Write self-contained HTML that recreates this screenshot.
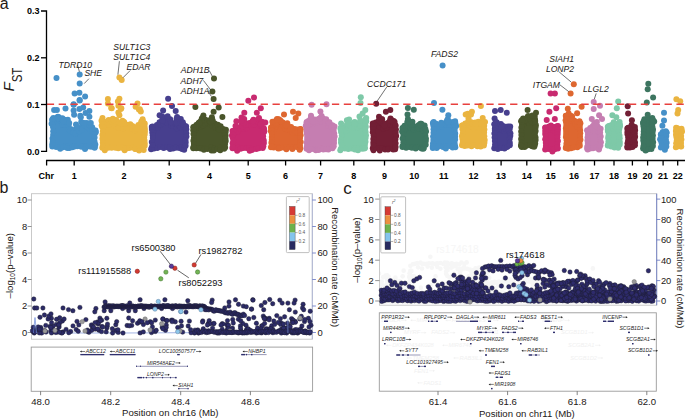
<!DOCTYPE html><html><head><meta charset="utf-8"><style>html,body{margin:0;padding:0;background:#fff;width:685px;height:419px;overflow:hidden}svg{display:block}</style></head><body><svg width="685" height="419" viewBox="0 0 685 419" font-family='"Liberation Sans", sans-serif'><rect width="685" height="419" fill="#fff"/><text x="-0.3" y="8.7" font-size="16" text-anchor="start" font-weight="normal" font-style="normal" fill="#231815" >a</text><g fill="#4690c8"><polygon points="52.3,123.2 54.1,122.5 55.9,121.7 57.7,120.9 59.5,121.6 61.3,122.5 63.1,123.5 64.9,124.4 66.7,126.6 68.5,128.8 70.3,131.1 72.1,133.2 73.9,132.9 75.7,132.6 77.5,132.4 79.3,131.0 81.1,129.3 82.9,127.5 84.7,125.8 86.5,126.2 88.3,127.2 90.1,128.1 91.9,130.0 93.7,131.8 95.5,133.7 95.5,146.5 52.3,146.5"/><circle cx="52.3" cy="120.0" r="3.0"/><circle cx="51.6" cy="123.7" r="3.0"/><circle cx="54.2" cy="119.4" r="3.0"/><circle cx="53.9" cy="121.1" r="3.0"/><circle cx="56.8" cy="117.8" r="3.0"/><circle cx="56.7" cy="120.0" r="3.0"/><circle cx="58.8" cy="118.1" r="3.0"/><circle cx="59.4" cy="120.1" r="3.0"/><circle cx="60.9" cy="119.5" r="3.0"/><circle cx="61.8" cy="122.6" r="3.0"/><circle cx="63.4" cy="121.1" r="3.0"/><circle cx="62.5" cy="124.7" r="3.0"/><circle cx="65.6" cy="121.9" r="3.0"/><circle cx="64.9" cy="124.7" r="3.0"/><circle cx="68.7" cy="125.8" r="3.0"/><circle cx="68.9" cy="129.6" r="3.0"/><circle cx="71.1" cy="129.2" r="3.0"/><circle cx="70.3" cy="130.8" r="3.0"/><circle cx="73.3" cy="130.2" r="3.0"/><circle cx="73.1" cy="132.5" r="3.0"/><circle cx="76.0" cy="129.6" r="3.0"/><circle cx="75.6" cy="133.5" r="3.0"/><circle cx="78.9" cy="128.2" r="3.0"/><circle cx="79.1" cy="131.5" r="3.0"/><circle cx="82.1" cy="125.5" r="3.0"/><circle cx="81.7" cy="129.7" r="3.0"/><circle cx="84.1" cy="123.3" r="3.0"/><circle cx="84.6" cy="125.3" r="3.0"/><circle cx="86.7" cy="122.9" r="3.0"/><circle cx="87.0" cy="127.1" r="3.0"/><circle cx="89.4" cy="125.1" r="3.0"/><circle cx="89.0" cy="128.3" r="3.0"/><circle cx="92.2" cy="127.3" r="3.0"/><circle cx="92.1" cy="131.2" r="3.0"/><circle cx="95.5" cy="130.6" r="3.0"/><circle cx="95.8" cy="132.3" r="3.0"/><circle cx="80.3" cy="115.7" r="3.0"/><circle cx="81.2" cy="122.1" r="3.0"/><circle cx="64.6" cy="119.7" r="3.0"/><circle cx="65.1" cy="121.2" r="3.0"/><circle cx="53.3" cy="117.9" r="3.0"/><circle cx="52.3" cy="119.6" r="3.0"/><circle cx="57.4" cy="117.4" r="3.0"/><circle cx="58.2" cy="118.5" r="3.0"/><circle cx="57.9" cy="116.7" r="3.0"/><circle cx="57.6" cy="118.0" r="3.0"/><circle cx="89.9" cy="124.3" r="3.0"/><circle cx="89.8" cy="125.4" r="3.0"/><circle cx="76.0" cy="124.4" r="3.0"/><circle cx="77.0" cy="127.7" r="3.0"/><circle cx="89.6" cy="123.6" r="3.0"/><circle cx="89.4" cy="125.0" r="3.0"/><circle cx="67.8" cy="119.7" r="3.0"/><circle cx="69.2" cy="123.1" r="3.0"/><circle cx="58.8" cy="117.3" r="3.0"/><circle cx="58.0" cy="118.5" r="3.0"/><circle cx="62.4" cy="118.2" r="3.0"/><circle cx="62.6" cy="119.9" r="3.0"/><circle cx="63.7" cy="120.3" r="3.0"/><circle cx="63.4" cy="121.3" r="3.0"/><circle cx="52.3" cy="146.6" r="3.0"/><circle cx="56.2" cy="147.0" r="3.0"/><circle cx="59.4" cy="147.0" r="3.0"/><circle cx="60.2" cy="148.7" r="3.0"/><circle cx="63.2" cy="147.2" r="3.0"/><circle cx="66.0" cy="146.2" r="3.0"/><circle cx="68.1" cy="146.1" r="3.0"/><circle cx="67.4" cy="148.0" r="3.0"/><circle cx="70.2" cy="146.0" r="3.0"/><circle cx="69.4" cy="148.1" r="3.0"/><circle cx="72.3" cy="147.3" r="3.0"/><circle cx="74.6" cy="146.4" r="3.0"/><circle cx="77.3" cy="146.2" r="3.0"/><circle cx="81.3" cy="146.7" r="3.0"/><circle cx="83.5" cy="146.2" r="3.0"/><circle cx="86.0" cy="147.2" r="3.0"/><circle cx="85.0" cy="149.0" r="3.0"/><circle cx="89.0" cy="146.2" r="3.0"/><circle cx="91.1" cy="146.8" r="3.0"/><circle cx="94.8" cy="147.0" r="3.0"/><circle cx="94.6" cy="147.8" r="3.0"/><circle cx="52.8" cy="120.7" r="3.0"/><circle cx="52.6" cy="124.4" r="3.0"/><circle cx="53.1" cy="127.2" r="3.0"/><circle cx="53.2" cy="131.2" r="3.0"/><circle cx="53.1" cy="134.9" r="3.0"/><circle cx="52.5" cy="138.5" r="3.0"/><circle cx="52.7" cy="141.8" r="3.0"/><circle cx="52.3" cy="144.3" r="3.0"/><circle cx="95.2" cy="130.7" r="3.0"/><circle cx="94.5" cy="134.2" r="3.0"/><circle cx="94.6" cy="137.4" r="3.0"/><circle cx="94.5" cy="141.4" r="3.0"/><circle cx="95.3" cy="144.4" r="3.0"/><circle cx="56.5" cy="78.1" r="3.0"/><circle cx="79.7" cy="74.6" r="3.0"/><circle cx="79.7" cy="83.6" r="3.0"/><circle cx="74.6" cy="93.4" r="3.0"/><circle cx="79.4" cy="92.7" r="3.0"/><circle cx="85.1" cy="96.5" r="3.0"/><circle cx="79.6" cy="99.9" r="3.0"/><circle cx="73.7" cy="104.2" r="3.0"/><circle cx="79.7" cy="100.5" r="3.0"/><circle cx="54.1" cy="110" r="3.0"/><circle cx="56.9" cy="110" r="3.0"/><circle cx="65.5" cy="108.6" r="3.0"/><circle cx="73.6" cy="104.8" r="3.0"/><circle cx="73.6" cy="110.5" r="3.0"/><circle cx="74.1" cy="114.8" r="3.0"/><circle cx="79.4" cy="109" r="3.0"/><circle cx="83.2" cy="107.6" r="3.0"/><circle cx="89.4" cy="111" r="3.0"/><circle cx="80.8" cy="117.2" r="3.0"/><circle cx="89.4" cy="116.7" r="3.0"/><circle cx="83.7" cy="122.9" r="3.0"/><circle cx="90.8" cy="122.9" r="3.0"/><circle cx="85.6" cy="112.9" r="3.0"/></g><g fill="#eab440"><polygon points="102.3,125.1 104.1,125.1 105.9,124.4 107.6,123.8 109.4,123.2 111.2,122.6 113.0,123.0 114.8,124.2 116.5,125.5 118.3,126.5 120.1,126.8 121.9,127.1 123.7,127.3 125.4,127.5 127.2,127.3 129.0,127.1 130.8,127.7 132.5,129.4 134.3,131.2 136.1,130.6 137.9,128.7 139.7,126.9 141.4,126.6 143.2,126.8 145.0,127.0 145.0,148.0 102.3,148.0"/><circle cx="102.3" cy="121.8" r="3.0"/><circle cx="101.7" cy="125.5" r="3.0"/><circle cx="105.5" cy="121.9" r="3.0"/><circle cx="105.5" cy="125.0" r="3.0"/><circle cx="108.6" cy="120.1" r="3.0"/><circle cx="108.9" cy="124.7" r="3.0"/><circle cx="111.7" cy="119.7" r="3.0"/><circle cx="111.6" cy="121.5" r="3.0"/><circle cx="114.7" cy="121.0" r="3.0"/><circle cx="115.3" cy="125.6" r="3.0"/><circle cx="117.2" cy="122.8" r="3.0"/><circle cx="118.1" cy="126.6" r="3.0"/><circle cx="119.2" cy="123.3" r="3.0"/><circle cx="118.5" cy="127.9" r="3.0"/><circle cx="122.3" cy="123.8" r="3.0"/><circle cx="123.0" cy="128.6" r="3.0"/><circle cx="125.2" cy="124.3" r="3.0"/><circle cx="125.3" cy="126.4" r="3.0"/><circle cx="127.0" cy="124.8" r="3.0"/><circle cx="127.3" cy="127.4" r="3.0"/><circle cx="130.3" cy="124.2" r="3.0"/><circle cx="131.0" cy="128.3" r="3.0"/><circle cx="132.4" cy="126.1" r="3.0"/><circle cx="132.0" cy="128.6" r="3.0"/><circle cx="135.2" cy="128.4" r="3.0"/><circle cx="135.0" cy="130.5" r="3.0"/><circle cx="138.4" cy="125.0" r="3.0"/><circle cx="138.3" cy="128.4" r="3.0"/><circle cx="141.7" cy="123.6" r="3.0"/><circle cx="142.5" cy="126.7" r="3.0"/><circle cx="144.3" cy="124.0" r="3.0"/><circle cx="143.4" cy="126.8" r="3.0"/><circle cx="102.5" cy="118.1" r="3.0"/><circle cx="101.5" cy="120.8" r="3.0"/><circle cx="122.5" cy="120.8" r="3.0"/><circle cx="122.7" cy="123.2" r="3.0"/><circle cx="116.2" cy="120.1" r="3.0"/><circle cx="116.4" cy="122.0" r="3.0"/><circle cx="135.8" cy="127.2" r="3.0"/><circle cx="136.0" cy="128.3" r="3.0"/><circle cx="112.9" cy="118.7" r="3.0"/><circle cx="113.7" cy="120.1" r="3.0"/><circle cx="124.0" cy="122.0" r="3.0"/><circle cx="124.8" cy="123.9" r="3.0"/><circle cx="141.3" cy="121.8" r="3.0"/><circle cx="141.6" cy="123.5" r="3.0"/><circle cx="123.9" cy="122.3" r="3.0"/><circle cx="124.5" cy="124.1" r="3.0"/><circle cx="121.6" cy="121.8" r="3.0"/><circle cx="121.5" cy="123.7" r="3.0"/><circle cx="142.5" cy="120.6" r="3.0"/><circle cx="143.6" cy="122.9" r="3.0"/><circle cx="142.5" cy="122.6" r="3.0"/><circle cx="142.7" cy="123.9" r="3.0"/><circle cx="142.6" cy="119.2" r="3.0"/><circle cx="141.5" cy="122.2" r="3.0"/><circle cx="102.3" cy="147.7" r="3.0"/><circle cx="104.4" cy="147.9" r="3.0"/><circle cx="104.8" cy="150.3" r="3.0"/><circle cx="108.2" cy="147.7" r="3.0"/><circle cx="111.6" cy="147.7" r="3.0"/><circle cx="115.5" cy="147.8" r="3.0"/><circle cx="118.3" cy="148.2" r="3.0"/><circle cx="122.0" cy="147.7" r="3.0"/><circle cx="125.0" cy="148.0" r="3.0"/><circle cx="124.6" cy="150.2" r="3.0"/><circle cx="127.0" cy="148.3" r="3.0"/><circle cx="129.1" cy="148.0" r="3.0"/><circle cx="132.1" cy="147.6" r="3.0"/><circle cx="135.7" cy="149.0" r="3.0"/><circle cx="135.2" cy="149.1" r="3.0"/><circle cx="139.2" cy="147.9" r="3.0"/><circle cx="139.1" cy="150.5" r="3.0"/><circle cx="142.9" cy="147.9" r="3.0"/><circle cx="143.7" cy="149.9" r="3.0"/><circle cx="102.4" cy="121.6" r="3.0"/><circle cx="103.0" cy="124.2" r="3.0"/><circle cx="102.4" cy="127.3" r="3.0"/><circle cx="102.9" cy="131.2" r="3.0"/><circle cx="102.4" cy="134.9" r="3.0"/><circle cx="102.4" cy="138.7" r="3.0"/><circle cx="102.8" cy="142.5" r="3.0"/><circle cx="102.9" cy="145.5" r="3.0"/><circle cx="144.7" cy="123.5" r="3.0"/><circle cx="144.5" cy="126.2" r="3.0"/><circle cx="144.9" cy="129.1" r="3.0"/><circle cx="144.9" cy="131.8" r="3.0"/><circle cx="144.7" cy="134.6" r="3.0"/><circle cx="144.2" cy="137.6" r="3.0"/><circle cx="144.5" cy="140.5" r="3.0"/><circle cx="144.7" cy="143.3" r="3.0"/><circle cx="144.7" cy="145.8" r="3.0"/><circle cx="119.4" cy="77.6" r="3.0"/><circle cx="121.7" cy="80" r="3.0"/><circle cx="107.9" cy="99.1" r="3.0"/><circle cx="107.9" cy="103.4" r="3.0"/><circle cx="111.7" cy="108.2" r="3.0"/><circle cx="119.4" cy="98.7" r="3.0"/><circle cx="117.9" cy="101.5" r="3.0"/><circle cx="118.4" cy="105.8" r="3.0"/><circle cx="121.3" cy="108.2" r="3.0"/><circle cx="137.5" cy="103.4" r="3.0"/><circle cx="135.6" cy="106.8" r="3.0"/><circle cx="139.9" cy="109.2" r="3.0"/><circle cx="111.2" cy="108.1" r="3.0"/><circle cx="120.8" cy="109.1" r="3.0"/><circle cx="118.4" cy="112.4" r="3.0"/><circle cx="119.4" cy="115.3" r="3.0"/><circle cx="140.8" cy="111.5" r="3.0"/><circle cx="138.9" cy="109.6" r="3.0"/></g><g fill="#473f8e"><polygon points="151.8,129.9 153.5,129.9 155.3,129.6 157.0,127.7 158.7,125.9 160.5,124.3 162.2,123.6 163.9,122.9 165.7,122.9 167.4,124.0 169.2,125.1 170.9,126.2 172.6,126.9 174.4,126.9 176.1,126.9 177.8,126.9 179.6,126.9 181.3,127.5 183.0,128.4 184.8,129.3 186.5,129.9 186.5,147.6 151.8,147.6"/><circle cx="151.8" cy="127.1" r="3.0"/><circle cx="151.9" cy="129.0" r="3.0"/><circle cx="154.4" cy="127.3" r="3.0"/><circle cx="153.6" cy="130.9" r="3.0"/><circle cx="156.9" cy="124.9" r="3.0"/><circle cx="157.5" cy="127.6" r="3.0"/><circle cx="159.5" cy="122.3" r="3.0"/><circle cx="160.4" cy="124.6" r="3.0"/><circle cx="162.6" cy="120.7" r="3.0"/><circle cx="162.9" cy="123.2" r="3.0"/><circle cx="164.9" cy="119.1" r="3.0"/><circle cx="164.2" cy="121.2" r="3.0"/><circle cx="167.9" cy="121.1" r="3.0"/><circle cx="167.3" cy="123.1" r="3.0"/><circle cx="171.1" cy="123.7" r="3.0"/><circle cx="171.4" cy="125.7" r="3.0"/><circle cx="173.3" cy="123.7" r="3.0"/><circle cx="173.2" cy="125.9" r="3.0"/><circle cx="175.8" cy="123.7" r="3.0"/><circle cx="176.7" cy="128.3" r="3.0"/><circle cx="178.5" cy="123.6" r="3.0"/><circle cx="179.4" cy="126.3" r="3.0"/><circle cx="180.8" cy="123.8" r="3.0"/><circle cx="180.6" cy="127.2" r="3.0"/><circle cx="183.4" cy="125.3" r="3.0"/><circle cx="183.4" cy="127.1" r="3.0"/><circle cx="185.7" cy="126.3" r="3.0"/><circle cx="185.5" cy="128.4" r="3.0"/><circle cx="162.4" cy="119.5" r="3.0"/><circle cx="162.6" cy="120.8" r="3.0"/><circle cx="170.2" cy="119.2" r="3.0"/><circle cx="170.6" cy="121.7" r="3.0"/><circle cx="176.6" cy="118.8" r="3.0"/><circle cx="176.3" cy="122.1" r="3.0"/><circle cx="163.1" cy="110.6" r="3.0"/><circle cx="162.1" cy="116.2" r="3.0"/><circle cx="176.9" cy="121.1" r="3.0"/><circle cx="175.6" cy="123.3" r="3.0"/><circle cx="180.8" cy="118.9" r="3.0"/><circle cx="181.2" cy="122.3" r="3.0"/><circle cx="177.3" cy="119.7" r="3.0"/><circle cx="176.2" cy="122.6" r="3.0"/><circle cx="170.0" cy="120.6" r="3.0"/><circle cx="171.0" cy="122.4" r="3.0"/><circle cx="179.7" cy="119.5" r="3.0"/><circle cx="180.0" cy="122.5" r="3.0"/><circle cx="182.8" cy="122.3" r="3.0"/><circle cx="183.4" cy="124.5" r="3.0"/><circle cx="151.8" cy="147.4" r="3.0"/><circle cx="151.1" cy="149.2" r="3.0"/><circle cx="154.0" cy="148.4" r="3.0"/><circle cx="157.3" cy="148.0" r="3.0"/><circle cx="160.2" cy="147.1" r="3.0"/><circle cx="163.7" cy="147.9" r="3.0"/><circle cx="167.1" cy="147.2" r="3.0"/><circle cx="169.6" cy="147.2" r="3.0"/><circle cx="170.0" cy="148.9" r="3.0"/><circle cx="173.0" cy="148.6" r="3.0"/><circle cx="175.8" cy="147.8" r="3.0"/><circle cx="179.3" cy="148.0" r="3.0"/><circle cx="181.5" cy="147.3" r="3.0"/><circle cx="182.0" cy="149.1" r="3.0"/><circle cx="184.6" cy="147.1" r="3.0"/><circle cx="184.2" cy="149.7" r="3.0"/><circle cx="152.5" cy="126.4" r="3.0"/><circle cx="152.3" cy="129.3" r="3.0"/><circle cx="152.3" cy="132.5" r="3.0"/><circle cx="152.7" cy="135.2" r="3.0"/><circle cx="152.8" cy="138.0" r="3.0"/><circle cx="151.8" cy="141.9" r="3.0"/><circle cx="152.6" cy="145.1" r="3.0"/><circle cx="186.1" cy="126.4" r="3.0"/><circle cx="186.3" cy="129.3" r="3.0"/><circle cx="186.3" cy="133.2" r="3.0"/><circle cx="186.4" cy="136.6" r="3.0"/><circle cx="185.5" cy="139.9" r="3.0"/><circle cx="185.7" cy="142.6" r="3.0"/><circle cx="185.6" cy="145.8" r="3.0"/><circle cx="168.1" cy="98.7" r="3.0"/><circle cx="172" cy="106" r="3.0"/><circle cx="175.7" cy="111.1" r="3.0"/><circle cx="159.6" cy="115.2" r="3.0"/><circle cx="167.6" cy="116.2" r="3.0"/><circle cx="177.1" cy="117" r="3.0"/></g><g fill="#4a552b"><polygon points="193.3,130.5 195.0,130.5 196.7,128.8 198.5,127.0 200.2,125.4 201.9,124.4 203.6,123.3 205.3,122.6 207.1,123.4 208.8,124.1 210.5,124.9 212.2,125.6 214.0,126.2 215.7,126.8 217.4,127.5 219.1,128.1 220.8,129.3 222.6,131.1 224.3,132.9 226.0,134.7 226.0,148.1 193.3,148.1"/><circle cx="193.3" cy="127.2" r="3.0"/><circle cx="194.1" cy="130.5" r="3.0"/><circle cx="195.1" cy="126.9" r="3.0"/><circle cx="195.1" cy="130.2" r="3.0"/><circle cx="197.4" cy="124.7" r="3.0"/><circle cx="197.1" cy="127.5" r="3.0"/><circle cx="200.6" cy="121.7" r="3.0"/><circle cx="201.1" cy="126.2" r="3.0"/><circle cx="202.6" cy="121.4" r="3.0"/><circle cx="203.0" cy="125.2" r="3.0"/><circle cx="204.8" cy="119.5" r="3.0"/><circle cx="204.6" cy="124.1" r="3.0"/><circle cx="207.6" cy="120.5" r="3.0"/><circle cx="207.4" cy="122.9" r="3.0"/><circle cx="209.4" cy="121.0" r="3.0"/><circle cx="210.1" cy="123.8" r="3.0"/><circle cx="212.7" cy="122.5" r="3.0"/><circle cx="212.3" cy="125.8" r="3.0"/><circle cx="214.8" cy="123.4" r="3.0"/><circle cx="215.8" cy="127.7" r="3.0"/><circle cx="217.9" cy="124.8" r="3.0"/><circle cx="218.8" cy="129.0" r="3.0"/><circle cx="220.6" cy="126.3" r="3.0"/><circle cx="219.7" cy="129.7" r="3.0"/><circle cx="223.1" cy="128.9" r="3.0"/><circle cx="223.4" cy="131.0" r="3.0"/><circle cx="225.0" cy="131.1" r="3.0"/><circle cx="224.3" cy="133.6" r="3.0"/><circle cx="203.0" cy="117.2" r="3.0"/><circle cx="204.5" cy="119.7" r="3.0"/><circle cx="201.8" cy="118.6" r="3.0"/><circle cx="201.2" cy="120.7" r="3.0"/><circle cx="211.5" cy="120.7" r="3.0"/><circle cx="210.5" cy="122.2" r="3.0"/><circle cx="198.6" cy="122.9" r="3.0"/><circle cx="199.8" cy="124.2" r="3.0"/><circle cx="209.6" cy="120.4" r="3.0"/><circle cx="210.8" cy="121.7" r="3.0"/><circle cx="225.9" cy="129.7" r="3.0"/><circle cx="224.8" cy="131.4" r="3.0"/><circle cx="199.6" cy="122.2" r="3.0"/><circle cx="199.1" cy="123.3" r="3.0"/><circle cx="196.3" cy="125.1" r="3.0"/><circle cx="195.6" cy="126.4" r="3.0"/><circle cx="211.9" cy="117.2" r="3.0"/><circle cx="212.7" cy="120.6" r="3.0"/><circle cx="193.3" cy="148.2" r="3.0"/><circle cx="196.3" cy="148.2" r="3.0"/><circle cx="198.5" cy="148.0" r="3.0"/><circle cx="200.7" cy="148.4" r="3.0"/><circle cx="204.4" cy="147.9" r="3.0"/><circle cx="203.9" cy="149.7" r="3.0"/><circle cx="207.3" cy="149.0" r="3.0"/><circle cx="211.1" cy="147.6" r="3.0"/><circle cx="211.5" cy="150.5" r="3.0"/><circle cx="214.0" cy="148.5" r="3.0"/><circle cx="213.8" cy="150.6" r="3.0"/><circle cx="217.7" cy="148.9" r="3.0"/><circle cx="220.2" cy="147.8" r="3.0"/><circle cx="220.2" cy="150.2" r="3.0"/><circle cx="224.1" cy="148.7" r="3.0"/><circle cx="193.8" cy="127.0" r="3.0"/><circle cx="193.3" cy="130.3" r="3.0"/><circle cx="193.5" cy="134.0" r="3.0"/><circle cx="193.9" cy="137.9" r="3.0"/><circle cx="193.4" cy="140.8" r="3.0"/><circle cx="193.9" cy="143.7" r="3.0"/><circle cx="193.4" cy="147.3" r="3.0"/><circle cx="225.5" cy="132.2" r="3.0"/><circle cx="225.6" cy="135.6" r="3.0"/><circle cx="225.4" cy="138.4" r="3.0"/><circle cx="225.7" cy="140.9" r="3.0"/><circle cx="225.0" cy="144.1" r="3.0"/><circle cx="225.1" cy="147.6" r="3.0"/><circle cx="214" cy="78.5" r="3.0"/><circle cx="212.4" cy="91.4" r="3.0"/><circle cx="213.6" cy="99.1" r="3.0"/><circle cx="195.4" cy="107" r="3.0"/><circle cx="218.7" cy="107.4" r="3.0"/><circle cx="213.6" cy="111.8" r="3.0"/><circle cx="203.4" cy="115.5" r="3.0"/><circle cx="222.4" cy="117" r="3.0"/></g><g fill="#c82a70"><polygon points="232.5,134.2 234.2,133.2 236.0,132.2 237.8,131.3 239.5,130.3 241.2,129.4 243.0,128.7 244.8,127.9 246.5,127.1 248.2,126.3 250.0,125.5 251.8,124.9 253.5,124.3 255.2,123.7 257.0,123.1 258.8,123.8 260.5,126.3 262.2,128.7 264.0,131.1 264.0,148.2 232.5,148.2"/><circle cx="232.5" cy="131.0" r="3.0"/><circle cx="232.0" cy="135.6" r="3.0"/><circle cx="235.4" cy="129.4" r="3.0"/><circle cx="234.5" cy="132.6" r="3.0"/><circle cx="238.3" cy="127.9" r="3.0"/><circle cx="237.8" cy="131.5" r="3.0"/><circle cx="241.6" cy="126.0" r="3.0"/><circle cx="240.7" cy="128.8" r="3.0"/><circle cx="244.1" cy="125.4" r="3.0"/><circle cx="243.5" cy="129.1" r="3.0"/><circle cx="247.0" cy="123.8" r="3.0"/><circle cx="246.5" cy="128.2" r="3.0"/><circle cx="249.3" cy="123.1" r="3.0"/><circle cx="248.8" cy="125.0" r="3.0"/><circle cx="252.4" cy="121.5" r="3.0"/><circle cx="253.3" cy="124.7" r="3.0"/><circle cx="254.5" cy="120.7" r="3.0"/><circle cx="254.3" cy="124.5" r="3.0"/><circle cx="257.8" cy="119.5" r="3.0"/><circle cx="257.6" cy="122.0" r="3.0"/><circle cx="261.1" cy="123.8" r="3.0"/><circle cx="260.2" cy="125.8" r="3.0"/><circle cx="263.6" cy="127.9" r="3.0"/><circle cx="264.3" cy="131.2" r="3.0"/><circle cx="261.8" cy="123.7" r="3.0"/><circle cx="260.9" cy="125.2" r="3.0"/><circle cx="262.0" cy="121.8" r="3.0"/><circle cx="260.6" cy="124.3" r="3.0"/><circle cx="253.4" cy="119.8" r="3.0"/><circle cx="253.1" cy="121.3" r="3.0"/><circle cx="242.9" cy="124.8" r="3.0"/><circle cx="241.5" cy="126.0" r="3.0"/><circle cx="241.3" cy="125.0" r="3.0"/><circle cx="242.7" cy="126.4" r="3.0"/><circle cx="236.4" cy="121.2" r="3.0"/><circle cx="235.5" cy="125.9" r="3.0"/><circle cx="243.7" cy="121.0" r="3.0"/><circle cx="244.7" cy="123.9" r="3.0"/><circle cx="246.1" cy="123.6" r="3.0"/><circle cx="246.0" cy="124.7" r="3.0"/><circle cx="244.2" cy="119.0" r="3.0"/><circle cx="243.3" cy="122.8" r="3.0"/><circle cx="232.5" cy="148.2" r="3.0"/><circle cx="234.6" cy="148.3" r="3.0"/><circle cx="238.1" cy="147.8" r="3.0"/><circle cx="237.2" cy="150.7" r="3.0"/><circle cx="240.6" cy="148.8" r="3.0"/><circle cx="243.3" cy="148.1" r="3.0"/><circle cx="246.5" cy="148.1" r="3.0"/><circle cx="249.2" cy="148.1" r="3.0"/><circle cx="249.7" cy="150.7" r="3.0"/><circle cx="252.4" cy="149.1" r="3.0"/><circle cx="251.9" cy="150.0" r="3.0"/><circle cx="256.3" cy="149.1" r="3.0"/><circle cx="258.8" cy="148.3" r="3.0"/><circle cx="262.7" cy="148.0" r="3.0"/><circle cx="233.3" cy="131.0" r="3.0"/><circle cx="233.1" cy="134.7" r="3.0"/><circle cx="232.8" cy="137.7" r="3.0"/><circle cx="233.3" cy="140.7" r="3.0"/><circle cx="232.7" cy="143.3" r="3.0"/><circle cx="232.7" cy="146.9" r="3.0"/><circle cx="264.0" cy="129.0" r="3.0"/><circle cx="263.7" cy="132.3" r="3.0"/><circle cx="263.1" cy="136.3" r="3.0"/><circle cx="263.7" cy="140.3" r="3.0"/><circle cx="263.9" cy="142.9" r="3.0"/><circle cx="263.3" cy="146.2" r="3.0"/><circle cx="248.3" cy="100.7" r="3.0"/><circle cx="254" cy="97.5" r="3.0"/><circle cx="260.8" cy="108.3" r="3.0"/><circle cx="244.3" cy="112.7" r="3.0"/><circle cx="256.8" cy="112.7" r="3.0"/><circle cx="241.5" cy="117.6" r="3.0"/><circle cx="241.5" cy="120.8" r="3.0"/><circle cx="259" cy="118" r="3.0"/><circle cx="265.3" cy="122.6" r="3.0"/></g><g fill="#de6730"><polygon points="271.0,130.7 272.7,129.4 274.5,128.0 276.2,126.6 278.0,125.3 279.7,123.9 281.5,124.8 283.2,126.0 285.0,127.3 286.7,128.5 288.5,129.8 290.2,130.9 292.0,131.2 293.7,131.5 295.5,131.8 297.2,132.1 299.0,132.3 300.7,132.5 300.7,147.3 271.0,147.3"/><circle cx="271.0" cy="127.5" r="3.0"/><circle cx="270.8" cy="131.1" r="3.0"/><circle cx="273.9" cy="125.7" r="3.0"/><circle cx="274.6" cy="129.0" r="3.0"/><circle cx="275.9" cy="124.3" r="3.0"/><circle cx="275.5" cy="127.1" r="3.0"/><circle cx="278.3" cy="122.3" r="3.0"/><circle cx="277.7" cy="124.3" r="3.0"/><circle cx="280.5" cy="120.7" r="3.0"/><circle cx="281.2" cy="124.3" r="3.0"/><circle cx="282.8" cy="122.6" r="3.0"/><circle cx="283.8" cy="125.7" r="3.0"/><circle cx="285.0" cy="124.6" r="3.0"/><circle cx="285.3" cy="128.7" r="3.0"/><circle cx="286.9" cy="125.7" r="3.0"/><circle cx="287.6" cy="129.7" r="3.0"/><circle cx="290.2" cy="127.5" r="3.0"/><circle cx="289.8" cy="129.8" r="3.0"/><circle cx="292.3" cy="128.7" r="3.0"/><circle cx="292.5" cy="132.6" r="3.0"/><circle cx="294.7" cy="129.0" r="3.0"/><circle cx="294.6" cy="130.9" r="3.0"/><circle cx="297.7" cy="129.6" r="3.0"/><circle cx="296.9" cy="132.4" r="3.0"/><circle cx="300.5" cy="129.2" r="3.0"/><circle cx="300.3" cy="131.4" r="3.0"/><circle cx="278.6" cy="119.3" r="3.0"/><circle cx="279.0" cy="121.3" r="3.0"/><circle cx="277.0" cy="122.5" r="3.0"/><circle cx="276.5" cy="123.5" r="3.0"/><circle cx="291.1" cy="127.1" r="3.0"/><circle cx="290.6" cy="128.4" r="3.0"/><circle cx="277.0" cy="119.0" r="3.0"/><circle cx="277.2" cy="121.8" r="3.0"/><circle cx="272.9" cy="125.5" r="3.0"/><circle cx="272.6" cy="126.6" r="3.0"/><circle cx="287.3" cy="123.2" r="3.0"/><circle cx="286.1" cy="125.4" r="3.0"/><circle cx="275.9" cy="120.8" r="3.0"/><circle cx="275.6" cy="123.1" r="3.0"/><circle cx="279.4" cy="119.8" r="3.0"/><circle cx="280.8" cy="121.3" r="3.0"/><circle cx="271.0" cy="147.3" r="3.0"/><circle cx="273.7" cy="147.4" r="3.0"/><circle cx="277.7" cy="147.3" r="3.0"/><circle cx="278.2" cy="148.6" r="3.0"/><circle cx="279.7" cy="148.2" r="3.0"/><circle cx="283.4" cy="147.4" r="3.0"/><circle cx="286.3" cy="147.0" r="3.0"/><circle cx="286.4" cy="149.3" r="3.0"/><circle cx="290.1" cy="146.9" r="3.0"/><circle cx="292.8" cy="147.6" r="3.0"/><circle cx="292.4" cy="149.1" r="3.0"/><circle cx="296.7" cy="147.0" r="3.0"/><circle cx="300.3" cy="148.3" r="3.0"/><circle cx="299.6" cy="149.8" r="3.0"/><circle cx="271.5" cy="128.0" r="3.0"/><circle cx="271.9" cy="130.6" r="3.0"/><circle cx="271.9" cy="133.7" r="3.0"/><circle cx="271.8" cy="137.1" r="3.0"/><circle cx="271.8" cy="139.8" r="3.0"/><circle cx="271.4" cy="142.7" r="3.0"/><circle cx="271.8" cy="146.4" r="3.0"/><circle cx="300.5" cy="129.0" r="3.0"/><circle cx="300.2" cy="132.1" r="3.0"/><circle cx="300.6" cy="135.2" r="3.0"/><circle cx="300.0" cy="138.0" r="3.0"/><circle cx="300.7" cy="141.9" r="3.0"/><circle cx="299.9" cy="145.2" r="3.0"/><circle cx="284" cy="114.5" r="3.0"/><circle cx="293" cy="111.8" r="3.0"/><circle cx="298.3" cy="113.6" r="3.0"/><circle cx="295.7" cy="118.1" r="3.0"/><circle cx="272.4" cy="121.7" r="3.0"/><circle cx="276.9" cy="119.9" r="3.0"/></g><g fill="#c57eb1"><polygon points="306.6,125.5 308.2,125.4 309.9,124.8 311.5,124.1 313.2,123.5 314.8,122.9 316.5,122.5 318.1,122.2 319.8,121.9 321.4,121.6 323.1,121.3 324.7,121.1 326.4,122.5 328.0,124.4 329.7,126.2 331.3,128.1 333.0,129.9 334.6,130.0 334.6,148.2 306.6,148.2"/><circle cx="306.6" cy="122.8" r="3.0"/><circle cx="305.8" cy="125.8" r="3.0"/><circle cx="309.3" cy="122.1" r="3.0"/><circle cx="308.9" cy="124.8" r="3.0"/><circle cx="312.0" cy="120.9" r="3.0"/><circle cx="312.3" cy="123.8" r="3.0"/><circle cx="314.5" cy="119.5" r="3.0"/><circle cx="314.8" cy="123.0" r="3.0"/><circle cx="316.7" cy="119.8" r="3.0"/><circle cx="317.2" cy="122.4" r="3.0"/><circle cx="318.8" cy="119.1" r="3.0"/><circle cx="318.0" cy="121.0" r="3.0"/><circle cx="321.3" cy="118.3" r="3.0"/><circle cx="321.2" cy="121.7" r="3.0"/><circle cx="323.1" cy="118.5" r="3.0"/><circle cx="322.3" cy="122.0" r="3.0"/><circle cx="326.2" cy="119.3" r="3.0"/><circle cx="325.3" cy="122.3" r="3.0"/><circle cx="328.6" cy="122.5" r="3.0"/><circle cx="327.9" cy="126.1" r="3.0"/><circle cx="332.0" cy="126.1" r="3.0"/><circle cx="332.6" cy="127.9" r="3.0"/><circle cx="320.4" cy="111.4" r="3.0"/><circle cx="321.6" cy="115.9" r="3.0"/><circle cx="311.2" cy="117.3" r="3.0"/><circle cx="312.5" cy="120.0" r="3.0"/><circle cx="308.4" cy="120.9" r="3.0"/><circle cx="309.2" cy="122.4" r="3.0"/><circle cx="311.0" cy="115.8" r="3.0"/><circle cx="310.4" cy="119.3" r="3.0"/><circle cx="329.4" cy="122.2" r="3.0"/><circle cx="329.4" cy="123.3" r="3.0"/><circle cx="332.4" cy="125.3" r="3.0"/><circle cx="331.6" cy="126.5" r="3.0"/><circle cx="320.8" cy="117.4" r="3.0"/><circle cx="319.4" cy="118.8" r="3.0"/><circle cx="311.7" cy="120.2" r="3.0"/><circle cx="313.0" cy="121.4" r="3.0"/><circle cx="306.6" cy="148.7" r="3.0"/><circle cx="308.9" cy="148.9" r="3.0"/><circle cx="309.0" cy="150.2" r="3.0"/><circle cx="311.7" cy="149.0" r="3.0"/><circle cx="314.8" cy="149.0" r="3.0"/><circle cx="315.8" cy="150.2" r="3.0"/><circle cx="317.6" cy="148.9" r="3.0"/><circle cx="318.6" cy="150.1" r="3.0"/><circle cx="320.3" cy="148.8" r="3.0"/><circle cx="322.7" cy="148.8" r="3.0"/><circle cx="323.3" cy="149.6" r="3.0"/><circle cx="326.0" cy="149.2" r="3.0"/><circle cx="329.3" cy="148.2" r="3.0"/><circle cx="328.4" cy="149.4" r="3.0"/><circle cx="332.5" cy="148.3" r="3.0"/><circle cx="306.7" cy="122.0" r="3.0"/><circle cx="307.3" cy="124.8" r="3.0"/><circle cx="306.6" cy="127.4" r="3.0"/><circle cx="306.7" cy="130.4" r="3.0"/><circle cx="306.8" cy="133.4" r="3.0"/><circle cx="307.2" cy="136.8" r="3.0"/><circle cx="307.2" cy="139.6" r="3.0"/><circle cx="306.7" cy="142.8" r="3.0"/><circle cx="306.8" cy="146.7" r="3.0"/><circle cx="334.5" cy="126.5" r="3.0"/><circle cx="333.7" cy="130.0" r="3.0"/><circle cx="334.2" cy="133.6" r="3.0"/><circle cx="334.6" cy="136.5" r="3.0"/><circle cx="334.0" cy="140.0" r="3.0"/><circle cx="334.0" cy="143.0" r="3.0"/><circle cx="333.7" cy="146.2" r="3.0"/><circle cx="311.6" cy="104.7" r="3.0"/><circle cx="326.5" cy="104.3" r="3.0"/></g><g fill="#7ec9a8"><polygon points="340.9,131.5 342.6,131.2 344.2,130.3 345.9,129.5 347.6,128.6 349.2,127.7 350.9,127.2 352.6,127.1 354.2,126.9 355.9,126.8 357.6,126.6 359.2,126.5 360.9,126.0 362.6,125.2 364.2,124.4 365.9,123.5 365.9,148.2 340.9,148.2"/><circle cx="340.9" cy="128.2" r="3.0"/><circle cx="341.7" cy="130.1" r="3.0"/><circle cx="343.6" cy="127.6" r="3.0"/><circle cx="343.0" cy="129.4" r="3.0"/><circle cx="346.6" cy="125.6" r="3.0"/><circle cx="346.7" cy="130.4" r="3.0"/><circle cx="348.6" cy="124.7" r="3.0"/><circle cx="348.8" cy="128.0" r="3.0"/><circle cx="351.5" cy="124.5" r="3.0"/><circle cx="350.8" cy="126.6" r="3.0"/><circle cx="353.7" cy="123.5" r="3.0"/><circle cx="354.5" cy="127.8" r="3.0"/><circle cx="356.7" cy="123.2" r="3.0"/><circle cx="357.4" cy="127.4" r="3.0"/><circle cx="359.2" cy="123.7" r="3.0"/><circle cx="359.1" cy="125.6" r="3.0"/><circle cx="361.2" cy="122.6" r="3.0"/><circle cx="360.3" cy="125.3" r="3.0"/><circle cx="364.2" cy="121.6" r="3.0"/><circle cx="364.9" cy="125.0" r="3.0"/><circle cx="354.7" cy="122.1" r="3.0"/><circle cx="355.6" cy="123.7" r="3.0"/><circle cx="354.0" cy="122.8" r="3.0"/><circle cx="354.4" cy="124.1" r="3.0"/><circle cx="365.0" cy="119.9" r="3.0"/><circle cx="366.2" cy="121.2" r="3.0"/><circle cx="341.3" cy="127.3" r="3.0"/><circle cx="340.5" cy="128.7" r="3.0"/><circle cx="359.5" cy="116.6" r="3.0"/><circle cx="360.2" cy="120.8" r="3.0"/><circle cx="349.1" cy="119.6" r="3.0"/><circle cx="348.6" cy="123.0" r="3.0"/><circle cx="346.9" cy="120.2" r="3.0"/><circle cx="347.3" cy="123.8" r="3.0"/><circle cx="340.9" cy="148.7" r="3.0"/><circle cx="344.9" cy="148.4" r="3.0"/><circle cx="348.3" cy="149.0" r="3.0"/><circle cx="351.7" cy="148.6" r="3.0"/><circle cx="354.1" cy="148.6" r="3.0"/><circle cx="354.9" cy="149.4" r="3.0"/><circle cx="356.2" cy="147.9" r="3.0"/><circle cx="358.9" cy="147.9" r="3.0"/><circle cx="358.0" cy="150.3" r="3.0"/><circle cx="362.1" cy="148.7" r="3.0"/><circle cx="364.3" cy="148.6" r="3.0"/><circle cx="341.7" cy="128.0" r="3.0"/><circle cx="341.0" cy="131.8" r="3.0"/><circle cx="341.8" cy="135.6" r="3.0"/><circle cx="341.0" cy="139.6" r="3.0"/><circle cx="341.0" cy="142.4" r="3.0"/><circle cx="341.7" cy="144.9" r="3.0"/><circle cx="365.3" cy="120.0" r="3.0"/><circle cx="365.3" cy="123.7" r="3.0"/><circle cx="365.8" cy="126.7" r="3.0"/><circle cx="365.1" cy="129.3" r="3.0"/><circle cx="365.6" cy="132.1" r="3.0"/><circle cx="365.9" cy="135.3" r="3.0"/><circle cx="365.6" cy="138.1" r="3.0"/><circle cx="365.5" cy="141.7" r="3.0"/><circle cx="364.9" cy="144.7" r="3.0"/><circle cx="365.0" cy="148.0" r="3.0"/><circle cx="360.8" cy="97.2" r="3.0"/><circle cx="360.5" cy="102.9" r="3.0"/><circle cx="365.3" cy="110" r="3.0"/><circle cx="362.6" cy="113.6" r="3.0"/><circle cx="366.2" cy="118.1" r="3.0"/><circle cx="341.1" cy="123.5" r="3.0"/><circle cx="340.3" cy="150.3" r="3.0"/></g><g fill="#721f35"><polygon points="372.8,126.9 374.5,126.1 376.2,125.4 377.8,124.6 379.5,125.7 381.2,127.0 382.9,128.3 384.6,129.6 386.2,128.7 387.9,127.0 389.6,125.3 391.3,123.6 392.9,123.8 394.6,125.6 396.3,127.3 396.3,148.2 372.8,148.2"/><circle cx="372.8" cy="123.5" r="3.0"/><circle cx="372.6" cy="126.7" r="3.0"/><circle cx="375.8" cy="122.4" r="3.0"/><circle cx="376.2" cy="125.6" r="3.0"/><circle cx="378.0" cy="121.9" r="3.0"/><circle cx="377.2" cy="125.5" r="3.0"/><circle cx="380.1" cy="122.6" r="3.0"/><circle cx="379.5" cy="126.9" r="3.0"/><circle cx="383.4" cy="125.3" r="3.0"/><circle cx="383.4" cy="128.7" r="3.0"/><circle cx="386.5" cy="125.1" r="3.0"/><circle cx="386.5" cy="128.0" r="3.0"/><circle cx="389.6" cy="122.0" r="3.0"/><circle cx="390.5" cy="124.6" r="3.0"/><circle cx="391.8" cy="120.2" r="3.0"/><circle cx="391.8" cy="121.9" r="3.0"/><circle cx="394.6" cy="122.1" r="3.0"/><circle cx="395.2" cy="126.1" r="3.0"/><circle cx="387.6" cy="122.9" r="3.0"/><circle cx="387.3" cy="124.4" r="3.0"/><circle cx="382.1" cy="119.3" r="3.0"/><circle cx="380.8" cy="122.8" r="3.0"/><circle cx="393.7" cy="121.0" r="3.0"/><circle cx="392.8" cy="122.0" r="3.0"/><circle cx="379.0" cy="116.7" r="3.0"/><circle cx="379.0" cy="120.2" r="3.0"/><circle cx="381.7" cy="119.2" r="3.0"/><circle cx="380.9" cy="122.5" r="3.0"/><circle cx="383.6" cy="123.8" r="3.0"/><circle cx="384.4" cy="125.6" r="3.0"/><circle cx="390.5" cy="118.6" r="3.0"/><circle cx="390.0" cy="120.7" r="3.0"/><circle cx="372.8" cy="148.2" r="3.0"/><circle cx="373.5" cy="150.3" r="3.0"/><circle cx="376.3" cy="148.0" r="3.0"/><circle cx="379.8" cy="148.6" r="3.0"/><circle cx="379.8" cy="150.6" r="3.0"/><circle cx="382.3" cy="148.0" r="3.0"/><circle cx="385.7" cy="149.0" r="3.0"/><circle cx="385.0" cy="149.6" r="3.0"/><circle cx="388.4" cy="148.5" r="3.0"/><circle cx="388.0" cy="149.5" r="3.0"/><circle cx="392.3" cy="148.8" r="3.0"/><circle cx="393.2" cy="149.4" r="3.0"/><circle cx="395.1" cy="149.2" r="3.0"/><circle cx="373.2" cy="123.8" r="3.0"/><circle cx="373.4" cy="126.6" r="3.0"/><circle cx="373.0" cy="129.3" r="3.0"/><circle cx="372.8" cy="132.3" r="3.0"/><circle cx="373.6" cy="135.4" r="3.0"/><circle cx="373.3" cy="139.0" r="3.0"/><circle cx="373.3" cy="142.4" r="3.0"/><circle cx="373.4" cy="145.1" r="3.0"/><circle cx="395.6" cy="125.6" r="3.0"/><circle cx="395.9" cy="129.5" r="3.0"/><circle cx="395.6" cy="132.8" r="3.0"/><circle cx="396.1" cy="136.0" r="3.0"/><circle cx="395.4" cy="139.5" r="3.0"/><circle cx="395.6" cy="143.2" r="3.0"/><circle cx="395.6" cy="147.0" r="3.0"/><circle cx="376.2" cy="103.8" r="3.0"/><circle cx="385.9" cy="111.8" r="3.0"/><circle cx="390.3" cy="110" r="3.0"/></g><g fill="#3d7560"><polygon points="402.5,131.2 404.2,129.1 405.9,127.1 407.5,125.1 409.2,125.5 410.9,126.8 412.6,128.1 414.2,129.4 415.9,129.5 417.6,128.6 419.3,127.7 421.0,128.0 422.6,129.3 424.3,130.6 426.0,131.8 426.0,147.3 402.5,147.3"/><circle cx="402.5" cy="128.1" r="3.0"/><circle cx="402.1" cy="131.6" r="3.0"/><circle cx="404.5" cy="125.7" r="3.0"/><circle cx="405.0" cy="129.5" r="3.0"/><circle cx="407.3" cy="122.1" r="3.0"/><circle cx="407.1" cy="125.3" r="3.0"/><circle cx="410.1" cy="123.0" r="3.0"/><circle cx="410.4" cy="127.4" r="3.0"/><circle cx="412.2" cy="124.9" r="3.0"/><circle cx="412.7" cy="127.4" r="3.0"/><circle cx="414.7" cy="127.3" r="3.0"/><circle cx="413.8" cy="129.9" r="3.0"/><circle cx="416.8" cy="126.3" r="3.0"/><circle cx="417.7" cy="129.1" r="3.0"/><circle cx="418.8" cy="125.0" r="3.0"/><circle cx="418.8" cy="128.6" r="3.0"/><circle cx="421.4" cy="125.5" r="3.0"/><circle cx="422.0" cy="128.4" r="3.0"/><circle cx="423.8" cy="127.6" r="3.0"/><circle cx="423.3" cy="130.8" r="3.0"/><circle cx="420.4" cy="123.8" r="3.0"/><circle cx="421.9" cy="125.0" r="3.0"/><circle cx="410.9" cy="123.1" r="3.0"/><circle cx="410.2" cy="124.2" r="3.0"/><circle cx="411.9" cy="124.0" r="3.0"/><circle cx="411.6" cy="125.0" r="3.0"/><circle cx="412.4" cy="121.8" r="3.0"/><circle cx="411.9" cy="124.1" r="3.0"/><circle cx="408.7" cy="121.0" r="3.0"/><circle cx="409.5" cy="122.3" r="3.0"/><circle cx="424.6" cy="125.6" r="3.0"/><circle cx="423.7" cy="127.5" r="3.0"/><circle cx="421.3" cy="123.7" r="3.0"/><circle cx="420.5" cy="125.3" r="3.0"/><circle cx="402.5" cy="147.0" r="3.0"/><circle cx="406.1" cy="147.8" r="3.0"/><circle cx="409.2" cy="147.1" r="3.0"/><circle cx="411.9" cy="147.8" r="3.0"/><circle cx="415.6" cy="147.5" r="3.0"/><circle cx="415.7" cy="148.5" r="3.0"/><circle cx="419.2" cy="147.3" r="3.0"/><circle cx="421.8" cy="147.4" r="3.0"/><circle cx="421.6" cy="148.6" r="3.0"/><circle cx="423.8" cy="147.9" r="3.0"/><circle cx="423.3" cy="148.8" r="3.0"/><circle cx="402.9" cy="128.3" r="3.0"/><circle cx="403.2" cy="131.8" r="3.0"/><circle cx="403.4" cy="134.8" r="3.0"/><circle cx="402.6" cy="138.6" r="3.0"/><circle cx="403.4" cy="142.3" r="3.0"/><circle cx="402.6" cy="146.0" r="3.0"/><circle cx="425.4" cy="129.1" r="3.0"/><circle cx="426.0" cy="131.6" r="3.0"/><circle cx="425.3" cy="135.6" r="3.0"/><circle cx="425.9" cy="138.4" r="3.0"/><circle cx="425.8" cy="141.1" r="3.0"/><circle cx="425.7" cy="144.8" r="3.0"/><circle cx="407.9" cy="107.9" r="3.0"/><circle cx="413.8" cy="109.7" r="3.0"/><circle cx="407.5" cy="114.5" r="3.0"/><circle cx="407.9" cy="119" r="3.0"/></g><g fill="#4690c8"><polygon points="432.9,125.5 434.5,126.1 436.1,126.7 437.7,127.3 439.4,128.0 441.0,127.8 442.6,127.0 444.2,126.3 445.8,125.5 447.4,124.8 449.0,124.8 450.7,125.2 452.3,125.7 453.9,126.1 455.5,126.4 455.5,146.4 432.9,146.4"/><circle cx="432.9" cy="122.9" r="3.0"/><circle cx="433.5" cy="124.5" r="3.0"/><circle cx="436.1" cy="123.8" r="3.0"/><circle cx="436.7" cy="127.2" r="3.0"/><circle cx="439.4" cy="125.2" r="3.0"/><circle cx="440.0" cy="127.0" r="3.0"/><circle cx="442.3" cy="124.2" r="3.0"/><circle cx="442.7" cy="127.0" r="3.0"/><circle cx="445.5" cy="122.7" r="3.0"/><circle cx="445.0" cy="124.9" r="3.0"/><circle cx="447.5" cy="121.7" r="3.0"/><circle cx="446.6" cy="124.6" r="3.0"/><circle cx="449.5" cy="121.9" r="3.0"/><circle cx="449.5" cy="125.0" r="3.0"/><circle cx="452.7" cy="122.3" r="3.0"/><circle cx="453.4" cy="125.7" r="3.0"/><circle cx="455.4" cy="123.6" r="3.0"/><circle cx="456.1" cy="126.0" r="3.0"/><circle cx="454.6" cy="122.6" r="3.0"/><circle cx="455.0" cy="123.7" r="3.0"/><circle cx="447.3" cy="121.3" r="3.0"/><circle cx="447.6" cy="122.3" r="3.0"/><circle cx="448.3" cy="115.2" r="3.0"/><circle cx="447.8" cy="119.1" r="3.0"/><circle cx="455.1" cy="121.3" r="3.0"/><circle cx="455.0" cy="123.1" r="3.0"/><circle cx="453.2" cy="122.3" r="3.0"/><circle cx="453.8" cy="123.4" r="3.0"/><circle cx="447.0" cy="120.5" r="3.0"/><circle cx="448.1" cy="122.0" r="3.0"/><circle cx="441.2" cy="122.7" r="3.0"/><circle cx="441.3" cy="124.4" r="3.0"/><circle cx="432.9" cy="147.1" r="3.0"/><circle cx="432.8" cy="148.1" r="3.0"/><circle cx="436.0" cy="147.1" r="3.0"/><circle cx="436.7" cy="148.0" r="3.0"/><circle cx="439.0" cy="146.3" r="3.0"/><circle cx="443.0" cy="146.9" r="3.0"/><circle cx="445.6" cy="146.4" r="3.0"/><circle cx="445.8" cy="148.4" r="3.0"/><circle cx="449.2" cy="146.0" r="3.0"/><circle cx="453.0" cy="146.7" r="3.0"/><circle cx="452.6" cy="147.4" r="3.0"/><circle cx="455.3" cy="147.3" r="3.0"/><circle cx="433.7" cy="122.0" r="3.0"/><circle cx="433.5" cy="125.9" r="3.0"/><circle cx="433.5" cy="129.3" r="3.0"/><circle cx="433.5" cy="132.8" r="3.0"/><circle cx="433.1" cy="136.4" r="3.0"/><circle cx="433.4" cy="139.9" r="3.0"/><circle cx="433.0" cy="143.5" r="3.0"/><circle cx="432.9" cy="146.3" r="3.0"/><circle cx="454.6" cy="122.9" r="3.0"/><circle cx="455.1" cy="126.4" r="3.0"/><circle cx="454.7" cy="130.1" r="3.0"/><circle cx="455.2" cy="133.5" r="3.0"/><circle cx="455.1" cy="136.4" r="3.0"/><circle cx="455.1" cy="139.4" r="3.0"/><circle cx="454.6" cy="142.9" r="3.0"/><circle cx="454.9" cy="145.4" r="3.0"/><circle cx="442.6" cy="65.4" r="3.0"/><circle cx="434" cy="102.9" r="3.0"/><circle cx="442.4" cy="109.7" r="3.0"/></g><g fill="#eab440"><polygon points="462.0,129.1 463.6,127.8 465.3,126.6 466.9,125.3 468.6,124.7 470.2,125.4 471.9,126.0 473.5,126.7 475.1,127.3 476.8,126.9 478.4,126.6 480.1,126.3 481.7,126.0 483.4,125.6 485.0,125.5 485.0,145.5 462.0,145.5"/><circle cx="462.0" cy="125.7" r="3.0"/><circle cx="462.6" cy="129.3" r="3.0"/><circle cx="465.3" cy="123.5" r="3.0"/><circle cx="464.3" cy="126.3" r="3.0"/><circle cx="468.0" cy="121.9" r="3.0"/><circle cx="469.0" cy="124.4" r="3.0"/><circle cx="470.5" cy="122.1" r="3.0"/><circle cx="470.8" cy="124.6" r="3.0"/><circle cx="472.5" cy="122.8" r="3.0"/><circle cx="471.5" cy="126.9" r="3.0"/><circle cx="474.5" cy="124.6" r="3.0"/><circle cx="473.7" cy="128.2" r="3.0"/><circle cx="476.5" cy="123.5" r="3.0"/><circle cx="477.0" cy="126.2" r="3.0"/><circle cx="479.5" cy="123.1" r="3.0"/><circle cx="478.6" cy="127.2" r="3.0"/><circle cx="482.4" cy="123.2" r="3.0"/><circle cx="482.9" cy="124.6" r="3.0"/><circle cx="478.3" cy="121.8" r="3.0"/><circle cx="479.6" cy="123.5" r="3.0"/><circle cx="467.8" cy="113.8" r="3.0"/><circle cx="468.5" cy="118.5" r="3.0"/><circle cx="462.3" cy="125.4" r="3.0"/><circle cx="462.7" cy="126.4" r="3.0"/><circle cx="480.8" cy="122.5" r="3.0"/><circle cx="480.2" cy="123.5" r="3.0"/><circle cx="478.8" cy="122.6" r="3.0"/><circle cx="479.9" cy="123.8" r="3.0"/><circle cx="473.2" cy="122.9" r="3.0"/><circle cx="472.8" cy="124.0" r="3.0"/><circle cx="475.2" cy="122.5" r="3.0"/><circle cx="475.8" cy="124.1" r="3.0"/><circle cx="462.0" cy="145.2" r="3.0"/><circle cx="464.7" cy="146.0" r="3.0"/><circle cx="467.6" cy="145.6" r="3.0"/><circle cx="471.5" cy="146.2" r="3.0"/><circle cx="474.0" cy="145.1" r="3.0"/><circle cx="477.4" cy="146.2" r="3.0"/><circle cx="480.7" cy="146.5" r="3.0"/><circle cx="483.9" cy="145.5" r="3.0"/><circle cx="462.4" cy="125.6" r="3.0"/><circle cx="462.6" cy="129.1" r="3.0"/><circle cx="462.8" cy="133.0" r="3.0"/><circle cx="462.0" cy="135.9" r="3.0"/><circle cx="462.4" cy="138.8" r="3.0"/><circle cx="462.8" cy="142.2" r="3.0"/><circle cx="485.0" cy="122.0" r="3.0"/><circle cx="484.2" cy="125.7" r="3.0"/><circle cx="484.4" cy="129.6" r="3.0"/><circle cx="484.1" cy="132.5" r="3.0"/><circle cx="484.3" cy="136.2" r="3.0"/><circle cx="484.7" cy="140.0" r="3.0"/><circle cx="484.4" cy="142.7" r="3.0"/><circle cx="480.9" cy="106.1" r="3.0"/><circle cx="471.9" cy="111.8" r="3.0"/><circle cx="465.7" cy="114.5" r="3.0"/><circle cx="471" cy="114.5" r="3.0"/><circle cx="482.7" cy="118.1" r="3.0"/></g><g fill="#473f8e"><polygon points="494.3,127.5 495.8,127.7 497.3,128.1 498.7,128.4 500.2,128.8 501.7,129.2 503.2,129.5 504.7,129.6 506.2,129.7 507.6,129.8 509.1,129.9 510.6,130.0 510.6,147.3 494.3,147.3"/><circle cx="494.3" cy="124.2" r="3.0"/><circle cx="494.8" cy="128.8" r="3.0"/><circle cx="496.5" cy="125.0" r="3.0"/><circle cx="496.8" cy="127.8" r="3.0"/><circle cx="498.6" cy="125.2" r="3.0"/><circle cx="499.1" cy="129.3" r="3.0"/><circle cx="501.1" cy="125.6" r="3.0"/><circle cx="501.8" cy="129.9" r="3.0"/><circle cx="503.3" cy="126.6" r="3.0"/><circle cx="504.1" cy="130.7" r="3.0"/><circle cx="505.9" cy="126.7" r="3.0"/><circle cx="506.1" cy="128.8" r="3.0"/><circle cx="508.1" cy="126.5" r="3.0"/><circle cx="508.5" cy="129.4" r="3.0"/><circle cx="500.9" cy="123.9" r="3.0"/><circle cx="499.8" cy="125.7" r="3.0"/><circle cx="495.0" cy="111.1" r="3.0"/><circle cx="494.6" cy="118.6" r="3.0"/><circle cx="496.0" cy="122.1" r="3.0"/><circle cx="496.9" cy="124.2" r="3.0"/><circle cx="496.8" cy="122.5" r="3.0"/><circle cx="496.4" cy="124.5" r="3.0"/><circle cx="502.8" cy="125.9" r="3.0"/><circle cx="501.4" cy="126.9" r="3.0"/><circle cx="494.3" cy="148.3" r="3.0"/><circle cx="497.3" cy="147.7" r="3.0"/><circle cx="497.8" cy="149.0" r="3.0"/><circle cx="501.2" cy="148.0" r="3.0"/><circle cx="505.1" cy="147.2" r="3.0"/><circle cx="504.5" cy="148.6" r="3.0"/><circle cx="507.3" cy="146.9" r="3.0"/><circle cx="494.8" cy="124.0" r="3.0"/><circle cx="495.2" cy="127.9" r="3.0"/><circle cx="494.9" cy="130.5" r="3.0"/><circle cx="494.4" cy="133.6" r="3.0"/><circle cx="494.6" cy="137.6" r="3.0"/><circle cx="494.9" cy="140.9" r="3.0"/><circle cx="495.0" cy="144.8" r="3.0"/><circle cx="510.2" cy="126.5" r="3.0"/><circle cx="509.6" cy="129.2" r="3.0"/><circle cx="510.4" cy="133.2" r="3.0"/><circle cx="510.3" cy="135.8" r="3.0"/><circle cx="509.7" cy="138.8" r="3.0"/><circle cx="509.8" cy="142.7" r="3.0"/><circle cx="509.8" cy="145.2" r="3.0"/><circle cx="500.7" cy="110" r="3.0"/><circle cx="506.8" cy="112.7" r="3.0"/></g><g fill="#4a552b"><polygon points="521.1,124.1 522.6,123.5 524.0,123.0 525.5,122.4 526.9,121.9 528.4,121.7 529.9,122.2 531.3,122.7 532.8,123.3 534.2,123.8 535.7,124.4 535.7,145.5 521.1,145.5"/><circle cx="521.1" cy="121.2" r="3.0"/><circle cx="522.1" cy="122.8" r="3.0"/><circle cx="523.1" cy="120.6" r="3.0"/><circle cx="524.0" cy="123.9" r="3.0"/><circle cx="525.4" cy="119.6" r="3.0"/><circle cx="525.9" cy="121.3" r="3.0"/><circle cx="527.7" cy="118.4" r="3.0"/><circle cx="527.0" cy="121.5" r="3.0"/><circle cx="529.8" cy="118.9" r="3.0"/><circle cx="529.1" cy="122.7" r="3.0"/><circle cx="531.6" cy="120.1" r="3.0"/><circle cx="531.0" cy="121.5" r="3.0"/><circle cx="534.9" cy="120.8" r="3.0"/><circle cx="535.8" cy="125.2" r="3.0"/><circle cx="523.1" cy="118.5" r="3.0"/><circle cx="521.9" cy="120.2" r="3.0"/><circle cx="534.7" cy="116.4" r="3.0"/><circle cx="535.0" cy="119.5" r="3.0"/><circle cx="527.7" cy="117.2" r="3.0"/><circle cx="528.7" cy="118.7" r="3.0"/><circle cx="528.1" cy="115.9" r="3.0"/><circle cx="527.0" cy="117.9" r="3.0"/><circle cx="524.3" cy="119.2" r="3.0"/><circle cx="525.0" cy="120.3" r="3.0"/><circle cx="521.1" cy="145.8" r="3.0"/><circle cx="521.8" cy="146.9" r="3.0"/><circle cx="523.9" cy="145.2" r="3.0"/><circle cx="524.6" cy="147.0" r="3.0"/><circle cx="526.3" cy="145.7" r="3.0"/><circle cx="530.1" cy="145.2" r="3.0"/><circle cx="532.2" cy="146.3" r="3.0"/><circle cx="534.6" cy="145.7" r="3.0"/><circle cx="534.1" cy="146.8" r="3.0"/><circle cx="522.1" cy="121.0" r="3.0"/><circle cx="522.0" cy="125.0" r="3.0"/><circle cx="521.4" cy="127.6" r="3.0"/><circle cx="521.2" cy="131.5" r="3.0"/><circle cx="521.4" cy="135.1" r="3.0"/><circle cx="521.1" cy="139.0" r="3.0"/><circle cx="521.4" cy="142.8" r="3.0"/><circle cx="521.1" cy="145.5" r="3.0"/><circle cx="535.2" cy="121.0" r="3.0"/><circle cx="535.3" cy="123.8" r="3.0"/><circle cx="535.5" cy="127.6" r="3.0"/><circle cx="535.6" cy="131.0" r="3.0"/><circle cx="534.9" cy="133.8" r="3.0"/><circle cx="535.5" cy="137.3" r="3.0"/><circle cx="535.6" cy="140.0" r="3.0"/><circle cx="535.2" cy="143.4" r="3.0"/><circle cx="527.6" cy="110" r="3.0"/><circle cx="536" cy="112.7" r="3.0"/><circle cx="532.4" cy="115.4" r="3.0"/></g><g fill="#c82a70"><polygon points="545.2,131.0 546.6,130.9 548.0,130.8 549.5,130.7 550.9,130.6 552.3,130.4 553.7,130.2 555.2,130.0 556.6,129.7 558.0,129.5 558.0,149.0 545.2,149.0"/><circle cx="545.2" cy="127.7" r="3.0"/><circle cx="545.4" cy="131.6" r="3.0"/><circle cx="548.3" cy="127.8" r="3.0"/><circle cx="547.7" cy="129.5" r="3.0"/><circle cx="551.3" cy="127.5" r="3.0"/><circle cx="551.7" cy="129.2" r="3.0"/><circle cx="554.4" cy="126.9" r="3.0"/><circle cx="555.1" cy="131.2" r="3.0"/><circle cx="557.0" cy="126.2" r="3.0"/><circle cx="557.8" cy="129.6" r="3.0"/><circle cx="548.6" cy="126.8" r="3.0"/><circle cx="549.6" cy="128.0" r="3.0"/><circle cx="549.9" cy="126.8" r="3.0"/><circle cx="549.5" cy="128.0" r="3.0"/><circle cx="552.8" cy="126.9" r="3.0"/><circle cx="552.9" cy="127.9" r="3.0"/><circle cx="550.9" cy="125.5" r="3.0"/><circle cx="549.8" cy="127.3" r="3.0"/><circle cx="545.2" cy="149.6" r="3.0"/><circle cx="548.9" cy="149.0" r="3.0"/><circle cx="551.7" cy="149.6" r="3.0"/><circle cx="552.4" cy="151.5" r="3.0"/><circle cx="554.7" cy="149.3" r="3.0"/><circle cx="557.8" cy="148.5" r="3.0"/><circle cx="545.4" cy="127.5" r="3.0"/><circle cx="545.5" cy="130.2" r="3.0"/><circle cx="545.2" cy="133.9" r="3.0"/><circle cx="545.9" cy="136.5" r="3.0"/><circle cx="545.2" cy="139.3" r="3.0"/><circle cx="545.8" cy="142.7" r="3.0"/><circle cx="545.9" cy="146.0" r="3.0"/><circle cx="546.1" cy="148.7" r="3.0"/><circle cx="558.0" cy="126.0" r="3.0"/><circle cx="557.5" cy="128.7" r="3.0"/><circle cx="557.7" cy="131.9" r="3.0"/><circle cx="557.6" cy="134.6" r="3.0"/><circle cx="557.4" cy="137.3" r="3.0"/><circle cx="557.9" cy="141.1" r="3.0"/><circle cx="557.3" cy="144.5" r="3.0"/><circle cx="557.2" cy="147.2" r="3.0"/><circle cx="550.6" cy="93.5" r="3.0"/><circle cx="554.9" cy="93.5" r="3.0"/><circle cx="549.4" cy="111.8" r="3.0"/><circle cx="556.2" cy="108.3" r="3.0"/><circle cx="546.7" cy="119.9" r="3.0"/><circle cx="554.8" cy="119" r="3.0"/></g><g fill="#de6730"><polygon points="565.8,119.2 567.3,119.7 568.7,120.2 570.2,120.8 571.6,121.4 573.1,122.3 574.6,123.4 576.0,124.4 577.5,125.5 578.9,126.5 580.4,127.3 580.4,147.3 565.8,147.3"/><circle cx="565.8" cy="116.1" r="3.0"/><circle cx="565.6" cy="120.2" r="3.0"/><circle cx="568.4" cy="117.0" r="3.0"/><circle cx="569.3" cy="121.0" r="3.0"/><circle cx="570.8" cy="117.8" r="3.0"/><circle cx="570.5" cy="120.8" r="3.0"/><circle cx="574.2" cy="120.4" r="3.0"/><circle cx="575.0" cy="124.0" r="3.0"/><circle cx="577.3" cy="121.9" r="3.0"/><circle cx="577.3" cy="126.7" r="3.0"/><circle cx="569.4" cy="115.8" r="3.0"/><circle cx="569.8" cy="117.4" r="3.0"/><circle cx="571.1" cy="116.0" r="3.0"/><circle cx="569.8" cy="117.8" r="3.0"/><circle cx="572.1" cy="116.5" r="3.0"/><circle cx="570.7" cy="118.3" r="3.0"/><circle cx="567.8" cy="108.7" r="3.0"/><circle cx="568.7" cy="113.6" r="3.0"/><circle cx="579.5" cy="121.2" r="3.0"/><circle cx="580.4" cy="123.3" r="3.0"/><circle cx="565.8" cy="148.1" r="3.0"/><circle cx="567.9" cy="147.8" r="3.0"/><circle cx="568.2" cy="148.7" r="3.0"/><circle cx="571.0" cy="148.2" r="3.0"/><circle cx="573.5" cy="147.6" r="3.0"/><circle cx="577.4" cy="147.2" r="3.0"/><circle cx="565.9" cy="115.7" r="3.0"/><circle cx="566.8" cy="119.1" r="3.0"/><circle cx="566.1" cy="122.4" r="3.0"/><circle cx="566.3" cy="125.6" r="3.0"/><circle cx="565.9" cy="128.3" r="3.0"/><circle cx="566.1" cy="131.0" r="3.0"/><circle cx="566.1" cy="134.1" r="3.0"/><circle cx="565.9" cy="137.0" r="3.0"/><circle cx="566.6" cy="140.3" r="3.0"/><circle cx="566.4" cy="143.7" r="3.0"/><circle cx="566.0" cy="147.2" r="3.0"/><circle cx="579.9" cy="123.8" r="3.0"/><circle cx="579.8" cy="127.1" r="3.0"/><circle cx="580.1" cy="130.3" r="3.0"/><circle cx="580.2" cy="133.2" r="3.0"/><circle cx="580.0" cy="136.5" r="3.0"/><circle cx="580.4" cy="139.8" r="3.0"/><circle cx="579.5" cy="142.9" r="3.0"/><circle cx="579.8" cy="145.7" r="3.0"/><circle cx="573.8" cy="84.3" r="3.0"/><circle cx="570.6" cy="93.5" r="3.0"/><circle cx="581.6" cy="106.8" r="3.0"/><circle cx="577.1" cy="113.3" r="3.0"/></g><g fill="#c57eb1"><polygon points="587.2,133.4 588.7,132.4 590.2,131.4 591.8,130.3 593.3,129.6 594.8,130.2 596.3,130.8 597.9,131.4 599.4,132.1 600.9,132.3 600.9,147.6 587.2,147.6"/><circle cx="587.2" cy="130.2" r="3.0"/><circle cx="588.2" cy="132.8" r="3.0"/><circle cx="590.2" cy="128.0" r="3.0"/><circle cx="589.4" cy="132.5" r="3.0"/><circle cx="592.7" cy="126.2" r="3.0"/><circle cx="592.5" cy="129.5" r="3.0"/><circle cx="595.7" cy="127.2" r="3.0"/><circle cx="595.2" cy="132.0" r="3.0"/><circle cx="598.7" cy="128.4" r="3.0"/><circle cx="598.4" cy="131.3" r="3.0"/><circle cx="595.6" cy="122.9" r="3.0"/><circle cx="596.6" cy="126.0" r="3.0"/><circle cx="594.3" cy="123.6" r="3.0"/><circle cx="595.0" cy="126.0" r="3.0"/><circle cx="597.6" cy="126.4" r="3.0"/><circle cx="598.5" cy="128.1" r="3.0"/><circle cx="596.9" cy="122.1" r="3.0"/><circle cx="595.8" cy="125.9" r="3.0"/><circle cx="587.2" cy="148.4" r="3.0"/><circle cx="587.7" cy="149.5" r="3.0"/><circle cx="590.2" cy="148.5" r="3.0"/><circle cx="593.0" cy="148.3" r="3.0"/><circle cx="596.2" cy="147.7" r="3.0"/><circle cx="599.2" cy="148.2" r="3.0"/><circle cx="598.9" cy="149.5" r="3.0"/><circle cx="587.5" cy="130.7" r="3.0"/><circle cx="588.0" cy="134.4" r="3.0"/><circle cx="587.6" cy="137.6" r="3.0"/><circle cx="587.5" cy="140.4" r="3.0"/><circle cx="587.8" cy="143.1" r="3.0"/><circle cx="587.3" cy="146.5" r="3.0"/><circle cx="600.6" cy="128.8" r="3.0"/><circle cx="600.1" cy="132.6" r="3.0"/><circle cx="600.7" cy="136.5" r="3.0"/><circle cx="600.0" cy="139.6" r="3.0"/><circle cx="600.9" cy="142.2" r="3.0"/><circle cx="600.4" cy="145.5" r="3.0"/><circle cx="593.7" cy="102" r="3.0"/><circle cx="600" cy="105.8" r="3.0"/><circle cx="593.7" cy="109" r="3.0"/><circle cx="599.1" cy="115.3" r="3.0"/><circle cx="602" cy="119.1" r="3.0"/><circle cx="591.8" cy="119.1" r="3.0"/></g><g fill="#7ec9a8"><polygon points="607.8,129.5 609.1,129.0 610.5,128.4 611.8,127.9 613.2,127.3 614.5,126.7 615.9,127.0 617.2,127.8 618.6,128.6 619.9,129.4 619.9,145.7 607.8,145.7"/><circle cx="607.8" cy="126.8" r="3.0"/><circle cx="607.9" cy="131.0" r="3.0"/><circle cx="610.4" cy="125.5" r="3.0"/><circle cx="610.8" cy="128.1" r="3.0"/><circle cx="612.8" cy="124.5" r="3.0"/><circle cx="612.5" cy="128.8" r="3.0"/><circle cx="615.7" cy="123.9" r="3.0"/><circle cx="614.9" cy="126.5" r="3.0"/><circle cx="618.1" cy="125.4" r="3.0"/><circle cx="618.3" cy="129.5" r="3.0"/><circle cx="613.7" cy="122.3" r="3.0"/><circle cx="614.1" cy="123.9" r="3.0"/><circle cx="619.9" cy="125.0" r="3.0"/><circle cx="619.9" cy="126.4" r="3.0"/><circle cx="617.7" cy="124.2" r="3.0"/><circle cx="617.1" cy="125.4" r="3.0"/><circle cx="619.6" cy="121.9" r="3.0"/><circle cx="619.7" cy="124.9" r="3.0"/><circle cx="607.8" cy="145.4" r="3.0"/><circle cx="611.2" cy="146.4" r="3.0"/><circle cx="615.0" cy="145.8" r="3.0"/><circle cx="614.5" cy="147.5" r="3.0"/><circle cx="618.0" cy="145.5" r="3.0"/><circle cx="618.2" cy="147.7" r="3.0"/><circle cx="608.8" cy="126.0" r="3.0"/><circle cx="607.8" cy="129.5" r="3.0"/><circle cx="608.6" cy="132.6" r="3.0"/><circle cx="608.5" cy="135.5" r="3.0"/><circle cx="608.1" cy="138.0" r="3.0"/><circle cx="608.4" cy="141.8" r="3.0"/><circle cx="608.0" cy="145.3" r="3.0"/><circle cx="619.3" cy="126.0" r="3.0"/><circle cx="619.3" cy="128.9" r="3.0"/><circle cx="618.9" cy="132.2" r="3.0"/><circle cx="619.5" cy="135.6" r="3.0"/><circle cx="619.7" cy="138.2" r="3.0"/><circle cx="619.8" cy="141.9" r="3.0"/><circle cx="619.7" cy="144.5" r="3.0"/><circle cx="618.2" cy="101.4" r="3.0"/><circle cx="616.8" cy="108.2" r="3.0"/><circle cx="612.4" cy="115.3" r="3.0"/><circle cx="616.3" cy="117.2" r="3.0"/></g><g fill="#721f35"><polygon points="627.3,131.3 628.6,131.2 629.9,131.1 631.2,130.9 632.6,130.8 633.9,130.6 635.2,130.5 635.2,146.7 627.3,146.7"/><circle cx="627.3" cy="128.6" r="3.0"/><circle cx="627.5" cy="132.2" r="3.0"/><circle cx="629.2" cy="127.7" r="3.0"/><circle cx="629.7" cy="130.6" r="3.0"/><circle cx="632.1" cy="127.7" r="3.0"/><circle cx="631.5" cy="130.1" r="3.0"/><circle cx="634.1" cy="128.0" r="3.0"/><circle cx="634.3" cy="130.1" r="3.0"/><circle cx="630.3" cy="127.4" r="3.0"/><circle cx="631.5" cy="128.5" r="3.0"/><circle cx="631.9" cy="120.3" r="3.0"/><circle cx="631.7" cy="124.8" r="3.0"/><circle cx="632.2" cy="126.7" r="3.0"/><circle cx="630.8" cy="128.0" r="3.0"/><circle cx="627.3" cy="147.6" r="3.0"/><circle cx="629.9" cy="147.5" r="3.0"/><circle cx="632.5" cy="147.1" r="3.0"/><circle cx="628.2" cy="127.8" r="3.0"/><circle cx="627.7" cy="130.7" r="3.0"/><circle cx="627.5" cy="134.2" r="3.0"/><circle cx="628.2" cy="137.2" r="3.0"/><circle cx="628.1" cy="140.4" r="3.0"/><circle cx="627.5" cy="143.3" r="3.0"/><circle cx="627.5" cy="146.3" r="3.0"/><circle cx="634.9" cy="127.0" r="3.0"/><circle cx="635.1" cy="130.3" r="3.0"/><circle cx="634.8" cy="133.6" r="3.0"/><circle cx="635.1" cy="136.7" r="3.0"/><circle cx="634.4" cy="139.4" r="3.0"/><circle cx="635.0" cy="142.5" r="3.0"/><circle cx="634.9" cy="145.2" r="3.0"/><circle cx="627.7" cy="106.3" r="3.0"/><circle cx="628.1" cy="113.4" r="3.0"/></g><g fill="#3d7560"><polygon points="643.1,126.4 644.4,125.4 645.6,124.4 646.9,123.4 648.2,122.3 649.5,121.3 650.8,121.7 652.0,123.2 653.3,124.6 653.3,148.6 643.1,148.6"/><circle cx="643.1" cy="123.0" r="3.0"/><circle cx="643.4" cy="125.9" r="3.0"/><circle cx="645.1" cy="122.0" r="3.0"/><circle cx="644.3" cy="124.1" r="3.0"/><circle cx="648.3" cy="118.9" r="3.0"/><circle cx="648.2" cy="123.3" r="3.0"/><circle cx="651.4" cy="119.1" r="3.0"/><circle cx="651.1" cy="123.1" r="3.0"/><circle cx="652.9" cy="120.1" r="3.0"/><circle cx="654.2" cy="121.4" r="3.0"/><circle cx="648.2" cy="118.2" r="3.0"/><circle cx="648.1" cy="119.5" r="3.0"/><circle cx="644.4" cy="119.2" r="3.0"/><circle cx="643.7" cy="121.5" r="3.0"/><circle cx="652.3" cy="118.0" r="3.0"/><circle cx="651.9" cy="120.0" r="3.0"/><circle cx="643.1" cy="148.5" r="3.0"/><circle cx="645.5" cy="149.4" r="3.0"/><circle cx="645.6" cy="150.5" r="3.0"/><circle cx="648.1" cy="149.3" r="3.0"/><circle cx="651.4" cy="149.0" r="3.0"/><circle cx="643.2" cy="123.0" r="3.0"/><circle cx="644.0" cy="125.8" r="3.0"/><circle cx="643.8" cy="128.7" r="3.0"/><circle cx="643.7" cy="131.4" r="3.0"/><circle cx="643.6" cy="134.5" r="3.0"/><circle cx="643.2" cy="137.4" r="3.0"/><circle cx="643.3" cy="140.4" r="3.0"/><circle cx="643.8" cy="143.1" r="3.0"/><circle cx="643.5" cy="146.0" r="3.0"/><circle cx="652.5" cy="123.0" r="3.0"/><circle cx="652.4" cy="126.8" r="3.0"/><circle cx="653.0" cy="129.5" r="3.0"/><circle cx="652.6" cy="132.1" r="3.0"/><circle cx="652.9" cy="135.6" r="3.0"/><circle cx="652.6" cy="138.7" r="3.0"/><circle cx="653.1" cy="142.2" r="3.0"/><circle cx="652.9" cy="146.0" r="3.0"/><circle cx="648.3" cy="83.8" r="3.0"/><circle cx="647.7" cy="89.2" r="3.0"/><circle cx="653.1" cy="97.6" r="3.0"/><circle cx="646.8" cy="102.5" r="3.0"/><circle cx="647.7" cy="114.7" r="3.0"/><circle cx="652.5" cy="120" r="3.0"/></g><g fill="#4690c8"><polygon points="660.9,138.0 662.1,138.0 663.2,137.5 664.4,137.1 665.5,136.7 666.7,136.2 666.7,147.6 660.9,147.6"/><circle cx="660.9" cy="134.7" r="3.0"/><circle cx="660.1" cy="139.2" r="3.0"/><circle cx="663.9" cy="134.5" r="3.0"/><circle cx="663.0" cy="135.9" r="3.0"/><circle cx="665.9" cy="133.2" r="3.0"/><circle cx="665.5" cy="136.1" r="3.0"/><circle cx="662.7" cy="132.0" r="3.0"/><circle cx="661.7" cy="134.1" r="3.0"/><circle cx="665.8" cy="131.2" r="3.0"/><circle cx="666.4" cy="133.1" r="3.0"/><circle cx="660.9" cy="147.5" r="3.0"/><circle cx="664.3" cy="147.6" r="3.0"/><circle cx="664.9" cy="149.8" r="3.0"/><circle cx="660.9" cy="134.5" r="3.0"/><circle cx="661.5" cy="138.3" r="3.0"/><circle cx="661.1" cy="140.9" r="3.0"/><circle cx="661.7" cy="143.5" r="3.0"/><circle cx="661.8" cy="146.3" r="3.0"/><circle cx="666.6" cy="132.6" r="3.0"/><circle cx="666.3" cy="136.1" r="3.0"/><circle cx="665.9" cy="139.8" r="3.0"/><circle cx="666.6" cy="142.7" r="3.0"/><circle cx="666.3" cy="146.6" r="3.0"/><circle cx="664" cy="112.8" r="3.0"/><circle cx="664" cy="120.5" r="3.0"/><circle cx="662.4" cy="125.8" r="3.0"/></g><g fill="#eab440"><polygon points="675.9,134.0 677.0,133.6 678.2,133.3 679.3,133.0 680.5,132.7 681.6,132.4 681.6,146.7 675.9,146.7"/><circle cx="675.9" cy="131.1" r="3.0"/><circle cx="676.4" cy="134.9" r="3.0"/><circle cx="678.7" cy="130.1" r="3.0"/><circle cx="677.8" cy="133.8" r="3.0"/><circle cx="681.2" cy="129.5" r="3.0"/><circle cx="682.0" cy="131.4" r="3.0"/><circle cx="676.1" cy="127.7" r="3.0"/><circle cx="677.1" cy="130.1" r="3.0"/><circle cx="677.4" cy="128.3" r="3.0"/><circle cx="678.8" cy="130.2" r="3.0"/><circle cx="675.9" cy="147.2" r="3.0"/><circle cx="678.4" cy="146.3" r="3.0"/><circle cx="681.2" cy="146.5" r="3.0"/><circle cx="676.6" cy="130.7" r="3.0"/><circle cx="676.1" cy="134.2" r="3.0"/><circle cx="676.4" cy="137.1" r="3.0"/><circle cx="676.8" cy="140.2" r="3.0"/><circle cx="676.2" cy="143.3" r="3.0"/><circle cx="681.5" cy="128.8" r="3.0"/><circle cx="681.3" cy="132.1" r="3.0"/><circle cx="681.1" cy="135.9" r="3.0"/><circle cx="681.4" cy="139.5" r="3.0"/><circle cx="681.0" cy="143.0" r="3.0"/><circle cx="680.8" cy="146.2" r="3.0"/><circle cx="676.4" cy="99.3" r="3.0"/><circle cx="680.2" cy="101.2" r="3.0"/><circle cx="678.2" cy="109.9" r="3.0"/><circle cx="677.5" cy="113.6" r="3.0"/></g><line x1="46.8" y1="104.2" x2="685" y2="104.2" stroke="#e8403e" stroke-width="1.4" stroke-dasharray="7.3 4.58"/><g stroke="#000" stroke-width="1.3" fill="none"><polyline points="41,11 46.5,11 46.5,151.3 41,151.3"/><line x1="41" y1="57.8" x2="46.5" y2="57.8"/><line x1="41" y1="104.5" x2="46.5" y2="104.5"/><polyline points="46.6,165.5 46.6,160.5 685,160.5"/><line x1="74.2" y1="160.5" x2="74.2" y2="165.5"/><line x1="123.9" y1="160.5" x2="123.9" y2="165.5"/><line x1="169.2" y1="160.5" x2="169.2" y2="165.5"/><line x1="209.5" y1="160.5" x2="209.5" y2="165.5"/><line x1="248.2" y1="160.5" x2="248.2" y2="165.5"/><line x1="285.6" y1="160.5" x2="285.6" y2="165.5"/><line x1="320.6" y1="160.5" x2="320.6" y2="165.5"/><line x1="353.8" y1="160.5" x2="353.8" y2="165.5"/><line x1="384.5" y1="160.5" x2="384.5" y2="165.5"/><line x1="414.2" y1="160.5" x2="414.2" y2="165.5"/><line x1="443.7" y1="160.5" x2="443.7" y2="165.5"/><line x1="473.5" y1="160.5" x2="473.5" y2="165.5"/><line x1="501.1" y1="160.5" x2="501.1" y2="165.5"/><line x1="526.8" y1="160.5" x2="526.8" y2="165.5"/><line x1="550.7" y1="160.5" x2="550.7" y2="165.5"/><line x1="574" y1="160.5" x2="574" y2="165.5"/><line x1="594.5" y1="160.5" x2="594.5" y2="165.5"/><line x1="614" y1="160.5" x2="614" y2="165.5"/><line x1="632.4" y1="160.5" x2="632.4" y2="165.5"/><line x1="647.6" y1="160.5" x2="647.6" y2="165.5"/><line x1="663.1" y1="160.5" x2="663.1" y2="165.5"/><line x1="677.7" y1="160.5" x2="677.7" y2="165.5"/></g><text x="39.4" y="14.3" font-size="9" text-anchor="end" font-weight="bold" font-style="normal" fill="#000" >0.3</text><text x="39.4" y="61.099999999999994" font-size="9" text-anchor="end" font-weight="bold" font-style="normal" fill="#000" >0.2</text><text x="39.4" y="107.8" font-size="9" text-anchor="end" font-weight="bold" font-style="normal" fill="#000" >0.1</text><text x="39.4" y="154.60000000000002" font-size="9" text-anchor="end" font-weight="bold" font-style="normal" fill="#000" >0.0</text><text x="46.2" y="179.2" font-size="9" text-anchor="middle" font-weight="bold" font-style="normal" fill="#000" >Chr</text><text x="74.2" y="179.2" font-size="9" text-anchor="middle" font-weight="bold" font-style="normal" fill="#000" >1</text><text x="123.9" y="179.2" font-size="9" text-anchor="middle" font-weight="bold" font-style="normal" fill="#000" >2</text><text x="169.2" y="179.2" font-size="9" text-anchor="middle" font-weight="bold" font-style="normal" fill="#000" >3</text><text x="209.5" y="179.2" font-size="9" text-anchor="middle" font-weight="bold" font-style="normal" fill="#000" >4</text><text x="248.2" y="179.2" font-size="9" text-anchor="middle" font-weight="bold" font-style="normal" fill="#000" >5</text><text x="285.6" y="179.2" font-size="9" text-anchor="middle" font-weight="bold" font-style="normal" fill="#000" >6</text><text x="320.6" y="179.2" font-size="9" text-anchor="middle" font-weight="bold" font-style="normal" fill="#000" >7</text><text x="353.8" y="179.2" font-size="9" text-anchor="middle" font-weight="bold" font-style="normal" fill="#000" >8</text><text x="384.5" y="179.2" font-size="9" text-anchor="middle" font-weight="bold" font-style="normal" fill="#000" >9</text><text x="414.2" y="179.2" font-size="9" text-anchor="middle" font-weight="bold" font-style="normal" fill="#000" >10</text><text x="443.7" y="179.2" font-size="9" text-anchor="middle" font-weight="bold" font-style="normal" fill="#000" >11</text><text x="473.5" y="179.2" font-size="9" text-anchor="middle" font-weight="bold" font-style="normal" fill="#000" >12</text><text x="501.1" y="179.2" font-size="9" text-anchor="middle" font-weight="bold" font-style="normal" fill="#000" >13</text><text x="526.8" y="179.2" font-size="9" text-anchor="middle" font-weight="bold" font-style="normal" fill="#000" >14</text><text x="550.7" y="179.2" font-size="9" text-anchor="middle" font-weight="bold" font-style="normal" fill="#000" >15</text><text x="574" y="179.2" font-size="9" text-anchor="middle" font-weight="bold" font-style="normal" fill="#000" >16</text><text x="594.5" y="179.2" font-size="9" text-anchor="middle" font-weight="bold" font-style="normal" fill="#000" >17</text><text x="614" y="179.2" font-size="9" text-anchor="middle" font-weight="bold" font-style="normal" fill="#000" >18</text><text x="632.4" y="179.2" font-size="9" text-anchor="middle" font-weight="bold" font-style="normal" fill="#000" >19</text><text x="647.6" y="179.2" font-size="9" text-anchor="middle" font-weight="bold" font-style="normal" fill="#000" >20</text><text x="663.1" y="179.2" font-size="9" text-anchor="middle" font-weight="bold" font-style="normal" fill="#000" >21</text><text x="677.7" y="179.2" font-size="9" text-anchor="middle" font-weight="bold" font-style="normal" fill="#000" >22</text><text transform="translate(14.0,91.4) rotate(-90)" font-size="15.2" font-style="italic" fill="#231815">F</text><text transform="translate(21.7,82.3) rotate(-90) scale(1,1.2)" font-size="11.5" fill="#231815">ST</text><text x="58.6" y="67.5" font-size="8.6" text-anchor="start" font-weight="normal" font-style="italic" fill="#231815" >TDRD10</text><text x="84.4" y="76" font-size="8.6" text-anchor="start" font-weight="normal" font-style="italic" fill="#231815" >SHE</text><text x="150.4" y="49.7" font-size="8.6" text-anchor="end" font-weight="normal" font-style="italic" fill="#231815" >SULT1C3</text><text x="150.4" y="59.6" font-size="8.6" text-anchor="end" font-weight="normal" font-style="italic" fill="#231815" >SULT1C4</text><text x="150.4" y="70" font-size="8.6" text-anchor="end" font-weight="normal" font-style="italic" fill="#231815" >EDAR</text><text x="209.5" y="73.4" font-size="8.6" text-anchor="end" font-weight="normal" font-style="italic" fill="#231815" >ADH1B</text><text x="203.4" y="83.6" font-size="8.6" text-anchor="end" font-weight="normal" font-style="italic" fill="#231815" >ADH7</text><text x="209.5" y="93.9" font-size="8.6" text-anchor="end" font-weight="normal" font-style="italic" fill="#231815" >ADH1A</text><text x="406.2" y="86.7" font-size="8.6" text-anchor="end" font-weight="normal" font-style="italic" fill="#231815" >CCDC171</text><text x="458" y="56.7" font-size="8.6" text-anchor="end" font-weight="normal" font-style="italic" fill="#231815" >FADS2</text><text x="574.1" y="61.6" font-size="8.6" text-anchor="end" font-weight="normal" font-style="italic" fill="#231815" >SIAH1</text><text x="574.1" y="71.5" font-size="8.6" text-anchor="end" font-weight="normal" font-style="italic" fill="#231815" >LONP2</text><text x="560" y="88.1" font-size="8.6" text-anchor="end" font-weight="normal" font-style="italic" fill="#231815" >ITGAM</text><text x="583" y="92.1" font-size="8.6" text-anchor="start" font-weight="normal" font-style="italic" fill="#231815" >LLGL2</text><g stroke="#333" stroke-width="0.7" fill="none"><line x1="77.5" y1="65" x2="79.4" y2="71.7"/><line x1="84.2" y1="83.6" x2="88.9" y2="78.7"/><line x1="119.4" y1="61.2" x2="117.9" y2="74.7"/><line x1="130.2" y1="70.5" x2="123" y2="77.7"/><line x1="209.2" y1="70.5" x2="212.2" y2="76"/><line x1="203.4" y1="80.4" x2="210.7" y2="89.9"/><line x1="207.8" y1="90.7" x2="211.4" y2="96.5"/><line x1="386.7" y1="87.1" x2="376.7" y2="101.8"/><line x1="559.1" y1="71.9" x2="571.1" y2="82"/><line x1="560" y1="84.9" x2="568.7" y2="91.6"/><line x1="596.2" y1="93.4" x2="594.3" y2="99.1"/></g><text x="-0.6" y="193.3" font-size="16" text-anchor="start" font-weight="normal" font-style="normal" fill="#231815" >b</text><text x="343.2" y="193.6" font-size="17" text-anchor="start" font-weight="normal" font-style="normal" fill="#231815" >c</text><rect x="31.5" y="193.7" width="280.8" height="145.5" fill="none" stroke="#c4c4c4" stroke-width="0.9"/><g stroke="#777" stroke-width="0.8"><line x1="27.6" y1="332.5" x2="31.5" y2="332.5"/><line x1="27.6" y1="306.0" x2="31.5" y2="306.0"/><line x1="27.6" y1="279.5" x2="31.5" y2="279.5"/><line x1="27.6" y1="253.0" x2="31.5" y2="253.0"/><line x1="27.6" y1="226.5" x2="31.5" y2="226.5"/><line x1="27.6" y1="200.0" x2="31.5" y2="200.0"/></g><text x="27.2" y="335.9" font-size="9.4" text-anchor="end" font-weight="normal" font-style="normal" fill="#231815" >0</text><text x="27.2" y="309.4" font-size="9.4" text-anchor="end" font-weight="normal" font-style="normal" fill="#231815" >2</text><text x="27.2" y="282.9" font-size="9.4" text-anchor="end" font-weight="normal" font-style="normal" fill="#231815" >4</text><text x="27.2" y="256.4" font-size="9.4" text-anchor="end" font-weight="normal" font-style="normal" fill="#231815" >6</text><text x="27.2" y="229.9" font-size="9.4" text-anchor="end" font-weight="normal" font-style="normal" fill="#231815" >8</text><text x="27.2" y="203.4" font-size="9.4" text-anchor="end" font-weight="normal" font-style="normal" fill="#231815" >10</text><g stroke="#6070c0" stroke-width="0.8"><line x1="312.3" y1="193.7" x2="312.3" y2="339.2" stroke="#a6aed6"/><line x1="312.3" y1="332.5" x2="315.9" y2="332.5"/><line x1="312.3" y1="306.0" x2="315.9" y2="306.0"/><line x1="312.3" y1="279.5" x2="315.9" y2="279.5"/><line x1="312.3" y1="253.0" x2="315.9" y2="253.0"/><line x1="312.3" y1="226.5" x2="315.9" y2="226.5"/><line x1="312.3" y1="200.0" x2="315.9" y2="200.0"/></g><text x="317.4" y="335.9" font-size="9.4" text-anchor="start" font-weight="normal" font-style="normal" fill="#231815" >0</text><text x="317.4" y="309.4" font-size="9.4" text-anchor="start" font-weight="normal" font-style="normal" fill="#231815" >20</text><text x="317.4" y="282.9" font-size="9.4" text-anchor="start" font-weight="normal" font-style="normal" fill="#231815" >40</text><text x="317.4" y="256.4" font-size="9.4" text-anchor="start" font-weight="normal" font-style="normal" fill="#231815" >60</text><text x="317.4" y="229.9" font-size="9.4" text-anchor="start" font-weight="normal" font-style="normal" fill="#231815" >80</text><text x="317.4" y="203.4" font-size="9.4" text-anchor="start" font-weight="normal" font-style="normal" fill="#231815" >100</text><text transform="translate(12.6,298.4) rotate(-90)" font-size="9.6" fill="#231815">–log<tspan font-size="6.5" dy="2">10</tspan><tspan dy="-2">(p–value)</tspan></text><text transform="translate(331.6,207.2) rotate(90)" font-size="9.5" fill="#231815">Recombination rate (cM/Mb)</text><polyline fill="none" stroke="#7a94d8" stroke-width="0.7" points="32,333 120,333 205,332.6 312,332.8"/><g fill="#2c2b68" stroke="#1c1c30" stroke-width="0.45"><circle cx="38.3" cy="329.8" r="2.2"/><circle cx="44.9" cy="330.6" r="2.2"/><circle cx="39.1" cy="329.6" r="2.2"/><circle cx="34.6" cy="330.3" r="2.2"/><circle cx="40.8" cy="327.5" r="2.2"/><circle cx="33.3" cy="331.8" r="2.2"/><circle cx="33.3" cy="327.3" r="2.2"/><circle cx="41.7" cy="333.0" r="2.2"/><circle cx="45.8" cy="325.4" r="2.2"/><circle cx="41.2" cy="329.3" r="2.2"/><circle cx="34.2" cy="333.0" r="2.2"/><circle cx="39.4" cy="332.9" r="2.2"/><circle cx="34.7" cy="332.2" r="2.2"/><circle cx="32.4" cy="330.7" r="2.2"/><circle cx="38.2" cy="326.9" r="2.2"/><circle cx="39.3" cy="329.1" r="2.2"/><circle cx="73.0" cy="325.9" r="2.2"/><circle cx="70.7" cy="331.5" r="2.2"/><circle cx="99.9" cy="318.1" r="2.2"/><circle cx="91.4" cy="324.9" r="2.2"/><circle cx="63.0" cy="331.9" r="2.2"/><circle cx="61.6" cy="332.9" r="2.2"/><circle cx="87.4" cy="330.1" r="2.2"/><circle cx="91.7" cy="330.3" r="2.2"/><circle cx="97.7" cy="321.9" r="2.2"/><circle cx="46.0" cy="332.1" r="2.2"/><circle cx="95.2" cy="329.1" r="2.2"/><circle cx="98.9" cy="330.2" r="2.2"/><circle cx="49.9" cy="326.5" r="2.2"/><circle cx="88.0" cy="331.6" r="2.2"/><circle cx="50.7" cy="330.9" r="2.2"/><circle cx="98.1" cy="323.9" r="2.2"/><circle cx="52.4" cy="331.8" r="2.2"/><circle cx="51.5" cy="332.9" r="2.2"/><circle cx="89.0" cy="332.3" r="2.2"/><circle cx="76.2" cy="329.5" r="2.2"/><circle cx="56.3" cy="324.4" r="2.2"/><circle cx="53.1" cy="326.2" r="2.2"/><circle cx="52.3" cy="329.8" r="2.2"/><circle cx="57.5" cy="331.6" r="2.2"/><circle cx="98.4" cy="322.9" r="2.2"/><circle cx="62.4" cy="321.0" r="2.2"/><circle cx="57.4" cy="330.2" r="2.2"/><circle cx="92.1" cy="326.2" r="2.2"/><circle cx="51.4" cy="318.3" r="2.2"/><circle cx="57.5" cy="331.7" r="2.2"/><circle cx="87.7" cy="331.0" r="2.2"/><circle cx="62.0" cy="332.9" r="2.2"/><circle cx="50.9" cy="327.3" r="2.2"/><circle cx="59.1" cy="327.0" r="2.2"/><circle cx="66.1" cy="329.4" r="2.2"/><circle cx="97.8" cy="328.9" r="2.2"/><circle cx="77.0" cy="321.4" r="2.2"/><circle cx="55.9" cy="332.5" r="2.2"/><circle cx="95.1" cy="322.6" r="2.2"/><circle cx="59.5" cy="332.2" r="2.2"/><circle cx="85.9" cy="319.6" r="2.2"/><circle cx="56.6" cy="319.3" r="2.2"/><circle cx="93.6" cy="327.0" r="2.2"/><circle cx="68.8" cy="332.7" r="2.2"/><circle cx="48.1" cy="319.0" r="2.2"/><circle cx="58.9" cy="325.0" r="2.2"/><circle cx="59.9" cy="322.4" r="2.2"/><circle cx="78.2" cy="331.3" r="2.2"/><circle cx="115.8" cy="324.7" r="2.2"/><circle cx="106.2" cy="331.9" r="2.2"/><circle cx="150.3" cy="321.7" r="2.2"/><circle cx="155.3" cy="331.5" r="2.2"/><circle cx="182.6" cy="332.1" r="2.2"/><circle cx="101.5" cy="331.6" r="2.2"/><circle cx="140.1" cy="332.9" r="2.2"/><circle cx="115.9" cy="330.5" r="2.2"/><circle cx="151.5" cy="332.6" r="2.2"/><circle cx="132.6" cy="320.8" r="2.2"/><circle cx="188.2" cy="326.0" r="2.2"/><circle cx="162.2" cy="327.3" r="2.2"/><circle cx="112.6" cy="333.0" r="2.2"/><circle cx="101.6" cy="320.3" r="2.2"/><circle cx="163.1" cy="319.0" r="2.2"/><circle cx="101.9" cy="326.4" r="2.2"/><circle cx="143.4" cy="324.5" r="2.2"/><circle cx="128.7" cy="318.0" r="2.2"/><circle cx="106.8" cy="328.0" r="2.2"/><circle cx="166.3" cy="320.6" r="2.2"/><circle cx="166.3" cy="325.0" r="2.2"/><circle cx="171.4" cy="320.2" r="2.2"/><circle cx="131.7" cy="325.4" r="2.2"/><circle cx="181.1" cy="321.3" r="2.2"/><circle cx="137.5" cy="323.2" r="2.2"/><circle cx="177.7" cy="327.5" r="2.2"/><circle cx="156.2" cy="330.3" r="2.2"/><circle cx="152.4" cy="326.9" r="2.2"/><circle cx="107.2" cy="326.3" r="2.2"/><circle cx="189.4" cy="321.1" r="2.2"/><circle cx="165.5" cy="330.3" r="2.2"/><circle cx="166.2" cy="327.4" r="2.2"/><circle cx="139.6" cy="322.1" r="2.2"/><circle cx="107.5" cy="324.1" r="2.2"/><circle cx="102.7" cy="327.0" r="2.2"/><circle cx="143.3" cy="331.9" r="2.2"/><circle cx="162.9" cy="328.7" r="2.2"/><circle cx="155.3" cy="320.1" r="2.2"/><circle cx="123.0" cy="333.0" r="2.2"/><circle cx="127.1" cy="325.5" r="2.2"/><circle cx="118.2" cy="332.4" r="2.2"/><circle cx="181.5" cy="325.9" r="2.2"/><circle cx="139.8" cy="320.8" r="2.2"/><circle cx="129.4" cy="325.8" r="2.2"/><circle cx="117.9" cy="329.7" r="2.2"/><circle cx="172.5" cy="320.2" r="2.2"/><circle cx="179.2" cy="330.3" r="2.2"/><circle cx="152.5" cy="331.1" r="2.2"/><circle cx="112.3" cy="328.7" r="2.2"/><circle cx="175.3" cy="321.8" r="2.2"/><circle cx="232.7" cy="319.5" r="2.2"/><circle cx="206.6" cy="332.6" r="2.2"/><circle cx="217.0" cy="331.9" r="2.2"/><circle cx="202.8" cy="330.4" r="2.2"/><circle cx="227.5" cy="329.3" r="2.2"/><circle cx="208.9" cy="322.4" r="2.2"/><circle cx="248.9" cy="329.9" r="2.2"/><circle cx="194.5" cy="333.0" r="2.2"/><circle cx="242.4" cy="333.0" r="2.2"/><circle cx="232.5" cy="328.1" r="2.2"/><circle cx="208.5" cy="323.6" r="2.2"/><circle cx="191.1" cy="332.7" r="2.2"/><circle cx="217.3" cy="333.0" r="2.2"/><circle cx="239.8" cy="332.2" r="2.2"/><circle cx="198.5" cy="333.0" r="2.2"/><circle cx="227.8" cy="330.0" r="2.2"/><circle cx="227.8" cy="326.6" r="2.2"/><circle cx="238.4" cy="319.2" r="2.2"/><circle cx="231.1" cy="332.4" r="2.2"/><circle cx="218.5" cy="332.5" r="2.2"/><circle cx="190.6" cy="329.7" r="2.2"/><circle cx="232.9" cy="332.5" r="2.2"/><circle cx="206.3" cy="331.2" r="2.2"/><circle cx="231.8" cy="328.9" r="2.2"/><circle cx="226.9" cy="324.4" r="2.2"/><circle cx="213.6" cy="323.6" r="2.2"/><circle cx="244.4" cy="332.9" r="2.2"/><circle cx="246.0" cy="325.2" r="2.2"/><circle cx="197.8" cy="329.9" r="2.2"/><circle cx="227.5" cy="320.6" r="2.2"/><circle cx="212.6" cy="328.1" r="2.2"/><circle cx="242.8" cy="323.5" r="2.2"/><circle cx="246.7" cy="329.8" r="2.2"/><circle cx="229.1" cy="332.4" r="2.2"/><circle cx="233.3" cy="323.0" r="2.2"/><circle cx="228.5" cy="325.3" r="2.2"/><circle cx="202.8" cy="320.9" r="2.2"/><circle cx="248.8" cy="318.7" r="2.2"/><circle cx="222.2" cy="323.6" r="2.2"/><circle cx="209.2" cy="320.6" r="2.2"/><circle cx="241.3" cy="331.2" r="2.2"/><circle cx="195.0" cy="330.1" r="2.2"/><circle cx="223.0" cy="324.1" r="2.2"/><circle cx="219.2" cy="333.0" r="2.2"/><circle cx="238.5" cy="332.9" r="2.2"/><circle cx="238.0" cy="332.6" r="2.2"/><circle cx="210.1" cy="323.7" r="2.2"/><circle cx="198.4" cy="332.7" r="2.2"/><circle cx="221.0" cy="325.1" r="2.2"/><circle cx="240.4" cy="325.9" r="2.2"/><circle cx="246.7" cy="329.4" r="2.2"/><circle cx="246.9" cy="332.9" r="2.2"/><circle cx="203.3" cy="328.8" r="2.2"/><circle cx="207.4" cy="325.0" r="2.2"/><circle cx="228.3" cy="328.9" r="2.2"/><circle cx="240.6" cy="328.3" r="2.2"/><circle cx="208.7" cy="330.8" r="2.2"/><circle cx="240.7" cy="320.8" r="2.2"/><circle cx="202.5" cy="322.1" r="2.2"/><circle cx="248.1" cy="328.9" r="2.2"/><circle cx="224.4" cy="332.4" r="2.2"/><circle cx="222.2" cy="329.2" r="2.2"/><circle cx="226.3" cy="333.0" r="2.2"/><circle cx="248.2" cy="329.0" r="2.2"/><circle cx="214.0" cy="323.4" r="2.2"/><circle cx="284.3" cy="328.3" r="2.2"/><circle cx="292.2" cy="332.9" r="2.2"/><circle cx="282.9" cy="329.5" r="2.2"/><circle cx="308.4" cy="318.3" r="2.2"/><circle cx="266.4" cy="328.6" r="2.2"/><circle cx="257.7" cy="329.2" r="2.2"/><circle cx="299.8" cy="318.9" r="2.2"/><circle cx="279.1" cy="330.8" r="2.2"/><circle cx="261.7" cy="325.9" r="2.2"/><circle cx="306.4" cy="332.6" r="2.2"/><circle cx="297.5" cy="333.0" r="2.2"/><circle cx="261.8" cy="331.8" r="2.2"/><circle cx="291.9" cy="330.8" r="2.2"/><circle cx="271.7" cy="325.8" r="2.2"/><circle cx="256.4" cy="323.3" r="2.2"/><circle cx="257.5" cy="327.9" r="2.2"/><circle cx="265.3" cy="332.1" r="2.2"/><circle cx="282.4" cy="329.2" r="2.2"/><circle cx="272.9" cy="329.5" r="2.2"/><circle cx="282.3" cy="332.4" r="2.2"/><circle cx="262.5" cy="325.6" r="2.2"/><circle cx="288.9" cy="327.6" r="2.2"/><circle cx="301.9" cy="326.0" r="2.2"/><circle cx="302.3" cy="331.8" r="2.2"/><circle cx="295.2" cy="321.4" r="2.2"/><circle cx="305.1" cy="330.9" r="2.2"/><circle cx="269.2" cy="318.3" r="2.2"/><circle cx="263.3" cy="316.1" r="2.2"/><circle cx="304.1" cy="332.5" r="2.2"/><circle cx="264.6" cy="323.4" r="2.2"/><circle cx="265.8" cy="332.7" r="2.2"/><circle cx="300.8" cy="329.4" r="2.2"/><circle cx="298.2" cy="332.6" r="2.2"/><circle cx="274.6" cy="324.4" r="2.2"/><circle cx="251.1" cy="332.1" r="2.2"/><circle cx="291.6" cy="318.6" r="2.2"/><circle cx="309.1" cy="332.7" r="2.2"/><circle cx="280.8" cy="322.7" r="2.2"/><circle cx="280.7" cy="324.4" r="2.2"/><circle cx="261.5" cy="332.9" r="2.2"/><circle cx="256.5" cy="333.0" r="2.2"/><circle cx="283.7" cy="327.9" r="2.2"/><circle cx="284.7" cy="332.5" r="2.2"/><circle cx="261.3" cy="332.0" r="2.2"/><circle cx="301.3" cy="316.3" r="2.2"/><circle cx="306.5" cy="332.8" r="2.2"/><circle cx="253.8" cy="317.5" r="2.2"/><circle cx="278.2" cy="322.5" r="2.2"/><circle cx="269.9" cy="328.7" r="2.2"/><circle cx="281.4" cy="329.3" r="2.2"/><circle cx="286.7" cy="333.0" r="2.2"/><circle cx="292.8" cy="320.5" r="2.2"/><circle cx="261.1" cy="328.9" r="2.2"/><circle cx="295.1" cy="329.7" r="2.2"/><circle cx="261.9" cy="332.3" r="2.2"/><circle cx="281.3" cy="333.0" r="2.2"/><circle cx="304.5" cy="321.6" r="2.2"/><circle cx="293.0" cy="320.0" r="2.2"/><circle cx="288.4" cy="329.7" r="2.2"/><circle cx="286.6" cy="328.0" r="2.2"/><circle cx="309.9" cy="321.5" r="2.2"/><circle cx="265.8" cy="318.6" r="2.2"/><circle cx="295.4" cy="322.2" r="2.2"/><circle cx="299.7" cy="329.6" r="2.2"/><circle cx="304.7" cy="319.5" r="2.2"/><circle cx="292.4" cy="322.4" r="2.2"/><circle cx="296.7" cy="329.6" r="2.2"/><circle cx="294.1" cy="332.9" r="2.2"/><circle cx="270.8" cy="328.7" r="2.2"/><circle cx="250.6" cy="330.4" r="2.2"/><circle cx="289.0" cy="325.7" r="2.2"/><circle cx="264.2" cy="317.7" r="2.2"/><circle cx="290.6" cy="330.6" r="2.2"/><circle cx="290.2" cy="326.8" r="2.2"/><circle cx="282.5" cy="329.9" r="2.2"/><circle cx="311.0" cy="325.3" r="2.2"/><circle cx="292.8" cy="322.6" r="2.2"/><circle cx="309.8" cy="333.0" r="2.2"/><circle cx="287.5" cy="323.1" r="2.2"/><circle cx="265.7" cy="329.7" r="2.2"/><circle cx="253.1" cy="332.1" r="2.2"/><circle cx="272.9" cy="332.7" r="2.2"/><circle cx="265.3" cy="318.8" r="2.2"/><circle cx="283.6" cy="328.0" r="2.2"/><circle cx="309.0" cy="326.9" r="2.2"/></g><g fill="#9a9a9a" stroke="#666" stroke-width="0.45"><circle cx="82.3" cy="321.6" r="2.2"/><circle cx="145.1" cy="319.0" r="2.2"/><circle cx="161.6" cy="323.8" r="2.2"/><circle cx="45.0" cy="331.0" r="2.2"/><circle cx="55.0" cy="330.5" r="2.2"/><circle cx="85.0" cy="331.0" r="2.2"/><circle cx="150.0" cy="330.0" r="2.2"/><circle cx="180.0" cy="331.0" r="2.2"/><circle cx="230.0" cy="331.0" r="2.2"/><circle cx="300.0" cy="318.0" r="2.2"/></g><g fill="#2c2b68" stroke="#1c1c30" stroke-width="0.45"><circle cx="33.8" cy="299.0" r="2.2"/><circle cx="34.6" cy="308.0" r="2.2"/><circle cx="36.8" cy="308.0" r="2.2"/><circle cx="42.9" cy="308.0" r="2.2"/><circle cx="63.0" cy="308.0" r="2.2"/><circle cx="68.5" cy="309.6" r="2.2"/><circle cx="72.9" cy="310.7" r="2.2"/><circle cx="79.9" cy="307.4" r="2.2"/><circle cx="95.9" cy="308.5" r="2.2"/><circle cx="94.8" cy="311.8" r="2.2"/><circle cx="105.1" cy="301.9" r="2.2"/><circle cx="105.7" cy="305.8" r="2.2"/><circle cx="104.2" cy="310.7" r="2.2"/><circle cx="110.8" cy="310.7" r="2.2"/><circle cx="122.6" cy="308.5" r="2.2"/><circle cx="129.8" cy="303.0" r="2.2"/><circle cx="140.1" cy="299.7" r="2.2"/><circle cx="164.9" cy="299.7" r="2.2"/><circle cx="128.7" cy="310.7" r="2.2"/><circle cx="135.3" cy="310.7" r="2.2"/><circle cx="144.0" cy="308.5" r="2.2"/><circle cx="161.6" cy="308.5" r="2.2"/><circle cx="172.5" cy="308.5" r="2.2"/><circle cx="40.0" cy="317.2" r="2.2"/><circle cx="44.4" cy="315.0" r="2.2"/><circle cx="48.8" cy="316.1" r="2.2"/><circle cx="51.0" cy="313.9" r="2.2"/><circle cx="59.7" cy="317.7" r="2.2"/><circle cx="64.1" cy="319.0" r="2.2"/><circle cx="51.6" cy="322.7" r="2.2"/><circle cx="58.7" cy="324.9" r="2.2"/><circle cx="78.8" cy="324.9" r="2.2"/><circle cx="100.3" cy="320.5" r="2.2"/><circle cx="106.8" cy="318.3" r="2.2"/><circle cx="116.7" cy="321.6" r="2.2"/><circle cx="141.9" cy="321.6" r="2.2"/><circle cx="147.3" cy="322.7" r="2.2"/><circle cx="151.7" cy="322.7" r="2.2"/><circle cx="162.7" cy="319.0" r="2.2"/><circle cx="167.0" cy="320.5" r="2.2"/><circle cx="172.1" cy="321.6" r="2.2"/><circle cx="187.8" cy="300.7" r="2.2"/><circle cx="212.2" cy="300.1" r="2.2"/><circle cx="211.6" cy="302.5" r="2.2"/><circle cx="229.0" cy="301.9" r="2.2"/><circle cx="235.5" cy="299.8" r="2.2"/><circle cx="252.8" cy="299.8" r="2.2"/><circle cx="238.5" cy="304.3" r="2.2"/><circle cx="229.0" cy="306.1" r="2.2"/><circle cx="224.8" cy="307.9" r="2.2"/><circle cx="243.3" cy="306.1" r="2.2"/><circle cx="246.3" cy="306.7" r="2.2"/><circle cx="251.6" cy="309.1" r="2.2"/><circle cx="186.0" cy="312.1" r="2.2"/><circle cx="253.0" cy="300.1" r="2.2"/><circle cx="251.4" cy="309.1" r="2.2"/><circle cx="261.3" cy="305.5" r="2.2"/><circle cx="264.9" cy="302.5" r="2.2"/><circle cx="269.7" cy="299.5" r="2.2"/><circle cx="272.7" cy="303.7" r="2.2"/><circle cx="279.8" cy="300.1" r="2.2"/><circle cx="282.2" cy="303.1" r="2.2"/><circle cx="287.9" cy="303.1" r="2.2"/><circle cx="295.1" cy="300.1" r="2.2"/><circle cx="294.1" cy="303.1" r="2.2"/><circle cx="303.1" cy="304.3" r="2.2"/><circle cx="302.5" cy="307.9" r="2.2"/><circle cx="303.7" cy="309.7" r="2.2"/><circle cx="263.7" cy="309.7" r="2.2"/><circle cx="289.4" cy="309.7" r="2.2"/><circle cx="295.3" cy="312.1" r="2.2"/><circle cx="310.2" cy="311.2" r="2.2"/><circle cx="264.3" cy="318.6" r="2.2"/><circle cx="269.1" cy="319.8" r="2.2"/><circle cx="276.8" cy="315.6" r="2.2"/><circle cx="280.4" cy="318.6" r="2.2"/><circle cx="284.6" cy="316.8" r="2.2"/><circle cx="273.8" cy="321.0" r="2.2"/><circle cx="283.4" cy="324.0" r="2.2"/><circle cx="104.0" cy="307.1" r="2.2"/><circle cx="104.7" cy="306.6" r="2.2"/><circle cx="105.4" cy="306.8" r="2.2"/><circle cx="106.1" cy="305.8" r="2.2"/><circle cx="106.8" cy="306.5" r="2.2"/><circle cx="107.5" cy="306.8" r="2.2"/><circle cx="108.2" cy="305.8" r="2.2"/><circle cx="108.9" cy="307.0" r="2.2"/><circle cx="109.6" cy="305.9" r="2.2"/><circle cx="110.3" cy="306.4" r="2.2"/><circle cx="111.0" cy="305.9" r="2.2"/><circle cx="111.7" cy="306.4" r="2.2"/><circle cx="112.4" cy="306.6" r="2.2"/><circle cx="113.1" cy="305.8" r="2.2"/><circle cx="113.8" cy="307.0" r="2.2"/><circle cx="114.5" cy="306.3" r="2.2"/><circle cx="115.2" cy="306.4" r="2.2"/><circle cx="115.9" cy="306.5" r="2.2"/><circle cx="116.6" cy="306.2" r="2.2"/><circle cx="117.3" cy="306.1" r="2.2"/><circle cx="118.0" cy="306.6" r="2.2"/><circle cx="118.7" cy="306.5" r="2.2"/><circle cx="119.4" cy="306.1" r="2.2"/><circle cx="120.1" cy="306.7" r="2.2"/><circle cx="120.8" cy="306.1" r="2.2"/><circle cx="121.5" cy="305.7" r="2.2"/><circle cx="122.2" cy="306.0" r="2.2"/><circle cx="122.9" cy="305.8" r="2.2"/><circle cx="123.6" cy="305.9" r="2.2"/><circle cx="124.3" cy="306.8" r="2.2"/><circle cx="125.0" cy="306.2" r="2.2"/><circle cx="125.7" cy="307.0" r="2.2"/><circle cx="126.4" cy="306.7" r="2.2"/><circle cx="127.1" cy="305.8" r="2.2"/><circle cx="127.8" cy="307.1" r="2.2"/><circle cx="128.5" cy="307.0" r="2.2"/><circle cx="129.2" cy="305.8" r="2.2"/><circle cx="129.9" cy="307.0" r="2.2"/><circle cx="130.6" cy="306.3" r="2.2"/><circle cx="131.3" cy="306.4" r="2.2"/><circle cx="132.0" cy="307.1" r="2.2"/><circle cx="132.7" cy="306.0" r="2.2"/><circle cx="133.4" cy="306.4" r="2.2"/><circle cx="134.1" cy="307.0" r="2.2"/><circle cx="134.8" cy="306.7" r="2.2"/><circle cx="135.5" cy="306.4" r="2.2"/><circle cx="136.2" cy="307.1" r="2.2"/><circle cx="136.9" cy="306.8" r="2.2"/><circle cx="137.6" cy="306.5" r="2.2"/><circle cx="138.3" cy="305.9" r="2.2"/><circle cx="139.0" cy="306.6" r="2.2"/><circle cx="139.7" cy="306.3" r="2.2"/><circle cx="140.4" cy="306.0" r="2.2"/><circle cx="141.1" cy="305.8" r="2.2"/><circle cx="141.8" cy="306.4" r="2.2"/><circle cx="142.5" cy="305.9" r="2.2"/><circle cx="143.2" cy="306.3" r="2.2"/><circle cx="143.9" cy="306.6" r="2.2"/><circle cx="144.6" cy="306.3" r="2.2"/><circle cx="145.3" cy="306.1" r="2.2"/><circle cx="146.0" cy="306.5" r="2.2"/><circle cx="146.7" cy="306.3" r="2.2"/><circle cx="147.4" cy="306.8" r="2.2"/><circle cx="148.1" cy="306.4" r="2.2"/><circle cx="148.8" cy="307.1" r="2.2"/><circle cx="149.5" cy="307.0" r="2.2"/><circle cx="150.2" cy="306.7" r="2.2"/><circle cx="150.9" cy="306.0" r="2.2"/><circle cx="151.6" cy="305.9" r="2.2"/><circle cx="152.3" cy="306.9" r="2.2"/><circle cx="153.0" cy="306.8" r="2.2"/><circle cx="153.7" cy="306.6" r="2.2"/><circle cx="154.4" cy="306.2" r="2.2"/><circle cx="155.1" cy="306.1" r="2.2"/><circle cx="155.8" cy="306.7" r="2.2"/><circle cx="156.5" cy="306.5" r="2.2"/><circle cx="157.2" cy="306.5" r="2.2"/><circle cx="157.9" cy="306.6" r="2.2"/><circle cx="158.6" cy="306.8" r="2.2"/><circle cx="159.3" cy="306.0" r="2.2"/><circle cx="160.0" cy="306.0" r="2.2"/><circle cx="160.7" cy="307.1" r="2.2"/><circle cx="161.4" cy="307.0" r="2.2"/><circle cx="162.1" cy="306.9" r="2.2"/><circle cx="162.8" cy="305.8" r="2.2"/><circle cx="163.5" cy="305.8" r="2.2"/><circle cx="164.2" cy="306.1" r="2.2"/><circle cx="164.9" cy="306.3" r="2.2"/><circle cx="165.6" cy="306.6" r="2.2"/><circle cx="166.3" cy="305.8" r="2.2"/><circle cx="167.0" cy="306.5" r="2.2"/><circle cx="167.7" cy="305.8" r="2.2"/><circle cx="168.4" cy="305.8" r="2.2"/><circle cx="169.1" cy="306.6" r="2.2"/><circle cx="169.8" cy="306.5" r="2.2"/><circle cx="170.5" cy="306.6" r="2.2"/><circle cx="171.2" cy="306.2" r="2.2"/><circle cx="171.9" cy="306.4" r="2.2"/><circle cx="172.6" cy="306.0" r="2.2"/><circle cx="173.3" cy="306.2" r="2.2"/><circle cx="174.0" cy="306.7" r="2.2"/><circle cx="174.7" cy="306.9" r="2.2"/><circle cx="175.4" cy="305.8" r="2.2"/><circle cx="176.1" cy="305.9" r="2.2"/><circle cx="176.8" cy="306.8" r="2.2"/><circle cx="177.5" cy="306.6" r="2.2"/><circle cx="178.2" cy="306.8" r="2.2"/><circle cx="178.9" cy="306.0" r="2.2"/><circle cx="179.6" cy="306.3" r="2.2"/><circle cx="180.3" cy="306.1" r="2.2"/><circle cx="181.0" cy="306.8" r="2.2"/><circle cx="181.7" cy="306.2" r="2.2"/><circle cx="182.4" cy="306.6" r="2.2"/><circle cx="183.1" cy="307.1" r="2.2"/><circle cx="183.8" cy="306.2" r="2.2"/><circle cx="184.5" cy="306.5" r="2.2"/><circle cx="185.2" cy="306.7" r="2.2"/><circle cx="185.9" cy="307.0" r="2.2"/><circle cx="186.6" cy="306.3" r="2.2"/><circle cx="187.3" cy="306.2" r="2.2"/><circle cx="188.0" cy="305.8" r="2.2"/><circle cx="188.7" cy="306.9" r="2.2"/><circle cx="189.4" cy="305.8" r="2.2"/><circle cx="190.1" cy="305.8" r="2.2"/><circle cx="190.8" cy="306.5" r="2.2"/><circle cx="191.5" cy="306.4" r="2.2"/><circle cx="192.2" cy="306.7" r="2.2"/><circle cx="192.9" cy="306.1" r="2.2"/><circle cx="193.6" cy="306.8" r="2.2"/><circle cx="194.3" cy="305.8" r="2.2"/><circle cx="195.0" cy="306.0" r="2.2"/><circle cx="195.7" cy="306.6" r="2.2"/><circle cx="196.4" cy="305.8" r="2.2"/><circle cx="197.1" cy="306.1" r="2.2"/><circle cx="197.8" cy="306.7" r="2.2"/><circle cx="198.5" cy="306.7" r="2.2"/><circle cx="199.2" cy="306.1" r="2.2"/><circle cx="199.9" cy="305.9" r="2.2"/><circle cx="200.6" cy="306.2" r="2.2"/><circle cx="201.3" cy="306.7" r="2.2"/><circle cx="202.0" cy="306.2" r="2.2"/><circle cx="202.7" cy="305.9" r="2.2"/><circle cx="203.4" cy="306.7" r="2.2"/><circle cx="204.1" cy="306.5" r="2.2"/><circle cx="204.8" cy="307.0" r="2.2"/><circle cx="205.0" cy="309.6" r="2.2"/><circle cx="206.2" cy="309.7" r="2.2"/><circle cx="207.4" cy="308.8" r="2.2"/><circle cx="208.6" cy="309.9" r="2.2"/><circle cx="209.8" cy="308.9" r="2.2"/><circle cx="211.0" cy="309.1" r="2.2"/><circle cx="212.2" cy="309.5" r="2.2"/><circle cx="213.4" cy="311.0" r="2.2"/><circle cx="214.6" cy="311.1" r="2.2"/><circle cx="215.8" cy="309.8" r="2.2"/><circle cx="217.0" cy="310.3" r="2.2"/><circle cx="218.2" cy="310.5" r="2.2"/><circle cx="219.4" cy="310.7" r="2.2"/><circle cx="220.6" cy="311.0" r="2.2"/><circle cx="221.8" cy="311.2" r="2.2"/><circle cx="223.0" cy="310.9" r="2.2"/><circle cx="224.2" cy="312.0" r="2.2"/><circle cx="225.4" cy="312.8" r="2.2"/><circle cx="226.6" cy="312.4" r="2.2"/><circle cx="227.8" cy="313.3" r="2.2"/><circle cx="229.0" cy="312.9" r="2.2"/><circle cx="230.2" cy="312.1" r="2.2"/><circle cx="231.4" cy="313.7" r="2.2"/><circle cx="232.6" cy="314.2" r="2.2"/><circle cx="233.8" cy="313.0" r="2.2"/><circle cx="235.0" cy="312.6" r="2.2"/><circle cx="236.2" cy="314.0" r="2.2"/><circle cx="237.4" cy="314.3" r="2.2"/><circle cx="238.6" cy="314.5" r="2.2"/><circle cx="239.8" cy="315.7" r="2.2"/><circle cx="241.0" cy="315.2" r="2.2"/><circle cx="242.2" cy="315.7" r="2.2"/><circle cx="243.4" cy="314.2" r="2.2"/><circle cx="244.6" cy="315.5" r="2.2"/><circle cx="195.0" cy="332.3" r="2.2"/><circle cx="196.6" cy="331.1" r="2.2"/><circle cx="198.2" cy="331.1" r="2.2"/><circle cx="199.8" cy="332.2" r="2.2"/><circle cx="201.4" cy="332.4" r="2.2"/><circle cx="203.0" cy="331.1" r="2.2"/><circle cx="204.6" cy="332.0" r="2.2"/><circle cx="206.2" cy="331.2" r="2.2"/><circle cx="207.8" cy="332.2" r="2.2"/><circle cx="209.4" cy="332.0" r="2.2"/><circle cx="211.0" cy="331.4" r="2.2"/><circle cx="212.6" cy="331.4" r="2.2"/><circle cx="214.2" cy="332.2" r="2.2"/><circle cx="215.8" cy="331.8" r="2.2"/><circle cx="217.4" cy="332.2" r="2.2"/><circle cx="219.0" cy="331.6" r="2.2"/><circle cx="220.6" cy="331.5" r="2.2"/><circle cx="222.2" cy="332.5" r="2.2"/><circle cx="223.8" cy="332.1" r="2.2"/><circle cx="225.4" cy="331.8" r="2.2"/><circle cx="227.0" cy="331.9" r="2.2"/><circle cx="228.6" cy="332.2" r="2.2"/><circle cx="230.2" cy="332.1" r="2.2"/><circle cx="231.8" cy="332.5" r="2.2"/><circle cx="233.4" cy="331.7" r="2.2"/><circle cx="235.0" cy="332.3" r="2.2"/><circle cx="236.6" cy="332.1" r="2.2"/><circle cx="238.2" cy="332.4" r="2.2"/><circle cx="239.8" cy="332.3" r="2.2"/><circle cx="241.4" cy="332.3" r="2.2"/><circle cx="243.0" cy="332.4" r="2.2"/><circle cx="244.6" cy="332.5" r="2.2"/><circle cx="246.2" cy="332.0" r="2.2"/><circle cx="247.8" cy="331.8" r="2.2"/><circle cx="249.4" cy="332.1" r="2.2"/><circle cx="251.0" cy="332.3" r="2.2"/><circle cx="252.6" cy="331.7" r="2.2"/><circle cx="254.2" cy="331.7" r="2.2"/><circle cx="255.8" cy="331.2" r="2.2"/><circle cx="257.4" cy="332.2" r="2.2"/><circle cx="259.0" cy="332.6" r="2.2"/><circle cx="260.6" cy="331.6" r="2.2"/><circle cx="262.2" cy="331.3" r="2.2"/><circle cx="263.8" cy="331.3" r="2.2"/><circle cx="265.4" cy="331.7" r="2.2"/><circle cx="267.0" cy="331.5" r="2.2"/><circle cx="268.6" cy="332.6" r="2.2"/><circle cx="270.2" cy="331.1" r="2.2"/><circle cx="271.8" cy="331.5" r="2.2"/><circle cx="273.4" cy="331.2" r="2.2"/><circle cx="275.0" cy="332.0" r="2.2"/><circle cx="276.6" cy="332.2" r="2.2"/><circle cx="278.2" cy="331.3" r="2.2"/><circle cx="279.8" cy="331.1" r="2.2"/><circle cx="281.4" cy="331.7" r="2.2"/><circle cx="283.0" cy="331.9" r="2.2"/><circle cx="284.6" cy="332.5" r="2.2"/><circle cx="286.2" cy="331.1" r="2.2"/><circle cx="287.8" cy="331.2" r="2.2"/><circle cx="289.4" cy="331.3" r="2.2"/><circle cx="291.0" cy="331.3" r="2.2"/><circle cx="292.6" cy="331.4" r="2.2"/><circle cx="294.2" cy="332.1" r="2.2"/><circle cx="295.8" cy="332.0" r="2.2"/><circle cx="297.4" cy="331.4" r="2.2"/><circle cx="299.0" cy="331.3" r="2.2"/><circle cx="300.6" cy="331.4" r="2.2"/><circle cx="302.2" cy="331.3" r="2.2"/><circle cx="303.8" cy="332.2" r="2.2"/><circle cx="305.4" cy="331.5" r="2.2"/><circle cx="307.0" cy="331.9" r="2.2"/><circle cx="308.6" cy="332.3" r="2.2"/><circle cx="310.2" cy="331.8" r="2.2"/></g><polyline fill="none" stroke="#1f1d40" stroke-width="2.6" points="106,306.2 204,306.6 212,309"/><g fill="#8cc6ea" stroke="#5a7a9a" stroke-width="0.45"><circle cx="158.3" cy="301.5" r="2.2"/><circle cx="155.0" cy="309.1" r="2.2"/><circle cx="180.6" cy="311.6" r="2.2"/><circle cx="201.0" cy="309.7" r="2.2"/><circle cx="177.7" cy="331.6" r="2.2"/><circle cx="181.0" cy="311.5" r="2.2"/></g><polyline fill="none" stroke="#6a88d8" stroke-width="0.7" points="33.5,333 35,317.5 36.5,333"/><line x1="287.9" y1="318.6" x2="287.9" y2="333" stroke="#7a94d8" stroke-width="0.7"/><g fill="#d23a32" stroke="#7a1a14" stroke-width="0.45"><circle cx="137.3" cy="271.3" r="2.2"/><circle cx="174.9" cy="268.2" r="2.2"/><circle cx="194.2" cy="264.9" r="2.2"/></g><g fill="#5a3a9a" stroke="#2a1a4a" stroke-width="0.45"><circle cx="171.4" cy="266.2" r="2.2"/></g><g fill="#72b454" stroke="#3a6a2a" stroke-width="0.45"><circle cx="165.9" cy="272.1" r="2.2"/><circle cx="160.8" cy="278.8" r="2.2"/><circle cx="197.6" cy="272.0" r="2.2"/></g><text x="131.2" y="273.7" font-size="9.3" text-anchor="end" font-weight="normal" font-style="normal" fill="#111" >rs111915588</text><text x="131.6" y="250.6" font-size="9.3" text-anchor="start" font-weight="normal" font-style="normal" fill="#111" >rs6500380</text><text x="198.4" y="253.6" font-size="9.3" text-anchor="start" font-weight="normal" font-style="normal" fill="#111" >rs1982782</text><text x="178.6" y="285.9" font-size="9.3" text-anchor="start" font-weight="normal" font-style="normal" fill="#111" >rs8052293</text><g stroke="#222" stroke-width="0.7"><line x1="160.1" y1="251.2" x2="170.4" y2="264.5"/><line x1="177.5" y1="270.2" x2="188.8" y2="277.8"/><line x1="201" y1="254.4" x2="195.7" y2="263"/></g><rect x="286.4" y="196.6" width="22.80000000000001" height="56.0" fill="#fff" stroke="#b0b0b0" stroke-width="0.8" rx="1"/><rect x="289.4" y="206.4" width="5.7000000000000455" height="8.900000000000006" fill="#d63a34"/><rect x="289.4" y="215.3" width="5.7000000000000455" height="8.5" fill="#ec9040"/><rect x="289.4" y="223.8" width="5.7000000000000455" height="8.799999999999983" fill="#6db24c"/><rect x="289.4" y="232.6" width="5.7000000000000455" height="8.599999999999994" fill="#84c4ec"/><rect x="289.4" y="241.2" width="5.7000000000000455" height="8.400000000000006" fill="#272a60"/><rect x="289.4" y="206.4" width="5.7000000000000455" height="43.19999999999999" fill="none" stroke="#444" stroke-width="0.4"/><line x1="295.1" y1="215.3" x2="297.6" y2="215.3" stroke="#666" stroke-width="0.5"/><text x="298.40000000000003" y="217.0" font-size="4.8" text-anchor="start" font-weight="normal" font-style="normal" fill="#555" >0.8</text><line x1="295.1" y1="223.8" x2="297.6" y2="223.8" stroke="#666" stroke-width="0.5"/><text x="298.40000000000003" y="225.5" font-size="4.8" text-anchor="start" font-weight="normal" font-style="normal" fill="#555" >0.6</text><line x1="295.1" y1="232.6" x2="297.6" y2="232.6" stroke="#666" stroke-width="0.5"/><text x="298.40000000000003" y="234.3" font-size="4.8" text-anchor="start" font-weight="normal" font-style="normal" fill="#555" >0.4</text><line x1="295.1" y1="241.2" x2="297.6" y2="241.2" stroke="#666" stroke-width="0.5"/><text x="298.40000000000003" y="242.9" font-size="4.8" text-anchor="start" font-weight="normal" font-style="normal" fill="#555" >0.2</text><text x="296.3" y="203.4" font-size="5" font-style="italic" fill="#555">r<tspan font-size="3.5" dy="-2">2</tspan></text><rect x="31.2" y="347.1" width="281.4" height="44.2" fill="none" stroke="#9a9a9a" stroke-width="0.9"/><line x1="40.6" y1="391.3" x2="40.6" y2="395.2" stroke="#666" stroke-width="0.8"/><text x="40.6" y="404.8" font-size="9.6" text-anchor="middle" font-weight="normal" font-style="normal" fill="#231815" >48.0</text><line x1="110.7" y1="391.3" x2="110.7" y2="395.2" stroke="#666" stroke-width="0.8"/><text x="110.7" y="404.8" font-size="9.6" text-anchor="middle" font-weight="normal" font-style="normal" fill="#231815" >48.2</text><line x1="180.7" y1="391.3" x2="180.7" y2="395.2" stroke="#666" stroke-width="0.8"/><text x="180.7" y="404.8" font-size="9.6" text-anchor="middle" font-weight="normal" font-style="normal" fill="#231815" >48.4</text><line x1="250.4" y1="391.3" x2="250.4" y2="395.2" stroke="#666" stroke-width="0.8"/><text x="250.4" y="404.8" font-size="9.6" text-anchor="middle" font-weight="normal" font-style="normal" fill="#231815" >48.6</text><text x="170.3" y="416.0" font-size="9.6" text-anchor="middle" font-weight="normal" font-style="normal" fill="#231815" >Position on chr16 (Mb)</text><line x1="80.9" y1="351.5" x2="85.1" y2="351.5" stroke="#262626" stroke-width="0.6"/><polygon points="79.9,351.5 81.7,350.5 81.7,352.5" fill="#262626"/><text x="85.7" y="353.1" font-size="5.2" font-style="italic" fill="#262626">ABCC12</text><line x1="110.8" y1="351.5" x2="115.0" y2="351.5" stroke="#262626" stroke-width="0.6"/><polygon points="109.8,351.5 111.6,350.5 111.6,352.5" fill="#262626"/><text x="115.6" y="353.1" font-size="5.2" font-style="italic" fill="#262626">ABCC11</text><text x="158.8" y="353.1" font-size="5.2" font-style="italic" fill="#262626">LOC100507577</text><line x1="196.1" y1="351.5" x2="200.3" y2="351.5" stroke="#262626" stroke-width="0.6"/><polygon points="201.3,351.5 199.5,350.5 199.5,352.5" fill="#262626"/><line x1="243.5" y1="351.5" x2="247.7" y2="351.5" stroke="#262626" stroke-width="0.6"/><polygon points="242.5,351.5 244.3,350.5 244.3,352.5" fill="#262626"/><text x="248.3" y="353.1" font-size="5.2" font-style="italic" fill="#262626">NHBP1</text><text x="146.9" y="364.5" font-size="5.2" font-style="italic" fill="#262626">MIR548AE2</text><line x1="175.5" y1="362.9" x2="179.7" y2="362.9" stroke="#262626" stroke-width="0.6"/><polygon points="180.7,362.9 178.9,361.9 178.9,363.9" fill="#262626"/><text x="146.9" y="376.4" font-size="5.2" font-style="italic" fill="#262626">LONP2</text><line x1="164.6" y1="374.8" x2="168.8" y2="374.8" stroke="#262626" stroke-width="0.6"/><polygon points="169.8,374.8 168.0,373.8 168.0,375.8" fill="#262626"/><line x1="173.5" y1="385.6" x2="177.7" y2="385.6" stroke="#262626" stroke-width="0.6"/><polygon points="172.5,385.6 174.3,384.6 174.3,386.6" fill="#262626"/><text x="178.3" y="387.2" font-size="5.2" font-style="italic" fill="#262626">SIAH1</text><line x1="80.4" y1="354.6" x2="104.2" y2="354.6" stroke="#30306e" stroke-width="0.5"/><rect x="80.4" y="353.95" width="23.80" height="1.3" fill="#30306e"/><line x1="109.8" y1="354.6" x2="135.5" y2="354.6" stroke="#30306e" stroke-width="0.5"/><rect x="109.8" y="353.95" width="25.70" height="1.3" fill="#30306e"/><line x1="177.2" y1="354.6" x2="179.7" y2="354.6" stroke="#30306e" stroke-width="0.5"/><rect x="177.2" y="353.95" width="2.50" height="1.3" fill="#30306e"/><line x1="241.2" y1="354.6" x2="266.6" y2="354.6" stroke="#30306e" stroke-width="0.5"/><rect x="241.2" y="353.90" width="3.80" height="1.4" fill="#30306e"/><rect x="246" y="353.90" width="1.00" height="1.4" fill="#30306e"/><rect x="251" y="353.90" width="1.50" height="1.4" fill="#30306e"/><line x1="136" y1="366.3" x2="188" y2="366.3" stroke="#30306e" stroke-width="0.5"/><rect x="136" y="365.60" width="0.80" height="1.4" fill="#30306e"/><rect x="140" y="365.60" width="0.80" height="1.4" fill="#30306e"/><rect x="187.2" y="365.60" width="0.80" height="1.4" fill="#30306e"/><line x1="137.4" y1="377.6" x2="176.6" y2="377.6" stroke="#30306e" stroke-width="0.5"/><rect x="137.4" y="376.90" width="4.60" height="1.4" fill="#30306e"/><rect x="143" y="376.90" width="1.00" height="1.4" fill="#30306e"/><rect x="146" y="376.90" width="1.00" height="1.4" fill="#30306e"/><rect x="152" y="376.90" width="1.50" height="1.4" fill="#30306e"/><rect x="162" y="376.90" width="1.00" height="1.4" fill="#30306e"/><rect x="170" y="376.90" width="1.00" height="1.4" fill="#30306e"/><rect x="175" y="376.90" width="1.60" height="1.4" fill="#30306e"/><line x1="178.2" y1="388.6" x2="188.6" y2="388.6" stroke="#30306e" stroke-width="0.5"/><rect x="178.2" y="387.90" width="1.30" height="1.4" fill="#30306e"/><rect x="187.5" y="387.90" width="1.10" height="1.4" fill="#30306e"/><rect x="379.5" y="193.7" width="277.20000000000005" height="111.5" fill="none" stroke="#c4c4c4" stroke-width="0.9"/><g stroke="#777" stroke-width="0.8"><line x1="375.2" y1="301.0" x2="379.5" y2="301.0"/><line x1="375.2" y1="280.6" x2="379.5" y2="280.6"/><line x1="375.2" y1="260.2" x2="379.5" y2="260.2"/><line x1="375.2" y1="239.9" x2="379.5" y2="239.9"/><line x1="375.2" y1="219.5" x2="379.5" y2="219.5"/><line x1="375.2" y1="199.1" x2="379.5" y2="199.1"/></g><text x="373.8" y="304.4" font-size="9.4" text-anchor="end" font-weight="normal" font-style="normal" fill="#231815" >0</text><text x="373.8" y="284.0" font-size="9.4" text-anchor="end" font-weight="normal" font-style="normal" fill="#231815" >2</text><text x="373.8" y="263.6" font-size="9.4" text-anchor="end" font-weight="normal" font-style="normal" fill="#231815" >4</text><text x="373.8" y="243.3" font-size="9.4" text-anchor="end" font-weight="normal" font-style="normal" fill="#231815" >6</text><text x="373.8" y="222.9" font-size="9.4" text-anchor="end" font-weight="normal" font-style="normal" fill="#231815" >8</text><text x="373.8" y="202.5" font-size="9.4" text-anchor="end" font-weight="normal" font-style="normal" fill="#231815" >10</text><g stroke="#6070c0" stroke-width="0.8"><line x1="656.7" y1="193.7" x2="656.7" y2="305.2"/><line x1="656.7" y1="301.0" x2="660.3" y2="301.0"/><line x1="656.7" y1="280.6" x2="660.3" y2="280.6"/><line x1="656.7" y1="260.2" x2="660.3" y2="260.2"/><line x1="656.7" y1="239.9" x2="660.3" y2="239.9"/><line x1="656.7" y1="219.5" x2="660.3" y2="219.5"/><line x1="656.7" y1="199.1" x2="660.3" y2="199.1"/></g><text x="660.9" y="304.4" font-size="9.4" text-anchor="start" font-weight="normal" font-style="normal" fill="#231815" >0</text><text x="660.9" y="284.0" font-size="9.4" text-anchor="start" font-weight="normal" font-style="normal" fill="#231815" >20</text><text x="660.9" y="263.6" font-size="9.4" text-anchor="start" font-weight="normal" font-style="normal" fill="#231815" >40</text><text x="660.9" y="243.3" font-size="9.4" text-anchor="start" font-weight="normal" font-style="normal" fill="#231815" >60</text><text x="660.9" y="222.9" font-size="9.4" text-anchor="start" font-weight="normal" font-style="normal" fill="#231815" >80</text><text x="660.9" y="202.5" font-size="9.4" text-anchor="start" font-weight="normal" font-style="normal" fill="#231815" >100</text><text transform="translate(360.2,282.8) rotate(-90)" font-size="9.6" fill="#231815">–log<tspan font-size="6.5" dy="2">10</tspan><tspan dy="-2">(p–value)</tspan></text><text transform="translate(676.8,208.6) rotate(90)" font-size="9.5" fill="#231815">Recombination rate (cM/Mb)</text><defs><clipPath id="cpc"><rect x="380" y="194.2" width="276.2" height="110.5"/></clipPath><clipPath id="cpg"><rect x="379.8" y="313.3" width="276" height="77.4"/></clipPath></defs><g clip-path="url(#cpc)"><g transform="matrix(1.1,0,0,1.12,-120.4,-34.9)" fill="#f6f6f6"><circle cx="381.8" cy="301.4" r="2.1"/><circle cx="383.9" cy="300.7" r="2.1"/><circle cx="386.3" cy="299.8" r="2.1"/><circle cx="388.1" cy="299.9" r="2.1"/><circle cx="389.9" cy="299.7" r="2.1"/><circle cx="392.7" cy="300.5" r="2.1"/><circle cx="395.1" cy="299.6" r="2.1"/><circle cx="397.9" cy="300.8" r="2.1"/><circle cx="400.5" cy="300.2" r="2.1"/><circle cx="402.6" cy="300.6" r="2.1"/><circle cx="405.0" cy="299.7" r="2.1"/><circle cx="407.5" cy="300.7" r="2.1"/><circle cx="409.5" cy="299.9" r="2.1"/><circle cx="411.1" cy="301.1" r="2.1"/><circle cx="412.7" cy="299.7" r="2.1"/><circle cx="414.4" cy="300.6" r="2.1"/><circle cx="417.1" cy="300.2" r="2.1"/><circle cx="419.0" cy="301.1" r="2.1"/><circle cx="421.2" cy="299.7" r="2.1"/><circle cx="424.1" cy="301.2" r="2.1"/><circle cx="425.9" cy="301.3" r="2.1"/><circle cx="428.5" cy="299.8" r="2.1"/><circle cx="430.6" cy="300.3" r="2.1"/><circle cx="432.8" cy="300.9" r="2.1"/><circle cx="435.6" cy="301.4" r="2.1"/><circle cx="438.0" cy="301.0" r="2.1"/><circle cx="440.0" cy="300.3" r="2.1"/><circle cx="441.1" cy="300.4" r="2.1"/><circle cx="443.6" cy="301.4" r="2.1"/><circle cx="444.7" cy="300.6" r="2.1"/><circle cx="446.8" cy="301.1" r="2.1"/><circle cx="448.6" cy="301.3" r="2.1"/><circle cx="450.7" cy="301.3" r="2.1"/><circle cx="453.7" cy="300.9" r="2.1"/><circle cx="455.7" cy="301.2" r="2.1"/><circle cx="457.7" cy="300.1" r="2.1"/><circle cx="460.2" cy="300.6" r="2.1"/><circle cx="462.5" cy="299.7" r="2.1"/><circle cx="464.5" cy="300.6" r="2.1"/><circle cx="467.0" cy="301.4" r="2.1"/><circle cx="468.9" cy="300.6" r="2.1"/><circle cx="470.8" cy="300.4" r="2.1"/><circle cx="473.1" cy="299.5" r="2.1"/><circle cx="475.1" cy="299.8" r="2.1"/><circle cx="477.4" cy="300.9" r="2.1"/><circle cx="479.3" cy="300.3" r="2.1"/><circle cx="481.2" cy="300.5" r="2.1"/><circle cx="483.5" cy="300.6" r="2.1"/><circle cx="485.5" cy="301.3" r="2.1"/><circle cx="487.7" cy="301.2" r="2.1"/><circle cx="489.8" cy="300.8" r="2.1"/><circle cx="491.7" cy="300.1" r="2.1"/><circle cx="493.7" cy="301.4" r="2.1"/><circle cx="495.8" cy="300.3" r="2.1"/><circle cx="498.5" cy="300.6" r="2.1"/><circle cx="500.2" cy="299.7" r="2.1"/><circle cx="502.0" cy="301.2" r="2.1"/><circle cx="504.1" cy="300.4" r="2.1"/><circle cx="506.2" cy="300.4" r="2.1"/><circle cx="508.6" cy="301.2" r="2.1"/><circle cx="511.0" cy="300.8" r="2.1"/><circle cx="512.5" cy="300.1" r="2.1"/><circle cx="514.0" cy="301.2" r="2.1"/><circle cx="516.1" cy="300.3" r="2.1"/><circle cx="518.2" cy="299.7" r="2.1"/><circle cx="521.2" cy="299.8" r="2.1"/><circle cx="524.3" cy="299.9" r="2.1"/><circle cx="525.6" cy="299.8" r="2.1"/><circle cx="528.0" cy="300.9" r="2.1"/><circle cx="530.5" cy="301.1" r="2.1"/><circle cx="532.7" cy="300.2" r="2.1"/><circle cx="534.0" cy="301.2" r="2.1"/><circle cx="536.1" cy="300.1" r="2.1"/><circle cx="538.5" cy="301.2" r="2.1"/><circle cx="540.5" cy="300.8" r="2.1"/><circle cx="543.5" cy="300.1" r="2.1"/><circle cx="546.3" cy="301.5" r="2.1"/><circle cx="547.5" cy="301.0" r="2.1"/><circle cx="549.8" cy="300.3" r="2.1"/><circle cx="552.9" cy="300.6" r="2.1"/><circle cx="554.5" cy="299.6" r="2.1"/><circle cx="556.4" cy="301.1" r="2.1"/><circle cx="558.7" cy="300.0" r="2.1"/><circle cx="560.9" cy="300.4" r="2.1"/><circle cx="562.8" cy="300.7" r="2.1"/><circle cx="565.4" cy="300.7" r="2.1"/><circle cx="567.5" cy="301.3" r="2.1"/><circle cx="570.4" cy="300.4" r="2.1"/><circle cx="572.2" cy="300.3" r="2.1"/><circle cx="573.6" cy="299.6" r="2.1"/><circle cx="576.4" cy="301.0" r="2.1"/><circle cx="578.6" cy="300.0" r="2.1"/><circle cx="580.3" cy="299.6" r="2.1"/><circle cx="582.6" cy="300.6" r="2.1"/><circle cx="583.9" cy="300.4" r="2.1"/><circle cx="586.1" cy="300.1" r="2.1"/><circle cx="588.6" cy="300.7" r="2.1"/><circle cx="590.4" cy="300.2" r="2.1"/><circle cx="593.2" cy="300.1" r="2.1"/><circle cx="595.7" cy="301.1" r="2.1"/><circle cx="597.9" cy="299.5" r="2.1"/><circle cx="600.2" cy="301.3" r="2.1"/><circle cx="602.0" cy="301.4" r="2.1"/><circle cx="604.0" cy="301.3" r="2.1"/><circle cx="606.8" cy="301.2" r="2.1"/><circle cx="608.4" cy="301.1" r="2.1"/><circle cx="611.6" cy="300.8" r="2.1"/><circle cx="613.3" cy="300.6" r="2.1"/><circle cx="616.4" cy="301.3" r="2.1"/><circle cx="618.3" cy="301.0" r="2.1"/><circle cx="620.0" cy="299.9" r="2.1"/><circle cx="621.2" cy="300.8" r="2.1"/><circle cx="623.7" cy="299.5" r="2.1"/><circle cx="626.1" cy="300.6" r="2.1"/><circle cx="628.4" cy="300.8" r="2.1"/><circle cx="630.2" cy="300.2" r="2.1"/><circle cx="632.3" cy="301.3" r="2.1"/><circle cx="634.6" cy="299.7" r="2.1"/><circle cx="636.4" cy="300.7" r="2.1"/><circle cx="638.7" cy="301.1" r="2.1"/><circle cx="641.2" cy="299.8" r="2.1"/><circle cx="644.2" cy="300.7" r="2.1"/><circle cx="645.9" cy="301.1" r="2.1"/><circle cx="648.2" cy="300.7" r="2.1"/><circle cx="651.2" cy="301.2" r="2.1"/><circle cx="652.9" cy="301.1" r="2.1"/><circle cx="381.9" cy="298.8" r="2.1"/><circle cx="383.2" cy="297.7" r="2.1"/><circle cx="385.0" cy="299.0" r="2.1"/><circle cx="387.3" cy="297.5" r="2.1"/><circle cx="389.9" cy="297.9" r="2.1"/><circle cx="391.4" cy="297.5" r="2.1"/><circle cx="393.0" cy="299.0" r="2.1"/><circle cx="395.7" cy="297.3" r="2.1"/><circle cx="397.9" cy="298.5" r="2.1"/><circle cx="399.6" cy="298.9" r="2.1"/><circle cx="402.0" cy="297.9" r="2.1"/><circle cx="404.2" cy="297.2" r="2.1"/><circle cx="406.5" cy="298.6" r="2.1"/><circle cx="408.7" cy="297.8" r="2.1"/><circle cx="410.8" cy="298.8" r="2.1"/><circle cx="413.5" cy="298.7" r="2.1"/><circle cx="416.6" cy="297.2" r="2.1"/><circle cx="419.1" cy="298.3" r="2.1"/><circle cx="422.1" cy="298.3" r="2.1"/><circle cx="424.2" cy="297.6" r="2.1"/><circle cx="426.8" cy="298.9" r="2.1"/><circle cx="429.2" cy="298.2" r="2.1"/><circle cx="431.8" cy="298.5" r="2.1"/><circle cx="434.2" cy="297.7" r="2.1"/><circle cx="435.6" cy="297.7" r="2.1"/><circle cx="437.6" cy="298.0" r="2.1"/><circle cx="440.3" cy="298.6" r="2.1"/><circle cx="442.6" cy="297.5" r="2.1"/><circle cx="444.1" cy="297.5" r="2.1"/><circle cx="446.8" cy="298.8" r="2.1"/><circle cx="448.4" cy="298.3" r="2.1"/><circle cx="451.0" cy="298.9" r="2.1"/><circle cx="454.2" cy="299.0" r="2.1"/><circle cx="456.6" cy="298.5" r="2.1"/><circle cx="459.6" cy="297.7" r="2.1"/><circle cx="461.7" cy="298.7" r="2.1"/><circle cx="463.1" cy="297.6" r="2.1"/><circle cx="465.5" cy="297.1" r="2.1"/><circle cx="467.2" cy="297.9" r="2.1"/><circle cx="470.1" cy="297.2" r="2.1"/><circle cx="472.5" cy="298.1" r="2.1"/><circle cx="475.1" cy="298.5" r="2.1"/><circle cx="477.8" cy="298.5" r="2.1"/><circle cx="480.4" cy="297.6" r="2.1"/><circle cx="482.7" cy="298.6" r="2.1"/><circle cx="485.2" cy="298.6" r="2.1"/><circle cx="487.3" cy="297.1" r="2.1"/><circle cx="489.6" cy="298.8" r="2.1"/><circle cx="492.0" cy="297.5" r="2.1"/><circle cx="494.9" cy="297.4" r="2.1"/><circle cx="496.6" cy="298.2" r="2.1"/><circle cx="498.4" cy="298.2" r="2.1"/><circle cx="500.8" cy="297.5" r="2.1"/><circle cx="502.5" cy="298.2" r="2.1"/><circle cx="505.1" cy="297.2" r="2.1"/><circle cx="506.6" cy="297.0" r="2.1"/><circle cx="509.2" cy="298.7" r="2.1"/><circle cx="510.8" cy="297.5" r="2.1"/><circle cx="512.5" cy="297.6" r="2.1"/><circle cx="513.9" cy="297.4" r="2.1"/><circle cx="516.4" cy="297.1" r="2.1"/><circle cx="518.0" cy="298.4" r="2.1"/><circle cx="519.7" cy="298.5" r="2.1"/><circle cx="521.3" cy="297.7" r="2.1"/><circle cx="523.7" cy="297.2" r="2.1"/><circle cx="526.1" cy="298.5" r="2.1"/><circle cx="527.6" cy="297.4" r="2.1"/><circle cx="529.4" cy="297.3" r="2.1"/><circle cx="531.6" cy="298.1" r="2.1"/><circle cx="533.5" cy="298.6" r="2.1"/><circle cx="534.7" cy="298.3" r="2.1"/><circle cx="536.6" cy="298.2" r="2.1"/><circle cx="538.9" cy="297.8" r="2.1"/><circle cx="541.3" cy="297.1" r="2.1"/><circle cx="544.1" cy="298.1" r="2.1"/><circle cx="546.5" cy="298.7" r="2.1"/><circle cx="548.8" cy="297.2" r="2.1"/><circle cx="551.7" cy="298.4" r="2.1"/><circle cx="553.7" cy="298.2" r="2.1"/><circle cx="555.5" cy="297.4" r="2.1"/><circle cx="557.5" cy="297.1" r="2.1"/><circle cx="559.8" cy="298.1" r="2.1"/><circle cx="562.6" cy="297.4" r="2.1"/><circle cx="564.0" cy="297.4" r="2.1"/><circle cx="565.8" cy="297.2" r="2.1"/><circle cx="568.0" cy="297.5" r="2.1"/><circle cx="570.1" cy="298.6" r="2.1"/><circle cx="572.8" cy="298.6" r="2.1"/><circle cx="575.1" cy="297.1" r="2.1"/><circle cx="577.8" cy="297.5" r="2.1"/><circle cx="579.1" cy="298.7" r="2.1"/><circle cx="581.5" cy="298.8" r="2.1"/><circle cx="584.6" cy="298.9" r="2.1"/><circle cx="586.2" cy="297.0" r="2.1"/><circle cx="587.9" cy="297.5" r="2.1"/><circle cx="589.5" cy="297.9" r="2.1"/><circle cx="592.5" cy="298.1" r="2.1"/><circle cx="594.6" cy="298.6" r="2.1"/><circle cx="597.7" cy="297.9" r="2.1"/><circle cx="599.4" cy="297.9" r="2.1"/><circle cx="602.4" cy="298.8" r="2.1"/><circle cx="604.3" cy="298.7" r="2.1"/><circle cx="607.0" cy="297.7" r="2.1"/><circle cx="609.2" cy="298.1" r="2.1"/><circle cx="612.0" cy="298.2" r="2.1"/><circle cx="613.3" cy="297.1" r="2.1"/><circle cx="616.3" cy="297.7" r="2.1"/><circle cx="617.9" cy="297.4" r="2.1"/><circle cx="620.0" cy="297.6" r="2.1"/><circle cx="622.4" cy="297.7" r="2.1"/><circle cx="625.2" cy="297.3" r="2.1"/><circle cx="626.6" cy="297.6" r="2.1"/><circle cx="629.2" cy="297.4" r="2.1"/><circle cx="631.4" cy="298.1" r="2.1"/><circle cx="633.8" cy="297.4" r="2.1"/><circle cx="636.0" cy="298.6" r="2.1"/><circle cx="638.3" cy="299.0" r="2.1"/><circle cx="639.8" cy="297.2" r="2.1"/><circle cx="642.3" cy="298.5" r="2.1"/><circle cx="644.1" cy="298.2" r="2.1"/><circle cx="645.8" cy="299.0" r="2.1"/><circle cx="648.2" cy="298.8" r="2.1"/><circle cx="650.9" cy="297.7" r="2.1"/><circle cx="652.8" cy="298.5" r="2.1"/><circle cx="381.2" cy="295.3" r="2.1"/><circle cx="383.2" cy="294.7" r="2.1"/><circle cx="385.7" cy="295.2" r="2.1"/><circle cx="387.7" cy="295.8" r="2.1"/><circle cx="389.6" cy="296.5" r="2.1"/><circle cx="392.0" cy="295.9" r="2.1"/><circle cx="393.1" cy="295.0" r="2.1"/><circle cx="395.0" cy="295.7" r="2.1"/><circle cx="397.1" cy="295.0" r="2.1"/><circle cx="398.5" cy="295.0" r="2.1"/><circle cx="401.4" cy="296.0" r="2.1"/><circle cx="404.3" cy="295.2" r="2.1"/><circle cx="406.6" cy="295.3" r="2.1"/><circle cx="409.8" cy="295.2" r="2.1"/><circle cx="412.5" cy="295.9" r="2.1"/><circle cx="414.3" cy="295.8" r="2.1"/><circle cx="416.8" cy="296.4" r="2.1"/><circle cx="419.1" cy="295.7" r="2.1"/><circle cx="421.2" cy="295.2" r="2.1"/><circle cx="423.9" cy="296.1" r="2.1"/><circle cx="426.5" cy="295.7" r="2.1"/><circle cx="428.4" cy="295.4" r="2.1"/><circle cx="431.0" cy="294.8" r="2.1"/><circle cx="433.4" cy="295.6" r="2.1"/><circle cx="435.8" cy="295.8" r="2.1"/><circle cx="437.9" cy="295.3" r="2.1"/><circle cx="440.1" cy="295.4" r="2.1"/><circle cx="441.4" cy="294.6" r="2.1"/><circle cx="443.1" cy="295.3" r="2.1"/><circle cx="445.1" cy="295.0" r="2.1"/><circle cx="447.3" cy="295.0" r="2.1"/><circle cx="449.9" cy="294.6" r="2.1"/><circle cx="451.2" cy="296.3" r="2.1"/><circle cx="453.5" cy="296.4" r="2.1"/><circle cx="456.3" cy="296.2" r="2.1"/><circle cx="457.4" cy="296.1" r="2.1"/><circle cx="460.0" cy="294.6" r="2.1"/><circle cx="462.6" cy="295.3" r="2.1"/><circle cx="465.2" cy="295.4" r="2.1"/><circle cx="467.1" cy="294.8" r="2.1"/><circle cx="468.5" cy="294.5" r="2.1"/><circle cx="470.4" cy="295.4" r="2.1"/><circle cx="472.4" cy="295.4" r="2.1"/><circle cx="474.5" cy="295.6" r="2.1"/><circle cx="476.3" cy="296.4" r="2.1"/><circle cx="479.3" cy="295.8" r="2.1"/><circle cx="481.6" cy="295.6" r="2.1"/><circle cx="483.5" cy="295.4" r="2.1"/><circle cx="485.1" cy="296.5" r="2.1"/><circle cx="487.7" cy="296.5" r="2.1"/><circle cx="490.1" cy="295.1" r="2.1"/><circle cx="492.5" cy="296.2" r="2.1"/><circle cx="494.2" cy="295.2" r="2.1"/><circle cx="497.1" cy="294.8" r="2.1"/><circle cx="498.7" cy="294.6" r="2.1"/><circle cx="500.3" cy="295.1" r="2.1"/><circle cx="503.1" cy="295.8" r="2.1"/><circle cx="505.1" cy="295.1" r="2.1"/><circle cx="507.2" cy="294.5" r="2.1"/><circle cx="509.6" cy="294.6" r="2.1"/><circle cx="511.3" cy="296.0" r="2.1"/><circle cx="513.1" cy="295.9" r="2.1"/><circle cx="514.9" cy="296.3" r="2.1"/><circle cx="517.1" cy="296.1" r="2.1"/><circle cx="519.8" cy="295.2" r="2.1"/><circle cx="521.8" cy="295.7" r="2.1"/><circle cx="524.2" cy="295.1" r="2.1"/><circle cx="525.8" cy="294.6" r="2.1"/><circle cx="528.8" cy="295.2" r="2.1"/><circle cx="531.9" cy="294.8" r="2.1"/><circle cx="534.0" cy="295.7" r="2.1"/><circle cx="535.7" cy="296.4" r="2.1"/><circle cx="538.3" cy="295.9" r="2.1"/><circle cx="540.5" cy="296.1" r="2.1"/><circle cx="542.6" cy="295.1" r="2.1"/><circle cx="546.0" cy="296.3" r="2.1"/><circle cx="548.1" cy="295.3" r="2.1"/><circle cx="550.5" cy="295.2" r="2.1"/><circle cx="553.3" cy="294.6" r="2.1"/><circle cx="555.6" cy="295.1" r="2.1"/><circle cx="557.8" cy="295.4" r="2.1"/><circle cx="560.2" cy="295.8" r="2.1"/><circle cx="562.3" cy="295.0" r="2.1"/><circle cx="564.2" cy="295.4" r="2.1"/><circle cx="566.6" cy="296.1" r="2.1"/><circle cx="568.9" cy="296.2" r="2.1"/><circle cx="571.6" cy="294.6" r="2.1"/><circle cx="573.4" cy="295.8" r="2.1"/><circle cx="576.6" cy="294.6" r="2.1"/><circle cx="578.1" cy="294.9" r="2.1"/><circle cx="580.3" cy="295.6" r="2.1"/><circle cx="582.7" cy="295.1" r="2.1"/><circle cx="584.1" cy="295.1" r="2.1"/><circle cx="586.2" cy="294.5" r="2.1"/><circle cx="588.2" cy="296.2" r="2.1"/><circle cx="590.1" cy="296.1" r="2.1"/><circle cx="592.4" cy="296.0" r="2.1"/><circle cx="594.1" cy="295.0" r="2.1"/><circle cx="596.1" cy="295.6" r="2.1"/><circle cx="597.6" cy="294.5" r="2.1"/><circle cx="599.5" cy="295.7" r="2.1"/><circle cx="602.4" cy="295.8" r="2.1"/><circle cx="604.1" cy="296.0" r="2.1"/><circle cx="606.7" cy="295.1" r="2.1"/><circle cx="609.6" cy="294.8" r="2.1"/><circle cx="611.4" cy="295.6" r="2.1"/><circle cx="613.8" cy="295.3" r="2.1"/><circle cx="616.6" cy="294.9" r="2.1"/><circle cx="619.5" cy="295.5" r="2.1"/><circle cx="621.2" cy="295.8" r="2.1"/><circle cx="623.4" cy="296.4" r="2.1"/><circle cx="625.6" cy="295.2" r="2.1"/><circle cx="627.7" cy="295.9" r="2.1"/><circle cx="628.9" cy="295.3" r="2.1"/><circle cx="631.1" cy="294.8" r="2.1"/><circle cx="633.2" cy="296.4" r="2.1"/><circle cx="635.0" cy="295.2" r="2.1"/><circle cx="637.4" cy="295.0" r="2.1"/><circle cx="640.1" cy="294.6" r="2.1"/><circle cx="642.5" cy="295.1" r="2.1"/><circle cx="645.0" cy="296.0" r="2.1"/><circle cx="646.9" cy="294.9" r="2.1"/><circle cx="648.6" cy="296.1" r="2.1"/><circle cx="649.7" cy="294.9" r="2.1"/><circle cx="652.0" cy="296.4" r="2.1"/><circle cx="654.2" cy="296.1" r="2.1"/><circle cx="381.8" cy="292.4" r="2.1"/><circle cx="384.1" cy="293.7" r="2.1"/><circle cx="386.9" cy="293.7" r="2.1"/><circle cx="388.2" cy="292.3" r="2.1"/><circle cx="391.1" cy="293.0" r="2.1"/><circle cx="392.8" cy="293.9" r="2.1"/><circle cx="395.6" cy="293.0" r="2.1"/><circle cx="398.2" cy="293.1" r="2.1"/><circle cx="400.5" cy="293.7" r="2.1"/><circle cx="403.0" cy="292.3" r="2.1"/><circle cx="405.2" cy="292.0" r="2.1"/><circle cx="408.2" cy="293.8" r="2.1"/><circle cx="410.5" cy="293.8" r="2.1"/><circle cx="412.2" cy="292.9" r="2.1"/><circle cx="414.5" cy="292.1" r="2.1"/><circle cx="417.2" cy="293.5" r="2.1"/><circle cx="420.2" cy="293.7" r="2.1"/><circle cx="422.0" cy="293.4" r="2.1"/><circle cx="423.4" cy="294.0" r="2.1"/><circle cx="426.3" cy="293.1" r="2.1"/><circle cx="427.4" cy="292.5" r="2.1"/><circle cx="430.8" cy="292.6" r="2.1"/><circle cx="433.0" cy="293.0" r="2.1"/><circle cx="434.7" cy="292.3" r="2.1"/><circle cx="436.6" cy="293.0" r="2.1"/><circle cx="438.2" cy="293.5" r="2.1"/><circle cx="440.5" cy="292.8" r="2.1"/><circle cx="443.4" cy="292.5" r="2.1"/><circle cx="446.0" cy="293.2" r="2.1"/><circle cx="448.0" cy="292.7" r="2.1"/><circle cx="450.5" cy="292.4" r="2.1"/><circle cx="453.1" cy="293.5" r="2.1"/><circle cx="454.8" cy="293.6" r="2.1"/><circle cx="457.7" cy="292.4" r="2.1"/><circle cx="459.5" cy="292.3" r="2.1"/><circle cx="462.2" cy="292.9" r="2.1"/><circle cx="464.4" cy="293.6" r="2.1"/><circle cx="467.2" cy="293.0" r="2.1"/><circle cx="468.5" cy="292.4" r="2.1"/><circle cx="471.7" cy="292.3" r="2.1"/><circle cx="473.4" cy="293.3" r="2.1"/><circle cx="476.2" cy="293.4" r="2.1"/><circle cx="478.7" cy="293.0" r="2.1"/><circle cx="481.0" cy="293.4" r="2.1"/><circle cx="483.4" cy="292.9" r="2.1"/><circle cx="516.2" cy="293.2" r="2.1"/><circle cx="518.0" cy="293.0" r="2.1"/><circle cx="519.9" cy="292.1" r="2.1"/><circle cx="521.4" cy="292.2" r="2.1"/><circle cx="524.1" cy="292.8" r="2.1"/><circle cx="526.6" cy="293.9" r="2.1"/><circle cx="529.2" cy="293.6" r="2.1"/><circle cx="530.1" cy="293.9" r="2.1"/><circle cx="532.6" cy="293.9" r="2.1"/><circle cx="535.4" cy="292.7" r="2.1"/><circle cx="537.8" cy="292.2" r="2.1"/><circle cx="539.9" cy="292.8" r="2.1"/><circle cx="543.2" cy="293.7" r="2.1"/><circle cx="545.6" cy="292.8" r="2.1"/><circle cx="547.8" cy="292.4" r="2.1"/><circle cx="549.8" cy="292.0" r="2.1"/><circle cx="551.7" cy="293.1" r="2.1"/><circle cx="553.5" cy="292.9" r="2.1"/><circle cx="556.6" cy="293.5" r="2.1"/><circle cx="558.8" cy="293.0" r="2.1"/><circle cx="561.5" cy="293.7" r="2.1"/><circle cx="562.8" cy="293.4" r="2.1"/><circle cx="565.8" cy="292.8" r="2.1"/><circle cx="567.3" cy="292.4" r="2.1"/><circle cx="570.4" cy="293.7" r="2.1"/><circle cx="572.4" cy="292.0" r="2.1"/><circle cx="574.2" cy="292.6" r="2.1"/><circle cx="576.8" cy="293.9" r="2.1"/><circle cx="580.0" cy="292.8" r="2.1"/><circle cx="582.4" cy="293.2" r="2.1"/><circle cx="584.5" cy="293.2" r="2.1"/><circle cx="586.1" cy="293.4" r="2.1"/><circle cx="588.4" cy="292.5" r="2.1"/><circle cx="590.7" cy="293.4" r="2.1"/><circle cx="593.0" cy="292.4" r="2.1"/><circle cx="594.5" cy="294.0" r="2.1"/><circle cx="597.3" cy="293.9" r="2.1"/><circle cx="599.9" cy="293.2" r="2.1"/><circle cx="601.8" cy="292.6" r="2.1"/><circle cx="603.9" cy="292.4" r="2.1"/><circle cx="605.5" cy="292.5" r="2.1"/><circle cx="608.2" cy="293.9" r="2.1"/><circle cx="609.6" cy="292.5" r="2.1"/><circle cx="612.1" cy="292.8" r="2.1"/><circle cx="614.9" cy="292.5" r="2.1"/><circle cx="617.4" cy="293.1" r="2.1"/><circle cx="619.7" cy="293.2" r="2.1"/><circle cx="621.4" cy="292.2" r="2.1"/><circle cx="623.9" cy="293.9" r="2.1"/><circle cx="625.3" cy="292.4" r="2.1"/><circle cx="628.1" cy="292.8" r="2.1"/><circle cx="630.1" cy="292.7" r="2.1"/><circle cx="633.3" cy="293.0" r="2.1"/><circle cx="635.7" cy="292.9" r="2.1"/><circle cx="637.7" cy="292.3" r="2.1"/><circle cx="640.7" cy="293.4" r="2.1"/><circle cx="643.3" cy="292.5" r="2.1"/><circle cx="644.7" cy="293.7" r="2.1"/><circle cx="647.3" cy="293.5" r="2.1"/><circle cx="649.2" cy="293.6" r="2.1"/><circle cx="651.3" cy="292.9" r="2.1"/><circle cx="653.2" cy="293.1" r="2.1"/><circle cx="381.3" cy="290.3" r="2.1"/><circle cx="383.7" cy="291.5" r="2.1"/><circle cx="386.5" cy="290.5" r="2.1"/><circle cx="389.1" cy="289.6" r="2.1"/><circle cx="391.9" cy="290.9" r="2.1"/><circle cx="394.0" cy="290.4" r="2.1"/><circle cx="396.5" cy="291.2" r="2.1"/><circle cx="399.2" cy="289.7" r="2.1"/><circle cx="439.6" cy="289.8" r="2.1"/><circle cx="442.2" cy="290.9" r="2.1"/><circle cx="444.1" cy="288.0" r="2.1"/><circle cx="446.4" cy="288.1" r="2.1"/><circle cx="450.0" cy="288.5" r="2.1"/><circle cx="452.7" cy="288.5" r="2.1"/><circle cx="454.4" cy="288.2" r="2.1"/><circle cx="457.4" cy="290.6" r="2.1"/><circle cx="459.2" cy="289.5" r="2.1"/><circle cx="461.4" cy="289.8" r="2.1"/><circle cx="463.9" cy="288.3" r="2.1"/><circle cx="465.8" cy="289.0" r="2.1"/><circle cx="468.0" cy="289.4" r="2.1"/><circle cx="470.1" cy="290.9" r="2.1"/><circle cx="472.0" cy="288.8" r="2.1"/><circle cx="475.0" cy="289.7" r="2.1"/><circle cx="477.6" cy="289.6" r="2.1"/><circle cx="390.4" cy="280.8" r="2.1"/><circle cx="394.8" cy="282.5" r="2.1"/><circle cx="391.9" cy="284.7" r="2.1"/><circle cx="397.0" cy="285.4" r="2.1"/><circle cx="401.4" cy="283.2" r="2.1"/><circle cx="405.0" cy="283.2" r="2.1"/><circle cx="399.9" cy="288.4" r="2.1"/><circle cx="409.4" cy="286.6" r="2.1"/><circle cx="412.3" cy="287.6" r="2.1"/><circle cx="413.8" cy="280.8" r="2.1"/><circle cx="416.7" cy="278.9" r="2.1"/><circle cx="419.6" cy="277.4" r="2.1"/><circle cx="434.2" cy="280.8" r="2.1"/><circle cx="437.9" cy="285.4" r="2.1"/><circle cx="442.2" cy="284.0" r="2.1"/><circle cx="428.4" cy="286.9" r="2.1"/><circle cx="429.8" cy="289.1" r="2.1"/><circle cx="384.0" cy="290.0" r="2.1"/><circle cx="387.0" cy="288.0" r="2.1"/><circle cx="453.9" cy="275.2" r="2.1"/><circle cx="467.8" cy="281.3" r="2.1"/><circle cx="478.4" cy="287.4" r="2.1"/><circle cx="464.3" cy="281.9" r="2.1"/><circle cx="453.8" cy="284.6" r="2.1"/><circle cx="456.4" cy="282.5" r="2.1"/><circle cx="470.1" cy="285.8" r="2.1"/><circle cx="462.9" cy="286.5" r="2.1"/><circle cx="461.3" cy="277.1" r="2.1"/><circle cx="475.6" cy="284.7" r="2.1"/><circle cx="459.2" cy="286.8" r="2.1"/><circle cx="475.5" cy="277.9" r="2.1"/><circle cx="450.4" cy="283.6" r="2.1"/><circle cx="461.0" cy="286.1" r="2.1"/><circle cx="468.9" cy="279.1" r="2.1"/><circle cx="460.0" cy="277.2" r="2.1"/><circle cx="467.3" cy="286.1" r="2.1"/><circle cx="469.5" cy="287.4" r="2.1"/><circle cx="461.4" cy="282.0" r="2.1"/><circle cx="454.5" cy="287.7" r="2.1"/><circle cx="460.4" cy="278.7" r="2.1"/><circle cx="455.1" cy="283.3" r="2.1"/><circle cx="467.3" cy="286.8" r="2.1"/><circle cx="460.2" cy="278.6" r="2.1"/><circle cx="472.7" cy="282.3" r="2.1"/><circle cx="467.8" cy="288.9" r="2.1"/><circle cx="456.1" cy="284.7" r="2.1"/><circle cx="450.7" cy="283.6" r="2.1"/><circle cx="467.4" cy="281.0" r="2.1"/><circle cx="467.3" cy="282.9" r="2.1"/><circle cx="474.1" cy="286.1" r="2.1"/><circle cx="457.9" cy="286.1" r="2.1"/><circle cx="457.9" cy="278.6" r="2.1"/><circle cx="462.7" cy="278.1" r="2.1"/><circle cx="463.6" cy="284.4" r="2.1"/><circle cx="467.5" cy="288.6" r="2.1"/><circle cx="463.4" cy="284.8" r="2.1"/><circle cx="463.5" cy="284.1" r="2.1"/><circle cx="468.9" cy="281.2" r="2.1"/><circle cx="449.0" cy="282.7" r="2.1"/><circle cx="461.5" cy="284.5" r="2.1"/><circle cx="482.5" cy="268.5" r="2.1"/><circle cx="485.0" cy="267.0" r="2.1"/><circle cx="486.7" cy="266.8" r="2.1"/><circle cx="488.7" cy="266.0" r="2.1"/><circle cx="491.7" cy="265.7" r="2.1"/><circle cx="493.5" cy="266.8" r="2.1"/><circle cx="495.0" cy="266.7" r="2.1"/><circle cx="497.0" cy="266.8" r="2.1"/><circle cx="499.4" cy="266.4" r="2.1"/><circle cx="502.4" cy="266.4" r="2.1"/><circle cx="504.8" cy="266.8" r="2.1"/><circle cx="506.9" cy="266.2" r="2.1"/><circle cx="509.9" cy="266.0" r="2.1"/><circle cx="512.4" cy="266.7" r="2.1"/><circle cx="513.9" cy="265.6" r="2.1"/><circle cx="516.1" cy="265.8" r="2.1"/><circle cx="518.5" cy="267.0" r="2.1"/><circle cx="520.2" cy="266.2" r="2.1"/><circle cx="523.3" cy="266.9" r="2.1"/><circle cx="524.7" cy="266.7" r="2.1"/><circle cx="527.0" cy="267.1" r="2.1"/><circle cx="528.9" cy="265.6" r="2.1"/><circle cx="531.7" cy="266.7" r="2.1"/><circle cx="533.7" cy="265.5" r="2.1"/><circle cx="489.6" cy="269.8" r="2.1"/><circle cx="493.1" cy="270.9" r="2.1"/><circle cx="498.2" cy="269.2" r="2.1"/><circle cx="502.0" cy="270.1" r="2.1"/><circle cx="507.0" cy="269.4" r="2.1"/><circle cx="509.8" cy="271.1" r="2.1"/><circle cx="514.7" cy="269.8" r="2.1"/><circle cx="519.6" cy="270.2" r="2.1"/><circle cx="523.4" cy="268.8" r="2.1"/><circle cx="526.8" cy="271.0" r="2.1"/><circle cx="530.9" cy="269.8" r="2.1"/><circle cx="481.8" cy="275.2" r="2.1"/><circle cx="485.1" cy="287.9" r="2.1"/><circle cx="480.6" cy="283.4" r="2.1"/><circle cx="483.5" cy="273.1" r="2.1"/><circle cx="485.7" cy="277.9" r="2.1"/><circle cx="482.0" cy="291.3" r="2.1"/><circle cx="476.6" cy="293.5" r="2.1"/><circle cx="482.2" cy="280.2" r="2.1"/><circle cx="476.4" cy="272.8" r="2.1"/><circle cx="482.9" cy="277.5" r="2.1"/><circle cx="478.5" cy="286.7" r="2.1"/><circle cx="481.5" cy="286.0" r="2.1"/><circle cx="481.4" cy="278.3" r="2.1"/><circle cx="482.0" cy="286.2" r="2.1"/><circle cx="485.9" cy="287.9" r="2.1"/><circle cx="481.6" cy="284.8" r="2.1"/><circle cx="476.4" cy="285.5" r="2.1"/><circle cx="482.5" cy="273.1" r="2.1"/><circle cx="480.0" cy="290.2" r="2.1"/><circle cx="482.3" cy="292.8" r="2.1"/><circle cx="519.7" cy="296.3" r="2.1"/><circle cx="522.1" cy="275.7" r="2.1"/><circle cx="523.1" cy="289.0" r="2.1"/><circle cx="523.3" cy="283.5" r="2.1"/><circle cx="516.0" cy="277.4" r="2.1"/><circle cx="515.8" cy="269.6" r="2.1"/><circle cx="523.6" cy="299.6" r="2.1"/><circle cx="522.0" cy="285.5" r="2.1"/><circle cx="513.7" cy="284.9" r="2.1"/><circle cx="520.7" cy="299.2" r="2.1"/><circle cx="515.0" cy="275.5" r="2.1"/><circle cx="516.4" cy="272.3" r="2.1"/><circle cx="518.1" cy="278.9" r="2.1"/><circle cx="517.8" cy="299.4" r="2.1"/><circle cx="521.7" cy="290.7" r="2.1"/><circle cx="520.3" cy="277.6" r="2.1"/><circle cx="520.2" cy="293.9" r="2.1"/><circle cx="515.1" cy="273.5" r="2.1"/><circle cx="524.7" cy="289.2" r="2.1"/><circle cx="521.0" cy="269.2" r="2.1"/><circle cx="505.4" cy="278.0" r="2.1"/><circle cx="501.4" cy="286.0" r="2.1"/><circle cx="492.0" cy="288.0" r="2.1"/><circle cx="508.8" cy="286.8" r="2.1"/><circle cx="500.7" cy="260.4" r="2.1"/><circle cx="527.5" cy="274.7" r="2.1"/><circle cx="535.5" cy="278.0" r="2.1"/><circle cx="488.0" cy="291.0" r="2.1"/><circle cx="496.0" cy="292.0" r="2.1"/><circle cx="510.0" cy="293.0" r="2.1"/><circle cx="525.7" cy="271.5" r="2.1"/><circle cx="529.2" cy="271.7" r="2.1"/><circle cx="532.0" cy="270.7" r="2.1"/><circle cx="534.3" cy="271.3" r="2.1"/><circle cx="536.7" cy="271.9" r="2.1"/><circle cx="539.5" cy="272.3" r="2.1"/><circle cx="541.7" cy="270.7" r="2.1"/><circle cx="544.2" cy="272.0" r="2.1"/><circle cx="546.7" cy="271.3" r="2.1"/><circle cx="548.9" cy="272.1" r="2.1"/><circle cx="551.4" cy="272.8" r="2.1"/><circle cx="537.3" cy="288.4" r="2.1"/><circle cx="543.1" cy="283.6" r="2.1"/><circle cx="537.0" cy="285.3" r="2.1"/><circle cx="549.6" cy="280.4" r="2.1"/><circle cx="543.5" cy="279.3" r="2.1"/><circle cx="539.8" cy="292.2" r="2.1"/><circle cx="537.4" cy="289.7" r="2.1"/><circle cx="552.6" cy="287.0" r="2.1"/><circle cx="554.2" cy="279.1" r="2.1"/><circle cx="552.2" cy="274.6" r="2.1"/><circle cx="549.3" cy="280.2" r="2.1"/><circle cx="552.4" cy="280.4" r="2.1"/><circle cx="545.1" cy="280.0" r="2.1"/><circle cx="538.6" cy="278.1" r="2.1"/><circle cx="538.2" cy="275.0" r="2.1"/><circle cx="549.8" cy="275.1" r="2.1"/><circle cx="549.1" cy="285.4" r="2.1"/><circle cx="546.5" cy="284.4" r="2.1"/><circle cx="538.8" cy="277.1" r="2.1"/><circle cx="540.2" cy="288.8" r="2.1"/><circle cx="543.2" cy="279.8" r="2.1"/><circle cx="544.8" cy="287.1" r="2.1"/><circle cx="533.4" cy="292.1" r="2.1"/><circle cx="526.9" cy="289.2" r="2.1"/><circle cx="531.3" cy="289.9" r="2.1"/><circle cx="524.5" cy="288.1" r="2.1"/><circle cx="526.9" cy="290.7" r="2.1"/><circle cx="526.8" cy="292.0" r="2.1"/><circle cx="536.5" cy="290.9" r="2.1"/><circle cx="539.7" cy="293.3" r="2.1"/><circle cx="641.8" cy="299.5" r="2.1"/><circle cx="584.0" cy="298.8" r="2.1"/><circle cx="578.9" cy="293.0" r="2.1"/><circle cx="584.7" cy="288.4" r="2.1"/><circle cx="616.0" cy="298.4" r="2.1"/><circle cx="584.0" cy="276.4" r="2.1"/><circle cx="579.4" cy="293.9" r="2.1"/><circle cx="585.6" cy="286.7" r="2.1"/><circle cx="618.7" cy="290.9" r="2.1"/><circle cx="642.7" cy="291.5" r="2.1"/><circle cx="600.8" cy="298.5" r="2.1"/><circle cx="555.7" cy="289.1" r="2.1"/><circle cx="620.5" cy="295.2" r="2.1"/><circle cx="596.3" cy="288.7" r="2.1"/><circle cx="645.4" cy="299.4" r="2.1"/><circle cx="577.4" cy="286.3" r="2.1"/><circle cx="551.0" cy="282.5" r="2.1"/><circle cx="586.6" cy="284.6" r="2.1"/><circle cx="623.7" cy="286.7" r="2.1"/><circle cx="597.5" cy="297.6" r="2.1"/><circle cx="562.7" cy="286.3" r="2.1"/><circle cx="587.2" cy="290.1" r="2.1"/><circle cx="648.9" cy="288.3" r="2.1"/><circle cx="597.8" cy="292.6" r="2.1"/><circle cx="636.3" cy="299.7" r="2.1"/><circle cx="644.5" cy="287.7" r="2.1"/><circle cx="585.1" cy="275.7" r="2.1"/><circle cx="553.5" cy="289.0" r="2.1"/><circle cx="595.8" cy="292.4" r="2.1"/><circle cx="649.0" cy="286.9" r="2.1"/><circle cx="651.4" cy="296.3" r="2.1"/><circle cx="564.1" cy="295.0" r="2.1"/><circle cx="562.7" cy="283.5" r="2.1"/><circle cx="619.1" cy="286.3" r="2.1"/><circle cx="619.7" cy="291.2" r="2.1"/><circle cx="619.9" cy="289.4" r="2.1"/><circle cx="614.3" cy="285.1" r="2.1"/><circle cx="640.5" cy="297.7" r="2.1"/><circle cx="588.1" cy="292.0" r="2.1"/><circle cx="559.9" cy="294.3" r="2.1"/><circle cx="575.0" cy="300.0" r="2.1"/><circle cx="562.5" cy="282.8" r="2.1"/><circle cx="643.5" cy="296.0" r="2.1"/><circle cx="615.1" cy="285.0" r="2.1"/><circle cx="596.3" cy="295.1" r="2.1"/><circle cx="557.5" cy="297.2" r="2.1"/><circle cx="612.1" cy="285.4" r="2.1"/><circle cx="604.7" cy="289.9" r="2.1"/><circle cx="633.8" cy="294.0" r="2.1"/><circle cx="637.7" cy="297.2" r="2.1"/><circle cx="602.4" cy="285.4" r="2.1"/><circle cx="654.0" cy="290.1" r="2.1"/><circle cx="616.1" cy="298.1" r="2.1"/><circle cx="569.5" cy="281.2" r="2.1"/><circle cx="632.8" cy="296.7" r="2.1"/><circle cx="567.0" cy="287.0" r="2.1"/><circle cx="615.0" cy="293.4" r="2.1"/><circle cx="639.3" cy="292.7" r="2.1"/><circle cx="569.8" cy="296.1" r="2.1"/><circle cx="593.6" cy="284.0" r="2.1"/><circle cx="564.8" cy="286.4" r="2.1"/><circle cx="563.1" cy="285.0" r="2.1"/><circle cx="604.4" cy="284.0" r="2.1"/><circle cx="568.8" cy="294.8" r="2.1"/><circle cx="568.9" cy="295.9" r="2.1"/><circle cx="552.1" cy="286.9" r="2.1"/><circle cx="565.6" cy="292.0" r="2.1"/><circle cx="601.0" cy="296.0" r="2.1"/><circle cx="595.7" cy="297.7" r="2.1"/><circle cx="556.2" cy="293.3" r="2.1"/><circle cx="556.2" cy="288.4" r="2.1"/><circle cx="645.3" cy="288.8" r="2.1"/><circle cx="556.4" cy="300.7" r="2.1"/><circle cx="551.3" cy="292.8" r="2.1"/><circle cx="565.6" cy="293.3" r="2.1"/><circle cx="636.6" cy="286.9" r="2.1"/><circle cx="646.6" cy="295.8" r="2.1"/><circle cx="562.7" cy="285.8" r="2.1"/><circle cx="591.0" cy="295.7" r="2.1"/><circle cx="640.9" cy="288.0" r="2.1"/><circle cx="641.3" cy="294.8" r="2.1"/><circle cx="553.7" cy="291.7" r="2.1"/><circle cx="579.5" cy="289.1" r="2.1"/><circle cx="631.4" cy="286.9" r="2.1"/><circle cx="558.2" cy="283.5" r="2.1"/><circle cx="606.4" cy="296.1" r="2.1"/><circle cx="578.3" cy="293.6" r="2.1"/><circle cx="641.4" cy="292.8" r="2.1"/><circle cx="560.1" cy="283.2" r="2.1"/><circle cx="561.2" cy="296.4" r="2.1"/><circle cx="635.7" cy="285.1" r="2.1"/><circle cx="616.8" cy="299.5" r="2.1"/><circle cx="581.2" cy="299.9" r="2.1"/><circle cx="632.4" cy="288.0" r="2.1"/><circle cx="569.6" cy="297.7" r="2.1"/><circle cx="580.6" cy="274.1" r="2.1"/><circle cx="551.7" cy="294.4" r="2.1"/><circle cx="621.5" cy="287.1" r="2.1"/><circle cx="645.3" cy="290.6" r="2.1"/><circle cx="576.2" cy="281.8" r="2.1"/><circle cx="618.4" cy="296.9" r="2.1"/><circle cx="640.0" cy="286.1" r="2.1"/><circle cx="616.4" cy="289.3" r="2.1"/><circle cx="559.0" cy="294.7" r="2.1"/><circle cx="567.9" cy="282.4" r="2.1"/><circle cx="652.0" cy="285.8" r="2.1"/><circle cx="600.9" cy="288.9" r="2.1"/><circle cx="568.4" cy="300.7" r="2.1"/><circle cx="556.8" cy="283.2" r="2.1"/><circle cx="583.7" cy="289.9" r="2.1"/><circle cx="608.9" cy="295.7" r="2.1"/><circle cx="610.4" cy="291.5" r="2.1"/><circle cx="653.1" cy="286.8" r="2.1"/><circle cx="599.2" cy="287.2" r="2.1"/><circle cx="652.7" cy="292.9" r="2.1"/><circle cx="602.5" cy="296.8" r="2.1"/><circle cx="653.8" cy="295.7" r="2.1"/><circle cx="554.0" cy="284.3" r="2.1"/><circle cx="563.4" cy="282.9" r="2.1"/><circle cx="553.7" cy="300.0" r="2.1"/><circle cx="592.9" cy="295.1" r="2.1"/><circle cx="577.4" cy="280.3" r="2.1"/><circle cx="653.3" cy="286.4" r="2.1"/><circle cx="640.9" cy="286.0" r="2.1"/><circle cx="600.2" cy="289.9" r="2.1"/><circle cx="609.4" cy="293.9" r="2.1"/><circle cx="563.3" cy="298.5" r="2.1"/><circle cx="571.3" cy="284.6" r="2.1"/><circle cx="555.4" cy="285.9" r="2.1"/><circle cx="611.4" cy="291.6" r="2.1"/><circle cx="650.2" cy="298.1" r="2.1"/><circle cx="587.3" cy="283.2" r="2.1"/><circle cx="602.9" cy="286.9" r="2.1"/><circle cx="587.7" cy="292.1" r="2.1"/><circle cx="573.6" cy="299.7" r="2.1"/><circle cx="642.8" cy="295.7" r="2.1"/><circle cx="625.6" cy="300.9" r="2.1"/><circle cx="600.3" cy="289.4" r="2.1"/><circle cx="618.2" cy="297.2" r="2.1"/><circle cx="596.2" cy="283.9" r="2.1"/><circle cx="654.6" cy="296.5" r="2.1"/><circle cx="621.0" cy="285.6" r="2.1"/><circle cx="592.9" cy="292.1" r="2.1"/><circle cx="641.6" cy="289.9" r="2.1"/><circle cx="559.2" cy="295.9" r="2.1"/><circle cx="640.2" cy="293.8" r="2.1"/><circle cx="624.9" cy="289.9" r="2.1"/><circle cx="583.3" cy="277.2" r="2.1"/><circle cx="560.8" cy="297.2" r="2.1"/><circle cx="635.8" cy="294.1" r="2.1"/><circle cx="607.4" cy="292.0" r="2.1"/><circle cx="633.9" cy="286.4" r="2.1"/><circle cx="572.7" cy="281.6" r="2.1"/><circle cx="653.1" cy="292.9" r="2.1"/><circle cx="624.2" cy="289.5" r="2.1"/><circle cx="635.1" cy="297.5" r="2.1"/><circle cx="591.6" cy="300.9" r="2.1"/><circle cx="653.5" cy="297.1" r="2.1"/><circle cx="585.8" cy="299.6" r="2.1"/><circle cx="651.5" cy="294.1" r="2.1"/><circle cx="587.9" cy="291.4" r="2.1"/><circle cx="583.3" cy="277.2" r="2.1"/><circle cx="581.9" cy="284.1" r="2.1"/><circle cx="600.7" cy="291.8" r="2.1"/><circle cx="647.3" cy="295.3" r="2.1"/><circle cx="597.3" cy="290.0" r="2.1"/><circle cx="633.3" cy="295.1" r="2.1"/><circle cx="593.9" cy="286.6" r="2.1"/><circle cx="627.8" cy="295.4" r="2.1"/><circle cx="586.4" cy="278.7" r="2.1"/><circle cx="567.7" cy="281.3" r="2.1"/><circle cx="625.4" cy="298.4" r="2.1"/><circle cx="609.9" cy="283.5" r="2.1"/><circle cx="587.1" cy="280.9" r="2.1"/><circle cx="560.2" cy="294.0" r="2.1"/><circle cx="639.8" cy="298.5" r="2.1"/><circle cx="635.2" cy="289.0" r="2.1"/><circle cx="627.1" cy="289.5" r="2.1"/><circle cx="586.4" cy="295.0" r="2.1"/><circle cx="552.1" cy="293.2" r="2.1"/><circle cx="583.3" cy="286.7" r="2.1"/><circle cx="574.0" cy="282.0" r="2.1"/><circle cx="651.3" cy="292.4" r="2.1"/><circle cx="572.3" cy="293.1" r="2.1"/><circle cx="642.6" cy="292.9" r="2.1"/><circle cx="611.4" cy="297.8" r="2.1"/><circle cx="642.8" cy="292.5" r="2.1"/><circle cx="609.3" cy="285.6" r="2.1"/><circle cx="566.3" cy="300.3" r="2.1"/><circle cx="575.4" cy="289.6" r="2.1"/><circle cx="572.9" cy="280.5" r="2.1"/><circle cx="577.9" cy="285.7" r="2.1"/><circle cx="575.7" cy="299.0" r="2.1"/><circle cx="581.0" cy="298.6" r="2.1"/><circle cx="619.1" cy="299.4" r="2.1"/><circle cx="598.6" cy="280.7" r="2.1"/><circle cx="565.8" cy="282.8" r="2.1"/><circle cx="563.4" cy="283.0" r="2.1"/><circle cx="575.5" cy="288.4" r="2.1"/><circle cx="619.9" cy="287.3" r="2.1"/><circle cx="593.1" cy="294.9" r="2.1"/><circle cx="561.1" cy="295.5" r="2.1"/><circle cx="559.0" cy="282.9" r="2.1"/><circle cx="631.4" cy="293.6" r="2.1"/><circle cx="613.2" cy="288.5" r="2.1"/><circle cx="565.9" cy="292.5" r="2.1"/><circle cx="582.3" cy="300.7" r="2.1"/><circle cx="633.5" cy="299.3" r="2.1"/><circle cx="568.8" cy="288.1" r="2.1"/><circle cx="589.8" cy="279.0" r="2.1"/><circle cx="600.4" cy="293.1" r="2.1"/><circle cx="581.2" cy="278.2" r="2.1"/><circle cx="552.9" cy="285.5" r="2.1"/><circle cx="601.3" cy="300.8" r="2.1"/><circle cx="624.9" cy="288.6" r="2.1"/><circle cx="577.9" cy="279.9" r="2.1"/><circle cx="642.0" cy="285.1" r="2.1"/><circle cx="645.7" cy="297.4" r="2.1"/><circle cx="581.3" cy="288.8" r="2.1"/><circle cx="561.8" cy="295.5" r="2.1"/><circle cx="561.0" cy="300.4" r="2.1"/><circle cx="593.4" cy="292.5" r="2.1"/><circle cx="651.3" cy="299.4" r="2.1"/><circle cx="636.3" cy="294.9" r="2.1"/><circle cx="589.3" cy="289.2" r="2.1"/><circle cx="629.2" cy="290.0" r="2.1"/><circle cx="648.8" cy="294.9" r="2.1"/><circle cx="647.4" cy="287.4" r="2.1"/><circle cx="602.1" cy="291.4" r="2.1"/><circle cx="581.2" cy="288.8" r="2.1"/><circle cx="602.3" cy="288.6" r="2.1"/><circle cx="577.4" cy="288.4" r="2.1"/><circle cx="591.0" cy="282.6" r="2.1"/><circle cx="555.2" cy="290.4" r="2.1"/><circle cx="620.9" cy="286.3" r="2.1"/><circle cx="644.2" cy="287.2" r="2.1"/><circle cx="561.1" cy="283.6" r="2.1"/><circle cx="635.1" cy="288.0" r="2.1"/><circle cx="556.5" cy="295.1" r="2.1"/><circle cx="575.2" cy="285.0" r="2.1"/><circle cx="610.2" cy="288.1" r="2.1"/><circle cx="642.8" cy="291.7" r="2.1"/><circle cx="616.4" cy="295.2" r="2.1"/><circle cx="607.6" cy="296.3" r="2.1"/><circle cx="581.4" cy="278.1" r="2.1"/><circle cx="597.7" cy="297.4" r="2.1"/><circle cx="600.0" cy="290.5" r="2.1"/><circle cx="644.0" cy="298.5" r="2.1"/><circle cx="649.8" cy="296.4" r="2.1"/><circle cx="621.1" cy="291.1" r="2.1"/><circle cx="574.7" cy="297.6" r="2.1"/><circle cx="618.9" cy="300.5" r="2.1"/><circle cx="575.2" cy="299.1" r="2.1"/><circle cx="571.8" cy="295.3" r="2.1"/><circle cx="595.9" cy="297.3" r="2.1"/><circle cx="614.4" cy="288.6" r="2.1"/><circle cx="634.6" cy="288.1" r="2.1"/><circle cx="627.0" cy="295.0" r="2.1"/><circle cx="628.2" cy="298.8" r="2.1"/><circle cx="564.5" cy="298.6" r="2.1"/><circle cx="629.2" cy="297.8" r="2.1"/><circle cx="651.4" cy="294.5" r="2.1"/><circle cx="631.9" cy="292.9" r="2.1"/><circle cx="649.1" cy="293.0" r="2.1"/><circle cx="606.1" cy="282.6" r="2.1"/><circle cx="593.1" cy="280.4" r="2.1"/><circle cx="550.8" cy="291.1" r="2.1"/><circle cx="557.6" cy="284.2" r="2.1"/><circle cx="651.4" cy="288.4" r="2.1"/><circle cx="585.3" cy="293.9" r="2.1"/><circle cx="553.7" cy="298.2" r="2.1"/><circle cx="599.8" cy="282.4" r="2.1"/><circle cx="560.1" cy="288.7" r="2.1"/><circle cx="619.4" cy="292.7" r="2.1"/><circle cx="582.3" cy="275.6" r="2.1"/><circle cx="625.7" cy="288.7" r="2.1"/><circle cx="597.6" cy="288.7" r="2.1"/><circle cx="609.9" cy="299.9" r="2.1"/><circle cx="633.9" cy="299.2" r="2.1"/><circle cx="578.6" cy="291.3" r="2.1"/><circle cx="620.9" cy="296.9" r="2.1"/><circle cx="593.7" cy="299.2" r="2.1"/><circle cx="600.5" cy="298.6" r="2.1"/><circle cx="599.7" cy="295.3" r="2.1"/><circle cx="573.2" cy="283.1" r="2.1"/><circle cx="606.6" cy="294.1" r="2.1"/><circle cx="603.1" cy="298.0" r="2.1"/><circle cx="640.3" cy="291.9" r="2.1"/><circle cx="557.7" cy="289.3" r="2.1"/><circle cx="566.7" cy="297.5" r="2.1"/><circle cx="578.3" cy="292.2" r="2.1"/><circle cx="626.2" cy="292.2" r="2.1"/><circle cx="642.5" cy="290.9" r="2.1"/><circle cx="598.9" cy="299.9" r="2.1"/><circle cx="570.3" cy="294.4" r="2.1"/><circle cx="553.4" cy="285.9" r="2.1"/><circle cx="601.4" cy="299.5" r="2.1"/><circle cx="641.4" cy="297.6" r="2.1"/><circle cx="564.3" cy="292.9" r="2.1"/><circle cx="579.7" cy="275.8" r="2.1"/><circle cx="564.3" cy="270.5" r="2.1"/><circle cx="570.0" cy="272.0" r="2.1"/><circle cx="576.7" cy="271.5" r="2.1"/><circle cx="648.4" cy="270.8" r="2.1"/><circle cx="580.0" cy="275.0" r="2.1"/><circle cx="545.0" cy="270.0" r="2.1"/><text x="506" y="257.5" font-size="9.3">rs174618</text></g></g><g fill="#2e2b6c" stroke="#1c1c30" stroke-width="0.45"><circle cx="381.8" cy="301.4" r="2.2"/><circle cx="383.9" cy="300.7" r="2.2"/><circle cx="386.3" cy="299.8" r="2.2"/><circle cx="388.1" cy="299.9" r="2.2"/><circle cx="389.9" cy="299.7" r="2.2"/><circle cx="392.7" cy="300.5" r="2.2"/><circle cx="395.1" cy="299.6" r="2.2"/><circle cx="397.9" cy="300.8" r="2.2"/><circle cx="400.5" cy="300.2" r="2.2"/><circle cx="402.6" cy="300.6" r="2.2"/><circle cx="405.0" cy="299.7" r="2.2"/><circle cx="407.5" cy="300.7" r="2.2"/><circle cx="409.5" cy="299.9" r="2.2"/><circle cx="411.1" cy="301.1" r="2.2"/><circle cx="412.7" cy="299.7" r="2.2"/><circle cx="414.4" cy="300.6" r="2.2"/><circle cx="417.1" cy="300.2" r="2.2"/><circle cx="419.0" cy="301.1" r="2.2"/><circle cx="421.2" cy="299.7" r="2.2"/><circle cx="424.1" cy="301.2" r="2.2"/><circle cx="425.9" cy="301.3" r="2.2"/><circle cx="428.5" cy="299.8" r="2.2"/><circle cx="430.6" cy="300.3" r="2.2"/><circle cx="432.8" cy="300.9" r="2.2"/><circle cx="435.6" cy="301.4" r="2.2"/><circle cx="438.0" cy="301.0" r="2.2"/><circle cx="440.0" cy="300.3" r="2.2"/><circle cx="441.1" cy="300.4" r="2.2"/><circle cx="443.6" cy="301.4" r="2.2"/><circle cx="444.7" cy="300.6" r="2.2"/><circle cx="446.8" cy="301.1" r="2.2"/><circle cx="448.6" cy="301.3" r="2.2"/><circle cx="450.7" cy="301.3" r="2.2"/><circle cx="453.7" cy="300.9" r="2.2"/><circle cx="455.7" cy="301.2" r="2.2"/><circle cx="457.7" cy="300.1" r="2.2"/><circle cx="460.2" cy="300.6" r="2.2"/><circle cx="462.5" cy="299.7" r="2.2"/><circle cx="464.5" cy="300.6" r="2.2"/><circle cx="467.0" cy="301.4" r="2.2"/><circle cx="468.9" cy="300.6" r="2.2"/><circle cx="470.8" cy="300.4" r="2.2"/><circle cx="473.1" cy="299.5" r="2.2"/><circle cx="475.1" cy="299.8" r="2.2"/><circle cx="477.4" cy="300.9" r="2.2"/><circle cx="479.3" cy="300.3" r="2.2"/><circle cx="481.2" cy="300.5" r="2.2"/><circle cx="483.5" cy="300.6" r="2.2"/><circle cx="485.5" cy="301.3" r="2.2"/><circle cx="487.7" cy="301.2" r="2.2"/><circle cx="489.8" cy="300.8" r="2.2"/><circle cx="491.7" cy="300.1" r="2.2"/><circle cx="493.7" cy="301.4" r="2.2"/><circle cx="495.8" cy="300.3" r="2.2"/><circle cx="498.5" cy="300.6" r="2.2"/><circle cx="500.2" cy="299.7" r="2.2"/><circle cx="502.0" cy="301.2" r="2.2"/><circle cx="504.1" cy="300.4" r="2.2"/><circle cx="506.2" cy="300.4" r="2.2"/><circle cx="508.6" cy="301.2" r="2.2"/><circle cx="511.0" cy="300.8" r="2.2"/><circle cx="512.5" cy="300.1" r="2.2"/><circle cx="514.0" cy="301.2" r="2.2"/><circle cx="516.1" cy="300.3" r="2.2"/><circle cx="518.2" cy="299.7" r="2.2"/><circle cx="521.2" cy="299.8" r="2.2"/><circle cx="524.3" cy="299.9" r="2.2"/><circle cx="525.6" cy="299.8" r="2.2"/><circle cx="528.0" cy="300.9" r="2.2"/><circle cx="530.5" cy="301.1" r="2.2"/><circle cx="532.7" cy="300.2" r="2.2"/><circle cx="534.0" cy="301.2" r="2.2"/><circle cx="536.1" cy="300.1" r="2.2"/><circle cx="538.5" cy="301.2" r="2.2"/><circle cx="540.5" cy="300.8" r="2.2"/><circle cx="543.5" cy="300.1" r="2.2"/><circle cx="546.3" cy="301.5" r="2.2"/><circle cx="547.5" cy="301.0" r="2.2"/><circle cx="549.8" cy="300.3" r="2.2"/><circle cx="552.9" cy="300.6" r="2.2"/><circle cx="554.5" cy="299.6" r="2.2"/><circle cx="556.4" cy="301.1" r="2.2"/><circle cx="558.7" cy="300.0" r="2.2"/><circle cx="560.9" cy="300.4" r="2.2"/><circle cx="562.8" cy="300.7" r="2.2"/><circle cx="565.4" cy="300.7" r="2.2"/><circle cx="567.5" cy="301.3" r="2.2"/><circle cx="570.4" cy="300.4" r="2.2"/><circle cx="572.2" cy="300.3" r="2.2"/><circle cx="573.6" cy="299.6" r="2.2"/><circle cx="576.4" cy="301.0" r="2.2"/><circle cx="578.6" cy="300.0" r="2.2"/><circle cx="580.3" cy="299.6" r="2.2"/><circle cx="582.6" cy="300.6" r="2.2"/><circle cx="583.9" cy="300.4" r="2.2"/><circle cx="586.1" cy="300.1" r="2.2"/><circle cx="588.6" cy="300.7" r="2.2"/><circle cx="590.4" cy="300.2" r="2.2"/><circle cx="593.2" cy="300.1" r="2.2"/><circle cx="595.7" cy="301.1" r="2.2"/><circle cx="597.9" cy="299.5" r="2.2"/><circle cx="600.2" cy="301.3" r="2.2"/><circle cx="602.0" cy="301.4" r="2.2"/><circle cx="604.0" cy="301.3" r="2.2"/><circle cx="606.8" cy="301.2" r="2.2"/><circle cx="608.4" cy="301.1" r="2.2"/><circle cx="611.6" cy="300.8" r="2.2"/><circle cx="613.3" cy="300.6" r="2.2"/><circle cx="616.4" cy="301.3" r="2.2"/><circle cx="618.3" cy="301.0" r="2.2"/><circle cx="620.0" cy="299.9" r="2.2"/><circle cx="621.2" cy="300.8" r="2.2"/><circle cx="623.7" cy="299.5" r="2.2"/><circle cx="626.1" cy="300.6" r="2.2"/><circle cx="628.4" cy="300.8" r="2.2"/><circle cx="630.2" cy="300.2" r="2.2"/><circle cx="632.3" cy="301.3" r="2.2"/><circle cx="634.6" cy="299.7" r="2.2"/><circle cx="636.4" cy="300.7" r="2.2"/><circle cx="638.7" cy="301.1" r="2.2"/><circle cx="641.2" cy="299.8" r="2.2"/><circle cx="644.2" cy="300.7" r="2.2"/><circle cx="645.9" cy="301.1" r="2.2"/><circle cx="648.2" cy="300.7" r="2.2"/><circle cx="651.2" cy="301.2" r="2.2"/><circle cx="652.9" cy="301.1" r="2.2"/><circle cx="381.9" cy="298.8" r="2.2"/><circle cx="383.2" cy="297.7" r="2.2"/><circle cx="385.0" cy="299.0" r="2.2"/><circle cx="387.3" cy="297.5" r="2.2"/><circle cx="389.9" cy="297.9" r="2.2"/><circle cx="391.4" cy="297.5" r="2.2"/><circle cx="393.0" cy="299.0" r="2.2"/><circle cx="395.7" cy="297.3" r="2.2"/><circle cx="397.9" cy="298.5" r="2.2"/><circle cx="399.6" cy="298.9" r="2.2"/><circle cx="402.0" cy="297.9" r="2.2"/><circle cx="404.2" cy="297.2" r="2.2"/><circle cx="406.5" cy="298.6" r="2.2"/><circle cx="408.7" cy="297.8" r="2.2"/><circle cx="410.8" cy="298.8" r="2.2"/><circle cx="413.5" cy="298.7" r="2.2"/><circle cx="416.6" cy="297.2" r="2.2"/><circle cx="419.1" cy="298.3" r="2.2"/><circle cx="422.1" cy="298.3" r="2.2"/><circle cx="424.2" cy="297.6" r="2.2"/><circle cx="426.8" cy="298.9" r="2.2"/><circle cx="429.2" cy="298.2" r="2.2"/><circle cx="431.8" cy="298.5" r="2.2"/><circle cx="434.2" cy="297.7" r="2.2"/><circle cx="435.6" cy="297.7" r="2.2"/><circle cx="437.6" cy="298.0" r="2.2"/><circle cx="440.3" cy="298.6" r="2.2"/><circle cx="442.6" cy="297.5" r="2.2"/><circle cx="444.1" cy="297.5" r="2.2"/><circle cx="446.8" cy="298.8" r="2.2"/><circle cx="448.4" cy="298.3" r="2.2"/><circle cx="451.0" cy="298.9" r="2.2"/><circle cx="454.2" cy="299.0" r="2.2"/><circle cx="456.6" cy="298.5" r="2.2"/><circle cx="459.6" cy="297.7" r="2.2"/><circle cx="461.7" cy="298.7" r="2.2"/><circle cx="463.1" cy="297.6" r="2.2"/><circle cx="465.5" cy="297.1" r="2.2"/><circle cx="467.2" cy="297.9" r="2.2"/><circle cx="470.1" cy="297.2" r="2.2"/><circle cx="472.5" cy="298.1" r="2.2"/><circle cx="475.1" cy="298.5" r="2.2"/><circle cx="477.8" cy="298.5" r="2.2"/><circle cx="480.4" cy="297.6" r="2.2"/><circle cx="482.7" cy="298.6" r="2.2"/><circle cx="485.2" cy="298.6" r="2.2"/><circle cx="487.3" cy="297.1" r="2.2"/><circle cx="489.6" cy="298.8" r="2.2"/><circle cx="492.0" cy="297.5" r="2.2"/><circle cx="494.9" cy="297.4" r="2.2"/><circle cx="496.6" cy="298.2" r="2.2"/><circle cx="498.4" cy="298.2" r="2.2"/><circle cx="500.8" cy="297.5" r="2.2"/><circle cx="502.5" cy="298.2" r="2.2"/><circle cx="505.1" cy="297.2" r="2.2"/><circle cx="506.6" cy="297.0" r="2.2"/><circle cx="509.2" cy="298.7" r="2.2"/><circle cx="510.8" cy="297.5" r="2.2"/><circle cx="512.5" cy="297.6" r="2.2"/><circle cx="513.9" cy="297.4" r="2.2"/><circle cx="516.4" cy="297.1" r="2.2"/><circle cx="518.0" cy="298.4" r="2.2"/><circle cx="519.7" cy="298.5" r="2.2"/><circle cx="521.3" cy="297.7" r="2.2"/><circle cx="523.7" cy="297.2" r="2.2"/><circle cx="526.1" cy="298.5" r="2.2"/><circle cx="527.6" cy="297.4" r="2.2"/><circle cx="529.4" cy="297.3" r="2.2"/><circle cx="531.6" cy="298.1" r="2.2"/><circle cx="533.5" cy="298.6" r="2.2"/><circle cx="534.7" cy="298.3" r="2.2"/><circle cx="536.6" cy="298.2" r="2.2"/><circle cx="538.9" cy="297.8" r="2.2"/><circle cx="541.3" cy="297.1" r="2.2"/><circle cx="544.1" cy="298.1" r="2.2"/><circle cx="546.5" cy="298.7" r="2.2"/><circle cx="548.8" cy="297.2" r="2.2"/><circle cx="551.7" cy="298.4" r="2.2"/><circle cx="553.7" cy="298.2" r="2.2"/><circle cx="555.5" cy="297.4" r="2.2"/><circle cx="557.5" cy="297.1" r="2.2"/><circle cx="559.8" cy="298.1" r="2.2"/><circle cx="562.6" cy="297.4" r="2.2"/><circle cx="564.0" cy="297.4" r="2.2"/><circle cx="565.8" cy="297.2" r="2.2"/><circle cx="568.0" cy="297.5" r="2.2"/><circle cx="570.1" cy="298.6" r="2.2"/><circle cx="572.8" cy="298.6" r="2.2"/><circle cx="575.1" cy="297.1" r="2.2"/><circle cx="577.8" cy="297.5" r="2.2"/><circle cx="579.1" cy="298.7" r="2.2"/><circle cx="581.5" cy="298.8" r="2.2"/><circle cx="584.6" cy="298.9" r="2.2"/><circle cx="586.2" cy="297.0" r="2.2"/><circle cx="587.9" cy="297.5" r="2.2"/><circle cx="589.5" cy="297.9" r="2.2"/><circle cx="592.5" cy="298.1" r="2.2"/><circle cx="594.6" cy="298.6" r="2.2"/><circle cx="597.7" cy="297.9" r="2.2"/><circle cx="599.4" cy="297.9" r="2.2"/><circle cx="602.4" cy="298.8" r="2.2"/><circle cx="604.3" cy="298.7" r="2.2"/><circle cx="607.0" cy="297.7" r="2.2"/><circle cx="609.2" cy="298.1" r="2.2"/><circle cx="612.0" cy="298.2" r="2.2"/><circle cx="613.3" cy="297.1" r="2.2"/><circle cx="616.3" cy="297.7" r="2.2"/><circle cx="617.9" cy="297.4" r="2.2"/><circle cx="620.0" cy="297.6" r="2.2"/><circle cx="622.4" cy="297.7" r="2.2"/><circle cx="625.2" cy="297.3" r="2.2"/><circle cx="626.6" cy="297.6" r="2.2"/><circle cx="629.2" cy="297.4" r="2.2"/><circle cx="631.4" cy="298.1" r="2.2"/><circle cx="633.8" cy="297.4" r="2.2"/><circle cx="636.0" cy="298.6" r="2.2"/><circle cx="638.3" cy="299.0" r="2.2"/><circle cx="639.8" cy="297.2" r="2.2"/><circle cx="642.3" cy="298.5" r="2.2"/><circle cx="644.1" cy="298.2" r="2.2"/><circle cx="645.8" cy="299.0" r="2.2"/><circle cx="648.2" cy="298.8" r="2.2"/><circle cx="650.9" cy="297.7" r="2.2"/><circle cx="652.8" cy="298.5" r="2.2"/><circle cx="381.2" cy="295.3" r="2.2"/><circle cx="383.2" cy="294.7" r="2.2"/><circle cx="385.7" cy="295.2" r="2.2"/><circle cx="387.7" cy="295.8" r="2.2"/><circle cx="389.6" cy="296.5" r="2.2"/><circle cx="392.0" cy="295.9" r="2.2"/><circle cx="393.1" cy="295.0" r="2.2"/><circle cx="395.0" cy="295.7" r="2.2"/><circle cx="397.1" cy="295.0" r="2.2"/><circle cx="398.5" cy="295.0" r="2.2"/><circle cx="401.4" cy="296.0" r="2.2"/><circle cx="404.3" cy="295.2" r="2.2"/><circle cx="406.6" cy="295.3" r="2.2"/><circle cx="409.8" cy="295.2" r="2.2"/><circle cx="412.5" cy="295.9" r="2.2"/><circle cx="414.3" cy="295.8" r="2.2"/><circle cx="416.8" cy="296.4" r="2.2"/><circle cx="419.1" cy="295.7" r="2.2"/><circle cx="421.2" cy="295.2" r="2.2"/><circle cx="423.9" cy="296.1" r="2.2"/><circle cx="426.5" cy="295.7" r="2.2"/><circle cx="428.4" cy="295.4" r="2.2"/><circle cx="431.0" cy="294.8" r="2.2"/><circle cx="433.4" cy="295.6" r="2.2"/><circle cx="435.8" cy="295.8" r="2.2"/><circle cx="437.9" cy="295.3" r="2.2"/><circle cx="440.1" cy="295.4" r="2.2"/><circle cx="441.4" cy="294.6" r="2.2"/><circle cx="443.1" cy="295.3" r="2.2"/><circle cx="445.1" cy="295.0" r="2.2"/><circle cx="447.3" cy="295.0" r="2.2"/><circle cx="449.9" cy="294.6" r="2.2"/><circle cx="451.2" cy="296.3" r="2.2"/><circle cx="453.5" cy="296.4" r="2.2"/><circle cx="456.3" cy="296.2" r="2.2"/><circle cx="457.4" cy="296.1" r="2.2"/><circle cx="460.0" cy="294.6" r="2.2"/><circle cx="462.6" cy="295.3" r="2.2"/><circle cx="465.2" cy="295.4" r="2.2"/><circle cx="467.1" cy="294.8" r="2.2"/><circle cx="468.5" cy="294.5" r="2.2"/><circle cx="470.4" cy="295.4" r="2.2"/><circle cx="472.4" cy="295.4" r="2.2"/><circle cx="474.5" cy="295.6" r="2.2"/><circle cx="476.3" cy="296.4" r="2.2"/><circle cx="479.3" cy="295.8" r="2.2"/><circle cx="481.6" cy="295.6" r="2.2"/><circle cx="483.5" cy="295.4" r="2.2"/><circle cx="485.1" cy="296.5" r="2.2"/><circle cx="487.7" cy="296.5" r="2.2"/><circle cx="490.1" cy="295.1" r="2.2"/><circle cx="492.5" cy="296.2" r="2.2"/><circle cx="494.2" cy="295.2" r="2.2"/><circle cx="497.1" cy="294.8" r="2.2"/><circle cx="498.7" cy="294.6" r="2.2"/><circle cx="500.3" cy="295.1" r="2.2"/><circle cx="503.1" cy="295.8" r="2.2"/><circle cx="505.1" cy="295.1" r="2.2"/><circle cx="507.2" cy="294.5" r="2.2"/><circle cx="509.6" cy="294.6" r="2.2"/><circle cx="511.3" cy="296.0" r="2.2"/><circle cx="513.1" cy="295.9" r="2.2"/><circle cx="514.9" cy="296.3" r="2.2"/><circle cx="517.1" cy="296.1" r="2.2"/><circle cx="519.8" cy="295.2" r="2.2"/><circle cx="521.8" cy="295.7" r="2.2"/><circle cx="524.2" cy="295.1" r="2.2"/><circle cx="525.8" cy="294.6" r="2.2"/><circle cx="528.8" cy="295.2" r="2.2"/><circle cx="531.9" cy="294.8" r="2.2"/><circle cx="534.0" cy="295.7" r="2.2"/><circle cx="535.7" cy="296.4" r="2.2"/><circle cx="538.3" cy="295.9" r="2.2"/><circle cx="540.5" cy="296.1" r="2.2"/><circle cx="542.6" cy="295.1" r="2.2"/><circle cx="546.0" cy="296.3" r="2.2"/><circle cx="548.1" cy="295.3" r="2.2"/><circle cx="550.5" cy="295.2" r="2.2"/><circle cx="553.3" cy="294.6" r="2.2"/><circle cx="555.6" cy="295.1" r="2.2"/><circle cx="557.8" cy="295.4" r="2.2"/><circle cx="560.2" cy="295.8" r="2.2"/><circle cx="562.3" cy="295.0" r="2.2"/><circle cx="564.2" cy="295.4" r="2.2"/><circle cx="566.6" cy="296.1" r="2.2"/><circle cx="568.9" cy="296.2" r="2.2"/><circle cx="571.6" cy="294.6" r="2.2"/><circle cx="573.4" cy="295.8" r="2.2"/><circle cx="576.6" cy="294.6" r="2.2"/><circle cx="578.1" cy="294.9" r="2.2"/><circle cx="580.3" cy="295.6" r="2.2"/><circle cx="582.7" cy="295.1" r="2.2"/><circle cx="584.1" cy="295.1" r="2.2"/><circle cx="586.2" cy="294.5" r="2.2"/><circle cx="588.2" cy="296.2" r="2.2"/><circle cx="590.1" cy="296.1" r="2.2"/><circle cx="592.4" cy="296.0" r="2.2"/><circle cx="594.1" cy="295.0" r="2.2"/><circle cx="596.1" cy="295.6" r="2.2"/><circle cx="597.6" cy="294.5" r="2.2"/><circle cx="599.5" cy="295.7" r="2.2"/><circle cx="602.4" cy="295.8" r="2.2"/><circle cx="604.1" cy="296.0" r="2.2"/><circle cx="606.7" cy="295.1" r="2.2"/><circle cx="609.6" cy="294.8" r="2.2"/><circle cx="611.4" cy="295.6" r="2.2"/><circle cx="613.8" cy="295.3" r="2.2"/><circle cx="616.6" cy="294.9" r="2.2"/><circle cx="619.5" cy="295.5" r="2.2"/><circle cx="621.2" cy="295.8" r="2.2"/><circle cx="623.4" cy="296.4" r="2.2"/><circle cx="625.6" cy="295.2" r="2.2"/><circle cx="627.7" cy="295.9" r="2.2"/><circle cx="628.9" cy="295.3" r="2.2"/><circle cx="631.1" cy="294.8" r="2.2"/><circle cx="633.2" cy="296.4" r="2.2"/><circle cx="635.0" cy="295.2" r="2.2"/><circle cx="637.4" cy="295.0" r="2.2"/><circle cx="640.1" cy="294.6" r="2.2"/><circle cx="642.5" cy="295.1" r="2.2"/><circle cx="645.0" cy="296.0" r="2.2"/><circle cx="646.9" cy="294.9" r="2.2"/><circle cx="648.6" cy="296.1" r="2.2"/><circle cx="649.7" cy="294.9" r="2.2"/><circle cx="652.0" cy="296.4" r="2.2"/><circle cx="654.2" cy="296.1" r="2.2"/><circle cx="381.8" cy="292.4" r="2.2"/><circle cx="384.1" cy="293.7" r="2.2"/><circle cx="386.9" cy="293.7" r="2.2"/><circle cx="388.2" cy="292.3" r="2.2"/><circle cx="391.1" cy="293.0" r="2.2"/><circle cx="392.8" cy="293.9" r="2.2"/><circle cx="395.6" cy="293.0" r="2.2"/><circle cx="398.2" cy="293.1" r="2.2"/><circle cx="400.5" cy="293.7" r="2.2"/><circle cx="403.0" cy="292.3" r="2.2"/><circle cx="405.2" cy="292.0" r="2.2"/><circle cx="408.2" cy="293.8" r="2.2"/><circle cx="410.5" cy="293.8" r="2.2"/><circle cx="412.2" cy="292.9" r="2.2"/><circle cx="414.5" cy="292.1" r="2.2"/><circle cx="417.2" cy="293.5" r="2.2"/><circle cx="420.2" cy="293.7" r="2.2"/><circle cx="422.0" cy="293.4" r="2.2"/><circle cx="423.4" cy="294.0" r="2.2"/><circle cx="426.3" cy="293.1" r="2.2"/><circle cx="427.4" cy="292.5" r="2.2"/><circle cx="430.8" cy="292.6" r="2.2"/><circle cx="433.0" cy="293.0" r="2.2"/><circle cx="434.7" cy="292.3" r="2.2"/><circle cx="436.6" cy="293.0" r="2.2"/><circle cx="438.2" cy="293.5" r="2.2"/><circle cx="440.5" cy="292.8" r="2.2"/><circle cx="443.4" cy="292.5" r="2.2"/><circle cx="446.0" cy="293.2" r="2.2"/><circle cx="448.0" cy="292.7" r="2.2"/><circle cx="450.5" cy="292.4" r="2.2"/><circle cx="453.1" cy="293.5" r="2.2"/><circle cx="454.8" cy="293.6" r="2.2"/><circle cx="457.7" cy="292.4" r="2.2"/><circle cx="459.5" cy="292.3" r="2.2"/><circle cx="462.2" cy="292.9" r="2.2"/><circle cx="464.4" cy="293.6" r="2.2"/><circle cx="467.2" cy="293.0" r="2.2"/><circle cx="468.5" cy="292.4" r="2.2"/><circle cx="471.7" cy="292.3" r="2.2"/><circle cx="473.4" cy="293.3" r="2.2"/><circle cx="476.2" cy="293.4" r="2.2"/><circle cx="478.7" cy="293.0" r="2.2"/><circle cx="481.0" cy="293.4" r="2.2"/><circle cx="483.4" cy="292.9" r="2.2"/><circle cx="516.2" cy="293.2" r="2.2"/><circle cx="518.0" cy="293.0" r="2.2"/><circle cx="519.9" cy="292.1" r="2.2"/><circle cx="521.4" cy="292.2" r="2.2"/><circle cx="524.1" cy="292.8" r="2.2"/><circle cx="526.6" cy="293.9" r="2.2"/><circle cx="529.2" cy="293.6" r="2.2"/><circle cx="530.1" cy="293.9" r="2.2"/><circle cx="532.6" cy="293.9" r="2.2"/><circle cx="535.4" cy="292.7" r="2.2"/><circle cx="537.8" cy="292.2" r="2.2"/><circle cx="539.9" cy="292.8" r="2.2"/><circle cx="543.2" cy="293.7" r="2.2"/><circle cx="545.6" cy="292.8" r="2.2"/><circle cx="547.8" cy="292.4" r="2.2"/><circle cx="549.8" cy="292.0" r="2.2"/><circle cx="551.7" cy="293.1" r="2.2"/><circle cx="553.5" cy="292.9" r="2.2"/><circle cx="556.6" cy="293.5" r="2.2"/><circle cx="558.8" cy="293.0" r="2.2"/><circle cx="561.5" cy="293.7" r="2.2"/><circle cx="562.8" cy="293.4" r="2.2"/><circle cx="565.8" cy="292.8" r="2.2"/><circle cx="567.3" cy="292.4" r="2.2"/><circle cx="570.4" cy="293.7" r="2.2"/><circle cx="572.4" cy="292.0" r="2.2"/><circle cx="574.2" cy="292.6" r="2.2"/><circle cx="576.8" cy="293.9" r="2.2"/><circle cx="580.0" cy="292.8" r="2.2"/><circle cx="582.4" cy="293.2" r="2.2"/><circle cx="584.5" cy="293.2" r="2.2"/><circle cx="586.1" cy="293.4" r="2.2"/><circle cx="588.4" cy="292.5" r="2.2"/><circle cx="590.7" cy="293.4" r="2.2"/><circle cx="593.0" cy="292.4" r="2.2"/><circle cx="594.5" cy="294.0" r="2.2"/><circle cx="597.3" cy="293.9" r="2.2"/><circle cx="599.9" cy="293.2" r="2.2"/><circle cx="601.8" cy="292.6" r="2.2"/><circle cx="603.9" cy="292.4" r="2.2"/><circle cx="605.5" cy="292.5" r="2.2"/><circle cx="608.2" cy="293.9" r="2.2"/><circle cx="609.6" cy="292.5" r="2.2"/><circle cx="612.1" cy="292.8" r="2.2"/><circle cx="614.9" cy="292.5" r="2.2"/><circle cx="617.4" cy="293.1" r="2.2"/><circle cx="619.7" cy="293.2" r="2.2"/><circle cx="621.4" cy="292.2" r="2.2"/><circle cx="623.9" cy="293.9" r="2.2"/><circle cx="625.3" cy="292.4" r="2.2"/><circle cx="628.1" cy="292.8" r="2.2"/><circle cx="630.1" cy="292.7" r="2.2"/><circle cx="633.3" cy="293.0" r="2.2"/><circle cx="635.7" cy="292.9" r="2.2"/><circle cx="637.7" cy="292.3" r="2.2"/><circle cx="640.7" cy="293.4" r="2.2"/><circle cx="643.3" cy="292.5" r="2.2"/><circle cx="644.7" cy="293.7" r="2.2"/><circle cx="647.3" cy="293.5" r="2.2"/><circle cx="649.2" cy="293.6" r="2.2"/><circle cx="651.3" cy="292.9" r="2.2"/><circle cx="653.2" cy="293.1" r="2.2"/><circle cx="381.3" cy="290.3" r="2.2"/><circle cx="383.7" cy="291.5" r="2.2"/><circle cx="386.5" cy="290.5" r="2.2"/><circle cx="389.1" cy="289.6" r="2.2"/><circle cx="391.9" cy="290.9" r="2.2"/><circle cx="394.0" cy="290.4" r="2.2"/><circle cx="396.5" cy="291.2" r="2.2"/><circle cx="399.2" cy="289.7" r="2.2"/><circle cx="439.6" cy="289.8" r="2.2"/><circle cx="442.2" cy="290.9" r="2.2"/><circle cx="444.1" cy="288.0" r="2.2"/><circle cx="446.4" cy="288.1" r="2.2"/><circle cx="450.0" cy="288.5" r="2.2"/><circle cx="452.7" cy="288.5" r="2.2"/><circle cx="454.4" cy="288.2" r="2.2"/><circle cx="457.4" cy="290.6" r="2.2"/><circle cx="459.2" cy="289.5" r="2.2"/><circle cx="461.4" cy="289.8" r="2.2"/><circle cx="463.9" cy="288.3" r="2.2"/><circle cx="465.8" cy="289.0" r="2.2"/><circle cx="468.0" cy="289.4" r="2.2"/><circle cx="470.1" cy="290.9" r="2.2"/><circle cx="472.0" cy="288.8" r="2.2"/><circle cx="475.0" cy="289.7" r="2.2"/><circle cx="477.6" cy="289.6" r="2.2"/><circle cx="390.4" cy="280.8" r="2.2"/><circle cx="394.8" cy="282.5" r="2.2"/><circle cx="391.9" cy="284.7" r="2.2"/><circle cx="397.0" cy="285.4" r="2.2"/><circle cx="401.4" cy="283.2" r="2.2"/><circle cx="405.0" cy="283.2" r="2.2"/><circle cx="399.9" cy="288.4" r="2.2"/><circle cx="409.4" cy="286.6" r="2.2"/><circle cx="412.3" cy="287.6" r="2.2"/><circle cx="413.8" cy="280.8" r="2.2"/><circle cx="416.7" cy="278.9" r="2.2"/><circle cx="419.6" cy="277.4" r="2.2"/><circle cx="434.2" cy="280.8" r="2.2"/><circle cx="437.9" cy="285.4" r="2.2"/><circle cx="442.2" cy="284.0" r="2.2"/><circle cx="428.4" cy="286.9" r="2.2"/><circle cx="429.8" cy="289.1" r="2.2"/><circle cx="384.0" cy="290.0" r="2.2"/><circle cx="387.0" cy="288.0" r="2.2"/><circle cx="453.9" cy="275.2" r="2.2"/><circle cx="467.8" cy="281.3" r="2.2"/><circle cx="478.4" cy="287.4" r="2.2"/><circle cx="464.3" cy="281.9" r="2.2"/><circle cx="453.8" cy="284.6" r="2.2"/><circle cx="456.4" cy="282.5" r="2.2"/><circle cx="470.1" cy="285.8" r="2.2"/><circle cx="462.9" cy="286.5" r="2.2"/><circle cx="461.3" cy="277.1" r="2.2"/><circle cx="475.6" cy="284.7" r="2.2"/><circle cx="459.2" cy="286.8" r="2.2"/><circle cx="475.5" cy="277.9" r="2.2"/><circle cx="450.4" cy="283.6" r="2.2"/><circle cx="461.0" cy="286.1" r="2.2"/><circle cx="468.9" cy="279.1" r="2.2"/><circle cx="460.0" cy="277.2" r="2.2"/><circle cx="467.3" cy="286.1" r="2.2"/><circle cx="469.5" cy="287.4" r="2.2"/><circle cx="461.4" cy="282.0" r="2.2"/><circle cx="454.5" cy="287.7" r="2.2"/><circle cx="460.4" cy="278.7" r="2.2"/><circle cx="455.1" cy="283.3" r="2.2"/><circle cx="467.3" cy="286.8" r="2.2"/><circle cx="460.2" cy="278.6" r="2.2"/><circle cx="472.7" cy="282.3" r="2.2"/><circle cx="467.8" cy="288.9" r="2.2"/><circle cx="456.1" cy="284.7" r="2.2"/><circle cx="450.7" cy="283.6" r="2.2"/><circle cx="467.4" cy="281.0" r="2.2"/><circle cx="467.3" cy="282.9" r="2.2"/><circle cx="474.1" cy="286.1" r="2.2"/><circle cx="457.9" cy="286.1" r="2.2"/><circle cx="457.9" cy="278.6" r="2.2"/><circle cx="462.7" cy="278.1" r="2.2"/><circle cx="463.6" cy="284.4" r="2.2"/><circle cx="467.5" cy="288.6" r="2.2"/><circle cx="463.4" cy="284.8" r="2.2"/><circle cx="463.5" cy="284.1" r="2.2"/><circle cx="468.9" cy="281.2" r="2.2"/><circle cx="449.0" cy="282.7" r="2.2"/><circle cx="461.5" cy="284.5" r="2.2"/><circle cx="482.5" cy="268.5" r="2.2"/><circle cx="485.0" cy="267.0" r="2.2"/><circle cx="486.7" cy="266.8" r="2.2"/><circle cx="488.7" cy="266.0" r="2.2"/><circle cx="491.7" cy="265.7" r="2.2"/><circle cx="493.5" cy="266.8" r="2.2"/><circle cx="495.0" cy="266.7" r="2.2"/><circle cx="497.0" cy="266.8" r="2.2"/><circle cx="499.4" cy="266.4" r="2.2"/><circle cx="502.4" cy="266.4" r="2.2"/><circle cx="504.8" cy="266.8" r="2.2"/><circle cx="506.9" cy="266.2" r="2.2"/><circle cx="509.9" cy="266.0" r="2.2"/><circle cx="512.4" cy="266.7" r="2.2"/><circle cx="513.9" cy="265.6" r="2.2"/><circle cx="516.1" cy="265.8" r="2.2"/><circle cx="518.5" cy="267.0" r="2.2"/><circle cx="520.2" cy="266.2" r="2.2"/><circle cx="523.3" cy="266.9" r="2.2"/><circle cx="524.7" cy="266.7" r="2.2"/><circle cx="527.0" cy="267.1" r="2.2"/><circle cx="528.9" cy="265.6" r="2.2"/><circle cx="531.7" cy="266.7" r="2.2"/><circle cx="533.7" cy="265.5" r="2.2"/><circle cx="489.6" cy="269.8" r="2.2"/><circle cx="493.1" cy="270.9" r="2.2"/><circle cx="498.2" cy="269.2" r="2.2"/><circle cx="502.0" cy="270.1" r="2.2"/><circle cx="507.0" cy="269.4" r="2.2"/><circle cx="509.8" cy="271.1" r="2.2"/><circle cx="514.7" cy="269.8" r="2.2"/><circle cx="519.6" cy="270.2" r="2.2"/><circle cx="523.4" cy="268.8" r="2.2"/><circle cx="526.8" cy="271.0" r="2.2"/><circle cx="530.9" cy="269.8" r="2.2"/><circle cx="481.8" cy="275.2" r="2.2"/><circle cx="485.1" cy="287.9" r="2.2"/><circle cx="480.6" cy="283.4" r="2.2"/><circle cx="483.5" cy="273.1" r="2.2"/><circle cx="485.7" cy="277.9" r="2.2"/><circle cx="482.0" cy="291.3" r="2.2"/><circle cx="476.6" cy="293.5" r="2.2"/><circle cx="482.2" cy="280.2" r="2.2"/><circle cx="476.4" cy="272.8" r="2.2"/><circle cx="482.9" cy="277.5" r="2.2"/><circle cx="478.5" cy="286.7" r="2.2"/><circle cx="481.5" cy="286.0" r="2.2"/><circle cx="481.4" cy="278.3" r="2.2"/><circle cx="482.0" cy="286.2" r="2.2"/><circle cx="485.9" cy="287.9" r="2.2"/><circle cx="481.6" cy="284.8" r="2.2"/><circle cx="476.4" cy="285.5" r="2.2"/><circle cx="482.5" cy="273.1" r="2.2"/><circle cx="480.0" cy="290.2" r="2.2"/><circle cx="482.3" cy="292.8" r="2.2"/><circle cx="519.7" cy="296.3" r="2.2"/><circle cx="522.1" cy="275.7" r="2.2"/><circle cx="523.1" cy="289.0" r="2.2"/><circle cx="523.3" cy="283.5" r="2.2"/><circle cx="516.0" cy="277.4" r="2.2"/><circle cx="515.8" cy="269.6" r="2.2"/><circle cx="523.6" cy="299.6" r="2.2"/><circle cx="522.0" cy="285.5" r="2.2"/><circle cx="513.7" cy="284.9" r="2.2"/><circle cx="520.7" cy="299.2" r="2.2"/><circle cx="515.0" cy="275.5" r="2.2"/><circle cx="516.4" cy="272.3" r="2.2"/><circle cx="518.1" cy="278.9" r="2.2"/><circle cx="517.8" cy="299.4" r="2.2"/><circle cx="521.7" cy="290.7" r="2.2"/><circle cx="520.3" cy="277.6" r="2.2"/><circle cx="520.2" cy="293.9" r="2.2"/><circle cx="515.1" cy="273.5" r="2.2"/><circle cx="524.7" cy="289.2" r="2.2"/><circle cx="521.0" cy="269.2" r="2.2"/><circle cx="505.4" cy="278.0" r="2.2"/><circle cx="501.4" cy="286.0" r="2.2"/><circle cx="492.0" cy="288.0" r="2.2"/><circle cx="508.8" cy="286.8" r="2.2"/><circle cx="500.7" cy="260.4" r="2.2"/><circle cx="527.5" cy="274.7" r="2.2"/><circle cx="535.5" cy="278.0" r="2.2"/><circle cx="488.0" cy="291.0" r="2.2"/><circle cx="496.0" cy="292.0" r="2.2"/><circle cx="510.0" cy="293.0" r="2.2"/><circle cx="525.7" cy="271.5" r="2.2"/><circle cx="529.2" cy="271.7" r="2.2"/><circle cx="532.0" cy="270.7" r="2.2"/><circle cx="534.3" cy="271.3" r="2.2"/><circle cx="536.7" cy="271.9" r="2.2"/><circle cx="539.5" cy="272.3" r="2.2"/><circle cx="541.7" cy="270.7" r="2.2"/><circle cx="544.2" cy="272.0" r="2.2"/><circle cx="546.7" cy="271.3" r="2.2"/><circle cx="548.9" cy="272.1" r="2.2"/><circle cx="551.4" cy="272.8" r="2.2"/><circle cx="537.3" cy="288.4" r="2.2"/><circle cx="543.1" cy="283.6" r="2.2"/><circle cx="537.0" cy="285.3" r="2.2"/><circle cx="549.6" cy="280.4" r="2.2"/><circle cx="543.5" cy="279.3" r="2.2"/><circle cx="539.8" cy="292.2" r="2.2"/><circle cx="537.4" cy="289.7" r="2.2"/><circle cx="552.6" cy="287.0" r="2.2"/><circle cx="554.2" cy="279.1" r="2.2"/><circle cx="552.2" cy="274.6" r="2.2"/><circle cx="549.3" cy="280.2" r="2.2"/><circle cx="552.4" cy="280.4" r="2.2"/><circle cx="545.1" cy="280.0" r="2.2"/><circle cx="538.6" cy="278.1" r="2.2"/><circle cx="538.2" cy="275.0" r="2.2"/><circle cx="549.8" cy="275.1" r="2.2"/><circle cx="549.1" cy="285.4" r="2.2"/><circle cx="546.5" cy="284.4" r="2.2"/><circle cx="538.8" cy="277.1" r="2.2"/><circle cx="540.2" cy="288.8" r="2.2"/><circle cx="543.2" cy="279.8" r="2.2"/><circle cx="544.8" cy="287.1" r="2.2"/><circle cx="533.4" cy="292.1" r="2.2"/><circle cx="526.9" cy="289.2" r="2.2"/><circle cx="531.3" cy="289.9" r="2.2"/><circle cx="524.5" cy="288.1" r="2.2"/><circle cx="526.9" cy="290.7" r="2.2"/><circle cx="526.8" cy="292.0" r="2.2"/><circle cx="536.5" cy="290.9" r="2.2"/><circle cx="539.7" cy="293.3" r="2.2"/><circle cx="641.8" cy="299.5" r="2.2"/><circle cx="584.0" cy="298.8" r="2.2"/><circle cx="578.9" cy="293.0" r="2.2"/><circle cx="584.7" cy="288.4" r="2.2"/><circle cx="616.0" cy="298.4" r="2.2"/><circle cx="584.0" cy="276.4" r="2.2"/><circle cx="579.4" cy="293.9" r="2.2"/><circle cx="585.6" cy="286.7" r="2.2"/><circle cx="618.7" cy="290.9" r="2.2"/><circle cx="642.7" cy="291.5" r="2.2"/><circle cx="600.8" cy="298.5" r="2.2"/><circle cx="555.7" cy="289.1" r="2.2"/><circle cx="620.5" cy="295.2" r="2.2"/><circle cx="596.3" cy="288.7" r="2.2"/><circle cx="645.4" cy="299.4" r="2.2"/><circle cx="577.4" cy="286.3" r="2.2"/><circle cx="551.0" cy="282.5" r="2.2"/><circle cx="586.6" cy="284.6" r="2.2"/><circle cx="623.7" cy="286.7" r="2.2"/><circle cx="597.5" cy="297.6" r="2.2"/><circle cx="562.7" cy="286.3" r="2.2"/><circle cx="587.2" cy="290.1" r="2.2"/><circle cx="648.9" cy="288.3" r="2.2"/><circle cx="597.8" cy="292.6" r="2.2"/><circle cx="636.3" cy="299.7" r="2.2"/><circle cx="644.5" cy="287.7" r="2.2"/><circle cx="585.1" cy="275.7" r="2.2"/><circle cx="553.5" cy="289.0" r="2.2"/><circle cx="595.8" cy="292.4" r="2.2"/><circle cx="649.0" cy="286.9" r="2.2"/><circle cx="651.4" cy="296.3" r="2.2"/><circle cx="564.1" cy="295.0" r="2.2"/><circle cx="562.7" cy="283.5" r="2.2"/><circle cx="619.1" cy="286.3" r="2.2"/><circle cx="619.7" cy="291.2" r="2.2"/><circle cx="619.9" cy="289.4" r="2.2"/><circle cx="614.3" cy="285.1" r="2.2"/><circle cx="640.5" cy="297.7" r="2.2"/><circle cx="588.1" cy="292.0" r="2.2"/><circle cx="559.9" cy="294.3" r="2.2"/><circle cx="575.0" cy="300.0" r="2.2"/><circle cx="562.5" cy="282.8" r="2.2"/><circle cx="643.5" cy="296.0" r="2.2"/><circle cx="615.1" cy="285.0" r="2.2"/><circle cx="596.3" cy="295.1" r="2.2"/><circle cx="557.5" cy="297.2" r="2.2"/><circle cx="612.1" cy="285.4" r="2.2"/><circle cx="604.7" cy="289.9" r="2.2"/><circle cx="633.8" cy="294.0" r="2.2"/><circle cx="637.7" cy="297.2" r="2.2"/><circle cx="602.4" cy="285.4" r="2.2"/><circle cx="654.0" cy="290.1" r="2.2"/><circle cx="616.1" cy="298.1" r="2.2"/><circle cx="569.5" cy="281.2" r="2.2"/><circle cx="632.8" cy="296.7" r="2.2"/><circle cx="567.0" cy="287.0" r="2.2"/><circle cx="615.0" cy="293.4" r="2.2"/><circle cx="639.3" cy="292.7" r="2.2"/><circle cx="569.8" cy="296.1" r="2.2"/><circle cx="593.6" cy="284.0" r="2.2"/><circle cx="564.8" cy="286.4" r="2.2"/><circle cx="563.1" cy="285.0" r="2.2"/><circle cx="604.4" cy="284.0" r="2.2"/><circle cx="568.8" cy="294.8" r="2.2"/><circle cx="568.9" cy="295.9" r="2.2"/><circle cx="552.1" cy="286.9" r="2.2"/><circle cx="565.6" cy="292.0" r="2.2"/><circle cx="601.0" cy="296.0" r="2.2"/><circle cx="595.7" cy="297.7" r="2.2"/><circle cx="556.2" cy="293.3" r="2.2"/><circle cx="556.2" cy="288.4" r="2.2"/><circle cx="645.3" cy="288.8" r="2.2"/><circle cx="556.4" cy="300.7" r="2.2"/><circle cx="551.3" cy="292.8" r="2.2"/><circle cx="565.6" cy="293.3" r="2.2"/><circle cx="636.6" cy="286.9" r="2.2"/><circle cx="646.6" cy="295.8" r="2.2"/><circle cx="562.7" cy="285.8" r="2.2"/><circle cx="591.0" cy="295.7" r="2.2"/><circle cx="640.9" cy="288.0" r="2.2"/><circle cx="641.3" cy="294.8" r="2.2"/><circle cx="553.7" cy="291.7" r="2.2"/><circle cx="579.5" cy="289.1" r="2.2"/><circle cx="631.4" cy="286.9" r="2.2"/><circle cx="558.2" cy="283.5" r="2.2"/><circle cx="606.4" cy="296.1" r="2.2"/><circle cx="578.3" cy="293.6" r="2.2"/><circle cx="641.4" cy="292.8" r="2.2"/><circle cx="560.1" cy="283.2" r="2.2"/><circle cx="561.2" cy="296.4" r="2.2"/><circle cx="635.7" cy="285.1" r="2.2"/><circle cx="616.8" cy="299.5" r="2.2"/><circle cx="581.2" cy="299.9" r="2.2"/><circle cx="632.4" cy="288.0" r="2.2"/><circle cx="569.6" cy="297.7" r="2.2"/><circle cx="580.6" cy="274.1" r="2.2"/><circle cx="551.7" cy="294.4" r="2.2"/><circle cx="621.5" cy="287.1" r="2.2"/><circle cx="645.3" cy="290.6" r="2.2"/><circle cx="576.2" cy="281.8" r="2.2"/><circle cx="618.4" cy="296.9" r="2.2"/><circle cx="640.0" cy="286.1" r="2.2"/><circle cx="616.4" cy="289.3" r="2.2"/><circle cx="559.0" cy="294.7" r="2.2"/><circle cx="567.9" cy="282.4" r="2.2"/><circle cx="652.0" cy="285.8" r="2.2"/><circle cx="600.9" cy="288.9" r="2.2"/><circle cx="568.4" cy="300.7" r="2.2"/><circle cx="556.8" cy="283.2" r="2.2"/><circle cx="583.7" cy="289.9" r="2.2"/><circle cx="608.9" cy="295.7" r="2.2"/><circle cx="610.4" cy="291.5" r="2.2"/><circle cx="653.1" cy="286.8" r="2.2"/><circle cx="599.2" cy="287.2" r="2.2"/><circle cx="652.7" cy="292.9" r="2.2"/><circle cx="602.5" cy="296.8" r="2.2"/><circle cx="653.8" cy="295.7" r="2.2"/><circle cx="554.0" cy="284.3" r="2.2"/><circle cx="563.4" cy="282.9" r="2.2"/><circle cx="553.7" cy="300.0" r="2.2"/><circle cx="592.9" cy="295.1" r="2.2"/><circle cx="577.4" cy="280.3" r="2.2"/><circle cx="653.3" cy="286.4" r="2.2"/><circle cx="640.9" cy="286.0" r="2.2"/><circle cx="600.2" cy="289.9" r="2.2"/><circle cx="609.4" cy="293.9" r="2.2"/><circle cx="563.3" cy="298.5" r="2.2"/><circle cx="571.3" cy="284.6" r="2.2"/><circle cx="555.4" cy="285.9" r="2.2"/><circle cx="611.4" cy="291.6" r="2.2"/><circle cx="650.2" cy="298.1" r="2.2"/><circle cx="587.3" cy="283.2" r="2.2"/><circle cx="602.9" cy="286.9" r="2.2"/><circle cx="587.7" cy="292.1" r="2.2"/><circle cx="573.6" cy="299.7" r="2.2"/><circle cx="642.8" cy="295.7" r="2.2"/><circle cx="625.6" cy="300.9" r="2.2"/><circle cx="600.3" cy="289.4" r="2.2"/><circle cx="618.2" cy="297.2" r="2.2"/><circle cx="596.2" cy="283.9" r="2.2"/><circle cx="654.6" cy="296.5" r="2.2"/><circle cx="621.0" cy="285.6" r="2.2"/><circle cx="592.9" cy="292.1" r="2.2"/><circle cx="641.6" cy="289.9" r="2.2"/><circle cx="559.2" cy="295.9" r="2.2"/><circle cx="640.2" cy="293.8" r="2.2"/><circle cx="624.9" cy="289.9" r="2.2"/><circle cx="583.3" cy="277.2" r="2.2"/><circle cx="560.8" cy="297.2" r="2.2"/><circle cx="635.8" cy="294.1" r="2.2"/><circle cx="607.4" cy="292.0" r="2.2"/><circle cx="633.9" cy="286.4" r="2.2"/><circle cx="572.7" cy="281.6" r="2.2"/><circle cx="653.1" cy="292.9" r="2.2"/><circle cx="624.2" cy="289.5" r="2.2"/><circle cx="635.1" cy="297.5" r="2.2"/><circle cx="591.6" cy="300.9" r="2.2"/><circle cx="653.5" cy="297.1" r="2.2"/><circle cx="585.8" cy="299.6" r="2.2"/><circle cx="651.5" cy="294.1" r="2.2"/><circle cx="587.9" cy="291.4" r="2.2"/><circle cx="583.3" cy="277.2" r="2.2"/><circle cx="581.9" cy="284.1" r="2.2"/><circle cx="600.7" cy="291.8" r="2.2"/><circle cx="647.3" cy="295.3" r="2.2"/><circle cx="597.3" cy="290.0" r="2.2"/><circle cx="633.3" cy="295.1" r="2.2"/><circle cx="593.9" cy="286.6" r="2.2"/><circle cx="627.8" cy="295.4" r="2.2"/><circle cx="586.4" cy="278.7" r="2.2"/><circle cx="567.7" cy="281.3" r="2.2"/><circle cx="625.4" cy="298.4" r="2.2"/><circle cx="609.9" cy="283.5" r="2.2"/><circle cx="587.1" cy="280.9" r="2.2"/><circle cx="560.2" cy="294.0" r="2.2"/><circle cx="639.8" cy="298.5" r="2.2"/><circle cx="635.2" cy="289.0" r="2.2"/><circle cx="627.1" cy="289.5" r="2.2"/><circle cx="586.4" cy="295.0" r="2.2"/><circle cx="552.1" cy="293.2" r="2.2"/><circle cx="583.3" cy="286.7" r="2.2"/><circle cx="574.0" cy="282.0" r="2.2"/><circle cx="651.3" cy="292.4" r="2.2"/><circle cx="572.3" cy="293.1" r="2.2"/><circle cx="642.6" cy="292.9" r="2.2"/><circle cx="611.4" cy="297.8" r="2.2"/><circle cx="642.8" cy="292.5" r="2.2"/><circle cx="609.3" cy="285.6" r="2.2"/><circle cx="566.3" cy="300.3" r="2.2"/><circle cx="575.4" cy="289.6" r="2.2"/><circle cx="572.9" cy="280.5" r="2.2"/><circle cx="577.9" cy="285.7" r="2.2"/><circle cx="575.7" cy="299.0" r="2.2"/><circle cx="581.0" cy="298.6" r="2.2"/><circle cx="619.1" cy="299.4" r="2.2"/><circle cx="598.6" cy="280.7" r="2.2"/><circle cx="565.8" cy="282.8" r="2.2"/><circle cx="563.4" cy="283.0" r="2.2"/><circle cx="575.5" cy="288.4" r="2.2"/><circle cx="619.9" cy="287.3" r="2.2"/><circle cx="593.1" cy="294.9" r="2.2"/><circle cx="561.1" cy="295.5" r="2.2"/><circle cx="559.0" cy="282.9" r="2.2"/><circle cx="631.4" cy="293.6" r="2.2"/><circle cx="613.2" cy="288.5" r="2.2"/><circle cx="565.9" cy="292.5" r="2.2"/><circle cx="582.3" cy="300.7" r="2.2"/><circle cx="633.5" cy="299.3" r="2.2"/><circle cx="568.8" cy="288.1" r="2.2"/><circle cx="589.8" cy="279.0" r="2.2"/><circle cx="600.4" cy="293.1" r="2.2"/><circle cx="581.2" cy="278.2" r="2.2"/><circle cx="552.9" cy="285.5" r="2.2"/><circle cx="601.3" cy="300.8" r="2.2"/><circle cx="624.9" cy="288.6" r="2.2"/><circle cx="577.9" cy="279.9" r="2.2"/><circle cx="642.0" cy="285.1" r="2.2"/><circle cx="645.7" cy="297.4" r="2.2"/><circle cx="581.3" cy="288.8" r="2.2"/><circle cx="561.8" cy="295.5" r="2.2"/><circle cx="561.0" cy="300.4" r="2.2"/><circle cx="593.4" cy="292.5" r="2.2"/><circle cx="651.3" cy="299.4" r="2.2"/><circle cx="636.3" cy="294.9" r="2.2"/><circle cx="589.3" cy="289.2" r="2.2"/><circle cx="629.2" cy="290.0" r="2.2"/><circle cx="648.8" cy="294.9" r="2.2"/><circle cx="647.4" cy="287.4" r="2.2"/><circle cx="602.1" cy="291.4" r="2.2"/><circle cx="581.2" cy="288.8" r="2.2"/><circle cx="602.3" cy="288.6" r="2.2"/><circle cx="577.4" cy="288.4" r="2.2"/><circle cx="591.0" cy="282.6" r="2.2"/><circle cx="555.2" cy="290.4" r="2.2"/><circle cx="620.9" cy="286.3" r="2.2"/><circle cx="644.2" cy="287.2" r="2.2"/><circle cx="561.1" cy="283.6" r="2.2"/><circle cx="635.1" cy="288.0" r="2.2"/><circle cx="556.5" cy="295.1" r="2.2"/><circle cx="575.2" cy="285.0" r="2.2"/><circle cx="610.2" cy="288.1" r="2.2"/><circle cx="642.8" cy="291.7" r="2.2"/><circle cx="616.4" cy="295.2" r="2.2"/><circle cx="607.6" cy="296.3" r="2.2"/><circle cx="581.4" cy="278.1" r="2.2"/><circle cx="597.7" cy="297.4" r="2.2"/><circle cx="600.0" cy="290.5" r="2.2"/><circle cx="644.0" cy="298.5" r="2.2"/><circle cx="649.8" cy="296.4" r="2.2"/><circle cx="621.1" cy="291.1" r="2.2"/><circle cx="574.7" cy="297.6" r="2.2"/><circle cx="618.9" cy="300.5" r="2.2"/><circle cx="575.2" cy="299.1" r="2.2"/><circle cx="571.8" cy="295.3" r="2.2"/><circle cx="595.9" cy="297.3" r="2.2"/><circle cx="614.4" cy="288.6" r="2.2"/><circle cx="634.6" cy="288.1" r="2.2"/><circle cx="627.0" cy="295.0" r="2.2"/><circle cx="628.2" cy="298.8" r="2.2"/><circle cx="564.5" cy="298.6" r="2.2"/><circle cx="629.2" cy="297.8" r="2.2"/><circle cx="651.4" cy="294.5" r="2.2"/><circle cx="631.9" cy="292.9" r="2.2"/><circle cx="649.1" cy="293.0" r="2.2"/><circle cx="606.1" cy="282.6" r="2.2"/><circle cx="593.1" cy="280.4" r="2.2"/><circle cx="550.8" cy="291.1" r="2.2"/><circle cx="557.6" cy="284.2" r="2.2"/><circle cx="651.4" cy="288.4" r="2.2"/><circle cx="585.3" cy="293.9" r="2.2"/><circle cx="553.7" cy="298.2" r="2.2"/><circle cx="599.8" cy="282.4" r="2.2"/><circle cx="560.1" cy="288.7" r="2.2"/><circle cx="619.4" cy="292.7" r="2.2"/><circle cx="582.3" cy="275.6" r="2.2"/><circle cx="625.7" cy="288.7" r="2.2"/><circle cx="597.6" cy="288.7" r="2.2"/><circle cx="609.9" cy="299.9" r="2.2"/><circle cx="633.9" cy="299.2" r="2.2"/><circle cx="578.6" cy="291.3" r="2.2"/><circle cx="620.9" cy="296.9" r="2.2"/><circle cx="593.7" cy="299.2" r="2.2"/><circle cx="600.5" cy="298.6" r="2.2"/><circle cx="599.7" cy="295.3" r="2.2"/><circle cx="573.2" cy="283.1" r="2.2"/><circle cx="606.6" cy="294.1" r="2.2"/><circle cx="603.1" cy="298.0" r="2.2"/><circle cx="640.3" cy="291.9" r="2.2"/><circle cx="557.7" cy="289.3" r="2.2"/><circle cx="566.7" cy="297.5" r="2.2"/><circle cx="578.3" cy="292.2" r="2.2"/><circle cx="626.2" cy="292.2" r="2.2"/><circle cx="642.5" cy="290.9" r="2.2"/><circle cx="598.9" cy="299.9" r="2.2"/><circle cx="570.3" cy="294.4" r="2.2"/><circle cx="553.4" cy="285.9" r="2.2"/><circle cx="601.4" cy="299.5" r="2.2"/><circle cx="641.4" cy="297.6" r="2.2"/><circle cx="564.3" cy="292.9" r="2.2"/><circle cx="579.7" cy="275.8" r="2.2"/><circle cx="564.3" cy="270.5" r="2.2"/><circle cx="570.0" cy="272.0" r="2.2"/><circle cx="576.7" cy="271.5" r="2.2"/><circle cx="648.4" cy="270.8" r="2.2"/><circle cx="580.0" cy="275.0" r="2.2"/><circle cx="545.0" cy="270.0" r="2.2"/></g><g fill="#9a9a9a" stroke="#666" stroke-width="0.45"><circle cx="634.2" cy="281.7" r="2.2"/><circle cx="470.0" cy="302.0" r="2.2"/><circle cx="610.0" cy="299.0" r="2.2"/><circle cx="540.0" cy="300.0" r="2.2"/></g><g fill="#8cc6ea" stroke="#5a7a9a" stroke-width="0.45"><circle cx="521.9" cy="272.7" r="2.2"/><circle cx="518.8" cy="286.8" r="2.2"/><circle cx="520.5" cy="288.5" r="2.2"/><circle cx="524.1" cy="293.4" r="2.2"/><circle cx="526.1" cy="294.8" r="2.2"/><circle cx="529.5" cy="300.1" r="2.2"/></g><g fill="#8cc6ea" stroke="#5a7a9a" stroke-width="0.45"><circle cx="521.5" cy="258.3" r="2.2"/></g><g fill="#6db24c" stroke="#3a6a2a" stroke-width="0.45"><circle cx="517.0" cy="264.0" r="2.2"/><circle cx="520.5" cy="263.4" r="2.2"/><circle cx="522.0" cy="262.7" r="2.2"/></g><g fill="#ec9040" stroke="#805020" stroke-width="0.45"><circle cx="520.8" cy="260.7" r="2.2"/></g><g fill="#5a3a9a" stroke="#2a1a4a" stroke-width="0.45"><circle cx="517.5" cy="260.7" r="2.2"/></g><text x="505.9" y="257.5" font-size="9.3" text-anchor="start" font-weight="normal" font-style="normal" fill="#111" >rs174618</text><rect x="380.8" y="196.8" width="24.80000000000001" height="56.099999999999994" fill="#fff" stroke="#b0b0b0" stroke-width="0.8" rx="1"/><rect x="385.0" y="206.7" width="5.699999999999989" height="8.600000000000023" fill="#d63a34"/><rect x="385.0" y="215.3" width="5.699999999999989" height="9.0" fill="#ec9040"/><rect x="385.0" y="224.3" width="5.699999999999989" height="8.599999999999994" fill="#6db24c"/><rect x="385.0" y="232.9" width="5.699999999999989" height="8.599999999999994" fill="#84c4ec"/><rect x="385.0" y="241.5" width="5.699999999999989" height="8.199999999999989" fill="#272a60"/><rect x="385.0" y="206.7" width="5.699999999999989" height="43.0" fill="none" stroke="#444" stroke-width="0.4"/><line x1="390.7" y1="215.3" x2="393.2" y2="215.3" stroke="#666" stroke-width="0.5"/><text x="394.0" y="217.0" font-size="4.8" text-anchor="start" font-weight="normal" font-style="normal" fill="#555" >0.8</text><line x1="390.7" y1="224.3" x2="393.2" y2="224.3" stroke="#666" stroke-width="0.5"/><text x="394.0" y="226.0" font-size="4.8" text-anchor="start" font-weight="normal" font-style="normal" fill="#555" >0.6</text><line x1="390.7" y1="232.9" x2="393.2" y2="232.9" stroke="#666" stroke-width="0.5"/><text x="394.0" y="234.6" font-size="4.8" text-anchor="start" font-weight="normal" font-style="normal" fill="#555" >0.4</text><line x1="390.7" y1="241.5" x2="393.2" y2="241.5" stroke="#666" stroke-width="0.5"/><text x="394.0" y="243.2" font-size="4.8" text-anchor="start" font-weight="normal" font-style="normal" fill="#555" >0.2</text><text x="391.9" y="203.7" font-size="5" font-style="italic" fill="#555">r<tspan font-size="3.5" dy="-2">2</tspan></text><rect x="379.3" y="312.8" width="277" height="78.4" fill="none" stroke="#9a9a9a" stroke-width="0.9"/><line x1="438" y1="391.2" x2="438" y2="395.1" stroke="#666" stroke-width="0.8"/><text x="438" y="404.6" font-size="9.6" text-anchor="middle" font-weight="normal" font-style="normal" fill="#231815" >61.4</text><line x1="507.6" y1="391.2" x2="507.6" y2="395.1" stroke="#666" stroke-width="0.8"/><text x="507.6" y="404.6" font-size="9.6" text-anchor="middle" font-weight="normal" font-style="normal" fill="#231815" >61.6</text><line x1="577.2" y1="391.2" x2="577.2" y2="395.1" stroke="#666" stroke-width="0.8"/><text x="577.2" y="404.6" font-size="9.6" text-anchor="middle" font-weight="normal" font-style="normal" fill="#231815" >61.8</text><line x1="646.8" y1="391.2" x2="646.8" y2="395.1" stroke="#666" stroke-width="0.8"/><text x="646.8" y="404.6" font-size="9.6" text-anchor="middle" font-weight="normal" font-style="normal" fill="#231815" >62.0</text><text x="526.8" y="416.6" font-size="9.6" text-anchor="middle" font-weight="normal" font-style="normal" fill="#231815" >Position on chr11 (Mb)</text><g clip-path="url(#cpg)"><g transform="matrix(1.1,0,0,1.12,-120.4,-34.9)"><text x="381.3" y="318.8" font-size="5.2" font-style="italic" fill="#f0f0f0">PPP1R32</text><line x1="404.7" y1="317.2" x2="408.9" y2="317.2" stroke="#f0f0f0" stroke-width="0.6"/><polygon points="409.9,317.2 408.1,316.2 408.1,318.2" fill="#f0f0f0"/><text x="423.9" y="318.8" font-size="5.2" font-style="italic" fill="#f0f0f0">RPLP0P2</text><line x1="447.3" y1="317.2" x2="451.5" y2="317.2" stroke="#f0f0f0" stroke-width="0.6"/><polygon points="452.5,317.2 450.7,316.2 450.7,318.2" fill="#f0f0f0"/><text x="456.0" y="318.8" font-size="5.2" font-style="italic" fill="#f0f0f0">DAGLA</text><line x1="474.2" y1="317.2" x2="478.4" y2="317.2" stroke="#f0f0f0" stroke-width="0.6"/><polygon points="479.4,317.2 477.6,316.2 477.6,318.2" fill="#f0f0f0"/><line x1="483.4" y1="317.2" x2="487.6" y2="317.2" stroke="#f0f0f0" stroke-width="0.6"/><polygon points="482.4,317.2 484.2,316.2 484.2,318.2" fill="#f0f0f0"/><text x="488.2" y="318.8" font-size="5.2" font-style="italic" fill="#f0f0f0">MIR611</text><line x1="515.3" y1="317.2" x2="519.5" y2="317.2" stroke="#f0f0f0" stroke-width="0.6"/><polygon points="514.3,317.2 516.1,316.2 516.1,318.2" fill="#f0f0f0"/><text x="520.1" y="318.8" font-size="5.2" font-style="italic" fill="#f0f0f0">FADS3</text><text x="540.7" y="318.8" font-size="5.2" font-style="italic" fill="#f0f0f0">BEST1</text><line x1="557.8" y1="317.2" x2="562.0" y2="317.2" stroke="#f0f0f0" stroke-width="0.6"/><polygon points="563.0,317.2 561.2,316.2 561.2,318.2" fill="#f0f0f0"/><text x="602.3" y="318.8" font-size="5.2" font-style="italic" fill="#f0f0f0">INCENP</text><line x1="622.5" y1="317.2" x2="626.7" y2="317.2" stroke="#f0f0f0" stroke-width="0.6"/><polygon points="627.7,317.2 625.9,316.2 625.9,318.2" fill="#f0f0f0"/><text x="383.0" y="329.8" font-size="5.2" font-style="italic" fill="#f0f0f0">MIR4488</text><line x1="404.7" y1="328.2" x2="408.9" y2="328.2" stroke="#f0f0f0" stroke-width="0.6"/><polygon points="409.9,328.2 408.1,327.2 408.1,329.2" fill="#f0f0f0"/><text x="476.7" y="329.8" font-size="5.2" font-style="italic" fill="#f0f0f0">MYRF</text><line x1="492.0" y1="328.2" x2="496.2" y2="328.2" stroke="#f0f0f0" stroke-width="0.6"/><polygon points="497.2,328.2 495.4,327.2 495.4,329.2" fill="#f0f0f0"/><text x="501.4" y="329.8" font-size="5.2" font-style="italic" fill="#f0f0f0">FADS2</text><line x1="518.4" y1="328.2" x2="522.6" y2="328.2" stroke="#f0f0f0" stroke-width="0.6"/><polygon points="523.6,328.2 521.8,327.2 521.8,329.2" fill="#f0f0f0"/><line x1="545.1" y1="328.2" x2="549.3" y2="328.2" stroke="#f0f0f0" stroke-width="0.6"/><polygon points="544.1,328.2 545.9,327.2 545.9,329.2" fill="#f0f0f0"/><text x="549.9" y="329.8" font-size="5.2" font-style="italic" fill="#f0f0f0">FTH1</text><text x="619.4" y="329.8" font-size="5.2" font-style="italic" fill="#f0f0f0">SCGB1D1</text><line x1="644.3" y1="328.2" x2="648.5" y2="328.2" stroke="#f0f0f0" stroke-width="0.6"/><polygon points="649.5,328.2 647.7,327.2 647.7,329.2" fill="#f0f0f0"/><text x="382.1" y="341.1" font-size="5.2" font-style="italic" fill="#f0f0f0">LRRC10B</text><line x1="406.1" y1="339.5" x2="410.3" y2="339.5" stroke="#f0f0f0" stroke-width="0.6"/><polygon points="411.3,339.5 409.5,338.5 409.5,340.5" fill="#f0f0f0"/><line x1="461.2" y1="339.5" x2="465.4" y2="339.5" stroke="#f0f0f0" stroke-width="0.6"/><polygon points="460.2,339.5 462.0,338.5 462.0,340.5" fill="#f0f0f0"/><text x="466.0" y="341.1" font-size="5.2" font-style="italic" fill="#f0f0f0">DKFZP434K028</text><line x1="512.4" y1="339.5" x2="516.6" y2="339.5" stroke="#f0f0f0" stroke-width="0.6"/><polygon points="511.4,339.5 513.2,338.5 513.2,340.5" fill="#f0f0f0"/><text x="517.2" y="341.1" font-size="5.2" font-style="italic" fill="#f0f0f0">MIR6746</text><text x="625.9" y="341.1" font-size="5.2" font-style="italic" fill="#f0f0f0">SCGB2A1</text><line x1="650.5" y1="339.5" x2="654.7" y2="339.5" stroke="#f0f0f0" stroke-width="0.6"/><polygon points="655.7,339.5 653.9,338.5 653.9,340.5" fill="#f0f0f0"/><line x1="400.1" y1="350.8" x2="404.3" y2="350.8" stroke="#f0f0f0" stroke-width="0.6"/><polygon points="399.1,350.8 400.9,349.8 400.9,351.8" fill="#f0f0f0"/><text x="404.9" y="352.4" font-size="5.2" font-style="italic" fill="#f0f0f0">SYT7</text><line x1="479.7" y1="350.8" x2="483.9" y2="350.8" stroke="#f0f0f0" stroke-width="0.6"/><polygon points="478.7,350.8 480.5,349.8 480.5,351.8" fill="#f0f0f0"/><text x="484.5" y="352.4" font-size="5.2" font-style="italic" fill="#f0f0f0">TMEM258</text><line x1="522.4" y1="350.8" x2="526.6" y2="350.8" stroke="#f0f0f0" stroke-width="0.6"/><polygon points="521.4,350.8 523.2,349.8 523.2,351.8" fill="#f0f0f0"/><text x="527.2" y="352.4" font-size="5.2" font-style="italic" fill="#f0f0f0">RAB3IL1</text><text x="627.9" y="352.4" font-size="5.2" font-style="italic" fill="#f0f0f0">SCGB1D2</text><line x1="652.8" y1="350.8" x2="657.0" y2="350.8" stroke="#f0f0f0" stroke-width="0.6"/><polygon points="658.0,350.8 656.2,349.8 656.2,351.8" fill="#f0f0f0"/><text x="406.3" y="363.8" font-size="5.2" font-style="italic" fill="#f0f0f0">LOC101927495</text><line x1="443.6" y1="362.2" x2="447.8" y2="362.2" stroke="#f0f0f0" stroke-width="0.6"/><polygon points="448.8,362.2 447.0,361.2 447.0,363.2" fill="#f0f0f0"/><text x="485.8" y="363.8" font-size="5.2" font-style="italic" fill="#f0f0f0">FEN1</text><line x1="499.7" y1="362.2" x2="503.9" y2="362.2" stroke="#f0f0f0" stroke-width="0.6"/><polygon points="504.9,362.2 503.1,361.2 503.1,363.2" fill="#f0f0f0"/><line x1="489.6" y1="373.0" x2="493.8" y2="373.0" stroke="#f0f0f0" stroke-width="0.6"/><polygon points="488.6,373.0 490.4,372.0 490.4,374.0" fill="#f0f0f0"/><text x="494.4" y="374.6" font-size="5.2" font-style="italic" fill="#f0f0f0">FADS1</text><line x1="489.6" y1="384.4" x2="493.8" y2="384.4" stroke="#f0f0f0" stroke-width="0.6"/><polygon points="488.6,384.4 490.4,383.4 490.4,385.4" fill="#f0f0f0"/><text x="494.4" y="386.0" font-size="5.2" font-style="italic" fill="#f0f0f0">MIR1908</text></g></g><text x="381.3" y="318.8" font-size="5.2" font-style="italic" fill="#262626">PPP1R32</text><line x1="404.7" y1="317.2" x2="408.9" y2="317.2" stroke="#262626" stroke-width="0.6"/><polygon points="409.9,317.2 408.1,316.2 408.1,318.2" fill="#262626"/><text x="423.9" y="318.8" font-size="5.2" font-style="italic" fill="#262626">RPLP0P2</text><line x1="447.3" y1="317.2" x2="451.5" y2="317.2" stroke="#262626" stroke-width="0.6"/><polygon points="452.5,317.2 450.7,316.2 450.7,318.2" fill="#262626"/><text x="456.0" y="318.8" font-size="5.2" font-style="italic" fill="#262626">DAGLA</text><line x1="474.2" y1="317.2" x2="478.4" y2="317.2" stroke="#262626" stroke-width="0.6"/><polygon points="479.4,317.2 477.6,316.2 477.6,318.2" fill="#262626"/><line x1="483.4" y1="317.2" x2="487.6" y2="317.2" stroke="#262626" stroke-width="0.6"/><polygon points="482.4,317.2 484.2,316.2 484.2,318.2" fill="#262626"/><text x="488.2" y="318.8" font-size="5.2" font-style="italic" fill="#262626">MIR611</text><line x1="515.3" y1="317.2" x2="519.5" y2="317.2" stroke="#262626" stroke-width="0.6"/><polygon points="514.3,317.2 516.1,316.2 516.1,318.2" fill="#262626"/><text x="520.1" y="318.8" font-size="5.2" font-style="italic" fill="#262626">FADS3</text><text x="540.7" y="318.8" font-size="5.2" font-style="italic" fill="#262626">BEST1</text><line x1="557.8" y1="317.2" x2="562.0" y2="317.2" stroke="#262626" stroke-width="0.6"/><polygon points="563.0,317.2 561.2,316.2 561.2,318.2" fill="#262626"/><text x="602.3" y="318.8" font-size="5.2" font-style="italic" fill="#262626">INCENP</text><line x1="622.5" y1="317.2" x2="626.7" y2="317.2" stroke="#262626" stroke-width="0.6"/><polygon points="627.7,317.2 625.9,316.2 625.9,318.2" fill="#262626"/><text x="383.0" y="329.8" font-size="5.2" font-style="italic" fill="#262626">MIR4488</text><line x1="404.7" y1="328.2" x2="408.9" y2="328.2" stroke="#262626" stroke-width="0.6"/><polygon points="409.9,328.2 408.1,327.2 408.1,329.2" fill="#262626"/><text x="476.7" y="329.8" font-size="5.2" font-style="italic" fill="#262626">MYRF</text><line x1="492.0" y1="328.2" x2="496.2" y2="328.2" stroke="#262626" stroke-width="0.6"/><polygon points="497.2,328.2 495.4,327.2 495.4,329.2" fill="#262626"/><text x="501.4" y="329.8" font-size="5.2" font-style="italic" fill="#262626">FADS2</text><line x1="518.4" y1="328.2" x2="522.6" y2="328.2" stroke="#262626" stroke-width="0.6"/><polygon points="523.6,328.2 521.8,327.2 521.8,329.2" fill="#262626"/><line x1="545.1" y1="328.2" x2="549.3" y2="328.2" stroke="#262626" stroke-width="0.6"/><polygon points="544.1,328.2 545.9,327.2 545.9,329.2" fill="#262626"/><text x="549.9" y="329.8" font-size="5.2" font-style="italic" fill="#262626">FTH1</text><text x="619.4" y="329.8" font-size="5.2" font-style="italic" fill="#262626">SCGB1D1</text><line x1="644.3" y1="328.2" x2="648.5" y2="328.2" stroke="#262626" stroke-width="0.6"/><polygon points="649.5,328.2 647.7,327.2 647.7,329.2" fill="#262626"/><text x="382.1" y="341.1" font-size="5.2" font-style="italic" fill="#262626">LRRC10B</text><line x1="406.1" y1="339.5" x2="410.3" y2="339.5" stroke="#262626" stroke-width="0.6"/><polygon points="411.3,339.5 409.5,338.5 409.5,340.5" fill="#262626"/><line x1="461.2" y1="339.5" x2="465.4" y2="339.5" stroke="#262626" stroke-width="0.6"/><polygon points="460.2,339.5 462.0,338.5 462.0,340.5" fill="#262626"/><text x="466.0" y="341.1" font-size="5.2" font-style="italic" fill="#262626">DKFZP434K028</text><line x1="512.4" y1="339.5" x2="516.6" y2="339.5" stroke="#262626" stroke-width="0.6"/><polygon points="511.4,339.5 513.2,338.5 513.2,340.5" fill="#262626"/><text x="517.2" y="341.1" font-size="5.2" font-style="italic" fill="#262626">MIR6746</text><text x="625.9" y="341.1" font-size="5.2" font-style="italic" fill="#262626">SCGB2A1</text><line x1="650.5" y1="339.5" x2="654.7" y2="339.5" stroke="#262626" stroke-width="0.6"/><polygon points="655.7,339.5 653.9,338.5 653.9,340.5" fill="#262626"/><line x1="400.1" y1="350.8" x2="404.3" y2="350.8" stroke="#262626" stroke-width="0.6"/><polygon points="399.1,350.8 400.9,349.8 400.9,351.8" fill="#262626"/><text x="404.9" y="352.4" font-size="5.2" font-style="italic" fill="#262626">SYT7</text><line x1="479.7" y1="350.8" x2="483.9" y2="350.8" stroke="#262626" stroke-width="0.6"/><polygon points="478.7,350.8 480.5,349.8 480.5,351.8" fill="#262626"/><text x="484.5" y="352.4" font-size="5.2" font-style="italic" fill="#262626">TMEM258</text><line x1="522.4" y1="350.8" x2="526.6" y2="350.8" stroke="#262626" stroke-width="0.6"/><polygon points="521.4,350.8 523.2,349.8 523.2,351.8" fill="#262626"/><text x="527.2" y="352.4" font-size="5.2" font-style="italic" fill="#262626">RAB3IL1</text><text x="627.9" y="352.4" font-size="5.2" font-style="italic" fill="#262626">SCGB1D2</text><line x1="652.8" y1="350.8" x2="657.0" y2="350.8" stroke="#262626" stroke-width="0.6"/><polygon points="658.0,350.8 656.2,349.8 656.2,351.8" fill="#262626"/><text x="406.3" y="363.8" font-size="5.2" font-style="italic" fill="#262626">LOC101927495</text><line x1="443.6" y1="362.2" x2="447.8" y2="362.2" stroke="#262626" stroke-width="0.6"/><polygon points="448.8,362.2 447.0,361.2 447.0,363.2" fill="#262626"/><text x="485.8" y="363.8" font-size="5.2" font-style="italic" fill="#262626">FEN1</text><line x1="499.7" y1="362.2" x2="503.9" y2="362.2" stroke="#262626" stroke-width="0.6"/><polygon points="504.9,362.2 503.1,361.2 503.1,363.2" fill="#262626"/><line x1="489.6" y1="373.0" x2="493.8" y2="373.0" stroke="#262626" stroke-width="0.6"/><polygon points="488.6,373.0 490.4,372.0 490.4,374.0" fill="#262626"/><text x="494.4" y="374.6" font-size="5.2" font-style="italic" fill="#262626">FADS1</text><line x1="489.6" y1="384.4" x2="493.8" y2="384.4" stroke="#262626" stroke-width="0.6"/><polygon points="488.6,384.4 490.4,383.4 490.4,385.4" fill="#262626"/><text x="494.4" y="386.0" font-size="5.2" font-style="italic" fill="#262626">MIR1908</text><line x1="384" y1="321.3" x2="388" y2="321.3" stroke="#30306e" stroke-width="0.5"/><rect x="384" y="320.60" width="4.00" height="1.4" fill="#30306e"/><line x1="428" y1="321.3" x2="438" y2="321.3" stroke="#30306e" stroke-width="0.5"/><rect x="428" y="320.60" width="1.00" height="1.4" fill="#30306e"/><rect x="431" y="320.60" width="2.00" height="1.4" fill="#30306e"/><rect x="436" y="320.60" width="2.00" height="1.4" fill="#30306e"/><line x1="456" y1="321.3" x2="478" y2="321.3" stroke="#30306e" stroke-width="0.5"/><rect x="470" y="320.60" width="8.00" height="1.4" fill="#30306e"/><line x1="488" y1="321.3" x2="491" y2="321.3" stroke="#30306e" stroke-width="0.5"/><rect x="488" y="320.60" width="3.00" height="1.4" fill="#30306e"/><line x1="518" y1="321.3" x2="524" y2="321.3" stroke="#30306e" stroke-width="0.5"/><rect x="518" y="320.60" width="1.00" height="1.4" fill="#30306e"/><rect x="522" y="320.60" width="2.00" height="1.4" fill="#30306e"/><line x1="544" y1="321.3" x2="552" y2="321.3" stroke="#30306e" stroke-width="0.5"/><rect x="545" y="320.60" width="5.00" height="1.4" fill="#30306e"/><line x1="603" y1="321.3" x2="614" y2="321.3" stroke="#30306e" stroke-width="0.5"/><rect x="603" y="320.60" width="3.00" height="1.4" fill="#30306e"/><rect x="608" y="320.60" width="6.00" height="1.4" fill="#30306e"/><line x1="390" y1="332.4" x2="391.5" y2="332.4" stroke="#30306e" stroke-width="0.5"/><rect x="390" y="331.70" width="1.50" height="1.4" fill="#30306e"/><line x1="478" y1="332.4" x2="494" y2="332.4" stroke="#30306e" stroke-width="0.5"/><rect x="478" y="331.70" width="4.00" height="1.4" fill="#30306e"/><rect x="485" y="331.70" width="2.00" height="1.4" fill="#30306e"/><rect x="492" y="331.70" width="2.00" height="1.4" fill="#30306e"/><line x1="502" y1="332.4" x2="516" y2="332.4" stroke="#30306e" stroke-width="0.5"/><rect x="502" y="331.70" width="2.00" height="1.4" fill="#30306e"/><rect x="507" y="331.70" width="2.00" height="1.4" fill="#30306e"/><rect x="513" y="331.70" width="3.00" height="1.4" fill="#30306e"/><line x1="553" y1="332.4" x2="555" y2="332.4" stroke="#30306e" stroke-width="0.5"/><rect x="553" y="331.70" width="2.00" height="1.4" fill="#30306e"/><line x1="628" y1="332.4" x2="630" y2="332.4" stroke="#30306e" stroke-width="0.5"/><rect x="628" y="331.70" width="2.00" height="1.4" fill="#30306e"/><line x1="384" y1="343.7" x2="385.5" y2="343.7" stroke="#30306e" stroke-width="0.5"/><rect x="384" y="343.00" width="1.50" height="1.4" fill="#30306e"/><line x1="470" y1="343.7" x2="471.5" y2="343.7" stroke="#30306e" stroke-width="0.5"/><rect x="470" y="343.00" width="1.50" height="1.4" fill="#30306e"/><line x1="520" y1="343.7" x2="521.5" y2="343.7" stroke="#30306e" stroke-width="0.5"/><rect x="520" y="343.00" width="1.50" height="1.4" fill="#30306e"/><line x1="632" y1="343.7" x2="633.5" y2="343.7" stroke="#30306e" stroke-width="0.5"/><rect x="632" y="343.00" width="1.50" height="1.4" fill="#30306e"/><line x1="396.3" y1="355" x2="420.5" y2="355" stroke="#30306e" stroke-width="0.5"/><rect x="396.3" y="354.30" width="3.70" height="1.4" fill="#30306e"/><rect x="402" y="354.30" width="2.00" height="1.4" fill="#30306e"/><rect x="407" y="354.30" width="2.00" height="1.4" fill="#30306e"/><line x1="485" y1="355" x2="487" y2="355" stroke="#30306e" stroke-width="0.5"/><rect x="485" y="354.30" width="2.00" height="1.4" fill="#30306e"/><line x1="528" y1="355" x2="540" y2="355" stroke="#30306e" stroke-width="0.5"/><rect x="529" y="354.30" width="3.00" height="1.4" fill="#30306e"/><rect x="535" y="354.30" width="2.00" height="1.4" fill="#30306e"/><line x1="648" y1="355" x2="649.5" y2="355" stroke="#30306e" stroke-width="0.5"/><rect x="648" y="354.30" width="1.50" height="1.4" fill="#30306e"/><line x1="418" y1="366.4" x2="426" y2="366.4" stroke="#30306e" stroke-width="0.5"/><rect x="418" y="365.70" width="2.00" height="1.4" fill="#30306e"/><rect x="424" y="365.70" width="2.00" height="1.4" fill="#30306e"/><line x1="491" y1="366.4" x2="495" y2="366.4" stroke="#30306e" stroke-width="0.5"/><rect x="491" y="365.70" width="4.00" height="1.4" fill="#30306e"/><line x1="495" y1="377.3" x2="503" y2="377.3" stroke="#30306e" stroke-width="0.5"/><rect x="496" y="376.60" width="2.00" height="1.4" fill="#30306e"/><rect x="500" y="376.60" width="3.00" height="1.4" fill="#30306e"/><line x1="491" y1="388.6" x2="492.5" y2="388.6" stroke="#30306e" stroke-width="0.5"/><rect x="491" y="387.90" width="1.50" height="1.4" fill="#30306e"/></svg></body></html>
